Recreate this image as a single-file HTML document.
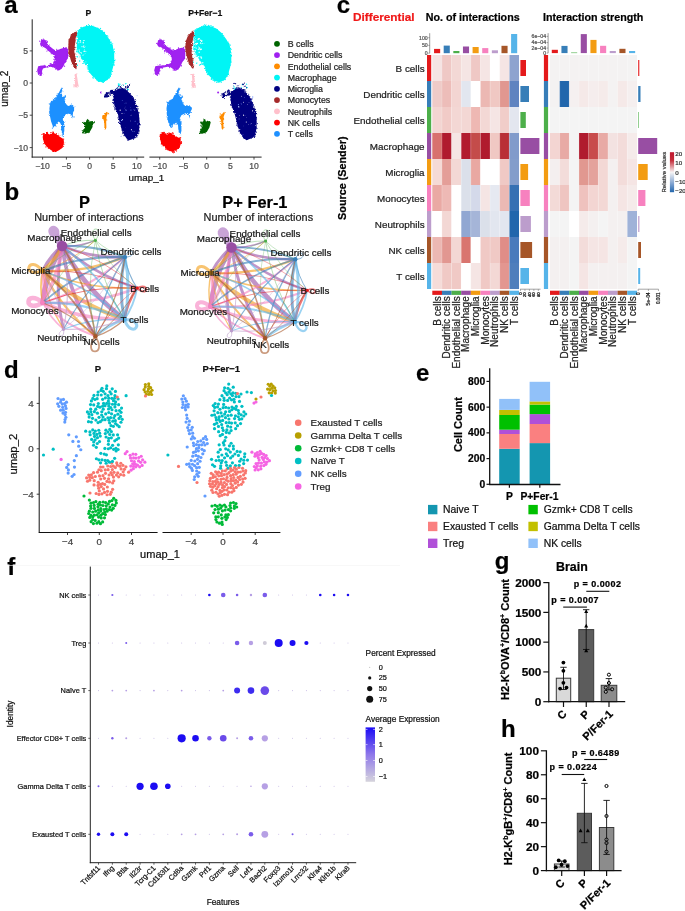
<!DOCTYPE html>
<html><head><meta charset="utf-8"><style>
html,body{margin:0;padding:0;background:#fff;}
body{width:685px;height:911px;overflow:hidden;}
svg{display:block;font-family:"Liberation Sans", sans-serif;will-change:transform;}
text{stroke:currentColor;stroke-width:0.22px;}
</style></head><body>
<svg width="685" height="911" viewBox="0 0 685 911">
<rect width="685" height="911" fill="#fff"/>
<text x="4.30" y="12.90" font-size="24" text-anchor="start" font-weight="bold" fill="#000" color="#000">a</text>
<line x1="32.20" y1="19.30" x2="32.20" y2="157.60" stroke="#222" stroke-width="1"/>
<line x1="31.70" y1="157.10" x2="144.20" y2="157.10" stroke="#222" stroke-width="1"/>
<line x1="149.40" y1="157.10" x2="261.60" y2="157.10" stroke="#222" stroke-width="1"/>
<line x1="29.70" y1="50.90" x2="32.20" y2="50.90" stroke="#222" stroke-width="0.8"/>
<text x="28.00" y="53.91" font-size="8.6" text-anchor="end" fill="#4d4d4d" color="#4d4d4d">5</text>
<line x1="29.70" y1="83.00" x2="32.20" y2="83.00" stroke="#222" stroke-width="0.8"/>
<text x="28.00" y="86.01" font-size="8.6" text-anchor="end" fill="#4d4d4d" color="#4d4d4d">0</text>
<line x1="29.70" y1="115.20" x2="32.20" y2="115.20" stroke="#222" stroke-width="0.8"/>
<text x="28.00" y="118.21" font-size="8.6" text-anchor="end" fill="#4d4d4d" color="#4d4d4d">−5</text>
<line x1="29.70" y1="147.60" x2="32.20" y2="147.60" stroke="#222" stroke-width="0.8"/>
<text x="28.00" y="150.61" font-size="8.6" text-anchor="end" fill="#4d4d4d" color="#4d4d4d">−10</text>
<line x1="42.60" y1="157.10" x2="42.60" y2="159.60" stroke="#222" stroke-width="0.8"/>
<text x="42.60" y="168.81" font-size="8.6" text-anchor="middle" fill="#4d4d4d" color="#4d4d4d">−10</text>
<line x1="66.40" y1="157.10" x2="66.40" y2="159.60" stroke="#222" stroke-width="0.8"/>
<text x="66.40" y="168.81" font-size="8.6" text-anchor="middle" fill="#4d4d4d" color="#4d4d4d">−5</text>
<line x1="89.60" y1="157.10" x2="89.60" y2="159.60" stroke="#222" stroke-width="0.8"/>
<text x="89.60" y="168.81" font-size="8.6" text-anchor="middle" fill="#4d4d4d" color="#4d4d4d">0</text>
<line x1="113.20" y1="157.10" x2="113.20" y2="159.60" stroke="#222" stroke-width="0.8"/>
<text x="113.20" y="168.81" font-size="8.6" text-anchor="middle" fill="#4d4d4d" color="#4d4d4d">5</text>
<line x1="136.90" y1="157.10" x2="136.90" y2="159.60" stroke="#222" stroke-width="0.8"/>
<text x="136.90" y="168.81" font-size="8.6" text-anchor="middle" fill="#4d4d4d" color="#4d4d4d">10</text>
<line x1="159.70" y1="157.10" x2="159.70" y2="159.60" stroke="#222" stroke-width="0.8"/>
<text x="159.70" y="168.81" font-size="8.6" text-anchor="middle" fill="#4d4d4d" color="#4d4d4d">−10</text>
<line x1="183.50" y1="157.10" x2="183.50" y2="159.60" stroke="#222" stroke-width="0.8"/>
<text x="183.50" y="168.81" font-size="8.6" text-anchor="middle" fill="#4d4d4d" color="#4d4d4d">−5</text>
<line x1="206.70" y1="157.10" x2="206.70" y2="159.60" stroke="#222" stroke-width="0.8"/>
<text x="206.70" y="168.81" font-size="8.6" text-anchor="middle" fill="#4d4d4d" color="#4d4d4d">0</text>
<line x1="230.30" y1="157.10" x2="230.30" y2="159.60" stroke="#222" stroke-width="0.8"/>
<text x="230.30" y="168.81" font-size="8.6" text-anchor="middle" fill="#4d4d4d" color="#4d4d4d">5</text>
<line x1="254.00" y1="157.10" x2="254.00" y2="159.60" stroke="#222" stroke-width="0.8"/>
<text x="254.00" y="168.81" font-size="8.6" text-anchor="middle" fill="#4d4d4d" color="#4d4d4d">10</text>
<text x="146.30" y="181.06" font-size="9.9" text-anchor="middle" fill="#111" color="#111">umap_1</text>
<text x="8.30" y="88.70" font-size="10.0" text-anchor="middle" fill="#111" color="#111" transform="rotate(-90 8.30 88.70)">umap_2</text>
<text x="88.30" y="16.11" font-size="8.6" text-anchor="middle" font-weight="bold" fill="#111" color="#111">P</text>
<text x="205.20" y="16.11" font-size="8.6" text-anchor="middle" font-weight="bold" fill="#111" color="#111">P+Fer−1</text>
<defs><filter id="rough" x="-10%" y="-10%" width="120%" height="120%"><feTurbulence type="fractalNoise" baseFrequency="0.9" numOctaves="1" seed="3" result="n"/><feDisplacementMap in="SourceGraphic" in2="n" scale="2.6" xChannelSelector="R" yChannelSelector="G"/></filter></defs>
<g filter="url(#rough)">
<polygon points="86.9,25.8 93.0,26.1 99.2,28.4 104.6,33.1 109.2,39.2 112.6,45.3 114.2,53.0 114.2,60.7 113.0,67.6 110.7,75.3 107.6,79.9 102.3,82.2 97.6,80.7 93.0,76.8 89.2,72.2 87.7,66.1 84.6,63.0 81.5,58.4 78.4,53.0 76.6,47.6 77.2,41.5 77.2,33.8 78.4,30.0 82.3,27.3" fill="#00f5f5"/>
<circle cx="102.39" cy="81.27" r="0.60" fill="#00f5f5"/>
<circle cx="81.36" cy="58.63" r="0.60" fill="#00f5f5"/>
<circle cx="114.08" cy="52.51" r="0.60" fill="#00f5f5"/>
<circle cx="101.38" cy="31.11" r="0.60" fill="#00f5f5"/>
<circle cx="113.59" cy="64.26" r="0.60" fill="#00f5f5"/>
<circle cx="78.54" cy="50.04" r="0.60" fill="#00f5f5"/>
<circle cx="109.54" cy="40.28" r="0.60" fill="#00f5f5"/>
<circle cx="109.29" cy="77.16" r="0.60" fill="#00f5f5"/>
<circle cx="77.02" cy="49.64" r="0.60" fill="#00f5f5"/>
<circle cx="102.46" cy="31.05" r="0.60" fill="#00f5f5"/>
<circle cx="79.84" cy="56.25" r="0.60" fill="#00f5f5"/>
<circle cx="88.20" cy="69.42" r="0.60" fill="#00f5f5"/>
<circle cx="113.74" cy="61.26" r="0.60" fill="#00f5f5"/>
<circle cx="103.35" cy="82.44" r="0.60" fill="#00f5f5"/>
<circle cx="106.35" cy="35.94" r="0.60" fill="#00f5f5"/>
<circle cx="87.22" cy="64.03" r="0.60" fill="#00f5f5"/>
<circle cx="80.40" cy="54.97" r="0.60" fill="#00f5f5"/>
<circle cx="79.76" cy="29.59" r="0.60" fill="#00f5f5"/>
<circle cx="104.54" cy="32.30" r="0.60" fill="#00f5f5"/>
<circle cx="77.69" cy="33.21" r="0.60" fill="#00f5f5"/>
<circle cx="77.19" cy="47.25" r="0.60" fill="#00f5f5"/>
<circle cx="93.24" cy="78.03" r="0.60" fill="#00f5f5"/>
<circle cx="100.82" cy="81.15" r="0.60" fill="#00f5f5"/>
<circle cx="109.84" cy="75.70" r="0.60" fill="#00f5f5"/>
<circle cx="87.36" cy="65.94" r="0.60" fill="#00f5f5"/>
<circle cx="112.64" cy="43.80" r="0.60" fill="#00f5f5"/>
<circle cx="89.58" cy="72.05" r="0.60" fill="#00f5f5"/>
<circle cx="113.44" cy="61.26" r="0.60" fill="#00f5f5"/>
<circle cx="114.78" cy="60.21" r="0.60" fill="#00f5f5"/>
<circle cx="110.54" cy="75.08" r="0.60" fill="#00f5f5"/>
<circle cx="77.15" cy="51.93" r="0.60" fill="#00f5f5"/>
<circle cx="77.42" cy="43.53" r="0.60" fill="#00f5f5"/>
<circle cx="77.96" cy="30.59" r="0.60" fill="#00f5f5"/>
<circle cx="106.64" cy="35.48" r="0.60" fill="#00f5f5"/>
<circle cx="113.50" cy="56.57" r="0.60" fill="#00f5f5"/>
<circle cx="103.97" cy="32.38" r="0.60" fill="#00f5f5"/>
<circle cx="98.64" cy="80.75" r="0.60" fill="#00f5f5"/>
<circle cx="96.47" cy="79.85" r="0.60" fill="#00f5f5"/>
<circle cx="99.38" cy="81.47" r="0.60" fill="#00f5f5"/>
<circle cx="88.14" cy="68.63" r="0.60" fill="#00f5f5"/>
<circle cx="83.45" cy="27.38" r="0.60" fill="#00f5f5"/>
<circle cx="112.90" cy="50.09" r="0.60" fill="#00f5f5"/>
<circle cx="101.69" cy="81.13" r="0.60" fill="#00f5f5"/>
<circle cx="83.93" cy="60.89" r="0.60" fill="#00f5f5"/>
<circle cx="112.54" cy="71.33" r="0.60" fill="#00f5f5"/>
<circle cx="114.06" cy="64.07" r="0.60" fill="#00f5f5"/>
<circle cx="113.98" cy="65.40" r="0.60" fill="#00f5f5"/>
<circle cx="114.77" cy="59.64" r="0.60" fill="#00f5f5"/>
<circle cx="113.95" cy="62.50" r="0.60" fill="#00f5f5"/>
<circle cx="91.67" cy="25.49" r="0.60" fill="#00f5f5"/>
<circle cx="77.08" cy="42.55" r="0.60" fill="#00f5f5"/>
<circle cx="97.57" cy="80.26" r="0.60" fill="#00f5f5"/>
<circle cx="113.34" cy="63.91" r="0.60" fill="#00f5f5"/>
<circle cx="77.07" cy="42.75" r="0.60" fill="#00f5f5"/>
<circle cx="77.49" cy="41.58" r="0.60" fill="#00f5f5"/>
<circle cx="81.29" cy="27.40" r="0.60" fill="#00f5f5"/>
<circle cx="77.74" cy="39.79" r="0.60" fill="#00f5f5"/>
<circle cx="95.91" cy="78.15" r="0.60" fill="#00f5f5"/>
<circle cx="112.20" cy="45.98" r="0.60" fill="#00f5f5"/>
<circle cx="87.35" cy="67.87" r="0.60" fill="#00f5f5"/>
<circle cx="85.39" cy="64.15" r="0.60" fill="#00f5f5"/>
<circle cx="109.81" cy="39.74" r="0.60" fill="#00f5f5"/>
<circle cx="107.80" cy="36.19" r="0.60" fill="#00f5f5"/>
<circle cx="113.68" cy="58.91" r="0.60" fill="#00f5f5"/>
<circle cx="109.62" cy="77.29" r="0.60" fill="#00f5f5"/>
<circle cx="79.54" cy="56.88" r="0.60" fill="#00f5f5"/>
<circle cx="98.37" cy="81.42" r="0.60" fill="#00f5f5"/>
<circle cx="84.05" cy="61.07" r="0.60" fill="#00f5f5"/>
<circle cx="81.05" cy="58.25" r="0.60" fill="#00f5f5"/>
<circle cx="114.07" cy="49.36" r="0.60" fill="#00f5f5"/>
<circle cx="111.22" cy="42.19" r="0.60" fill="#00f5f5"/>
<circle cx="104.04" cy="81.44" r="0.60" fill="#00f5f5"/>
<circle cx="107.87" cy="37.93" r="0.60" fill="#00f5f5"/>
<circle cx="97.80" cy="27.99" r="0.60" fill="#00f5f5"/>
<circle cx="101.80" cy="30.49" r="0.60" fill="#00f5f5"/>
<circle cx="83.58" cy="62.10" r="0.60" fill="#00f5f5"/>
<circle cx="85.67" cy="64.57" r="0.60" fill="#00f5f5"/>
<circle cx="111.58" cy="74.17" r="0.60" fill="#00f5f5"/>
<circle cx="88.31" cy="71.26" r="0.60" fill="#00f5f5"/>
<circle cx="102.70" cy="31.04" r="0.60" fill="#00f5f5"/>
<circle cx="108.98" cy="78.28" r="0.60" fill="#00f5f5"/>
<circle cx="80.67" cy="27.82" r="0.60" fill="#00f5f5"/>
<circle cx="111.98" cy="45.92" r="0.60" fill="#00f5f5"/>
<circle cx="92.92" cy="77.55" r="0.60" fill="#00f5f5"/>
<circle cx="113.88" cy="61.84" r="0.60" fill="#00f5f5"/>
<circle cx="105.11" cy="80.13" r="0.60" fill="#00f5f5"/>
<circle cx="102.31" cy="82.06" r="0.60" fill="#00f5f5"/>
<circle cx="89.28" cy="25.55" r="0.60" fill="#00f5f5"/>
<circle cx="100.56" cy="28.44" r="0.60" fill="#00f5f5"/>
<circle cx="104.58" cy="34.34" r="0.60" fill="#00f5f5"/>
<polygon points="41.0,40.5 44.0,39.2 46.8,41.3 47.3,44.0 49.5,46.3 52.5,48.5 55.5,50.5 59.0,49.5 62.5,48.3 66.0,47.5 67.8,49.8 68.3,53.5 67.9,58.5 65.4,61.5 63.9,65.2 61.7,68.7 58.8,70.5 55.9,69.0 53.5,67.2 50.5,66.8 46.5,67.5 43.0,68.5 42.0,71.0 42.3,74.0 40.6,76.0 38.0,74.5 37.2,70.0 38.2,66.3 42.0,65.5 46.5,65.5 50.5,64.5 53.8,63.0 54.8,59.0 54.0,55.5 51.5,53.5 48.5,51.0 46.0,48.5 43.5,47.0 41.0,46.5 40.0,44.0" fill="#a020f0"/>
<circle cx="67.53" cy="54.71" r="0.60" fill="#a020f0"/>
<circle cx="57.69" cy="69.92" r="0.60" fill="#a020f0"/>
<circle cx="53.76" cy="59.40" r="0.60" fill="#a020f0"/>
<circle cx="67.36" cy="56.42" r="0.60" fill="#a020f0"/>
<circle cx="54.16" cy="50.74" r="0.60" fill="#a020f0"/>
<circle cx="49.61" cy="46.00" r="0.60" fill="#a020f0"/>
<circle cx="48.20" cy="50.17" r="0.60" fill="#a020f0"/>
<circle cx="46.59" cy="42.02" r="0.60" fill="#a020f0"/>
<circle cx="67.36" cy="51.55" r="0.60" fill="#a020f0"/>
<circle cx="47.85" cy="67.07" r="0.60" fill="#a020f0"/>
<circle cx="68.74" cy="55.74" r="0.60" fill="#a020f0"/>
<circle cx="47.23" cy="41.43" r="0.60" fill="#a020f0"/>
<circle cx="66.16" cy="59.95" r="0.60" fill="#a020f0"/>
<circle cx="40.78" cy="66.47" r="0.60" fill="#a020f0"/>
<circle cx="54.04" cy="57.44" r="0.60" fill="#a020f0"/>
<circle cx="66.19" cy="61.24" r="0.60" fill="#a020f0"/>
<circle cx="38.08" cy="70.65" r="0.60" fill="#a020f0"/>
<circle cx="41.65" cy="39.97" r="0.60" fill="#a020f0"/>
<circle cx="68.13" cy="49.79" r="0.60" fill="#a020f0"/>
<circle cx="53.87" cy="56.19" r="0.60" fill="#a020f0"/>
<circle cx="52.80" cy="66.77" r="0.60" fill="#a020f0"/>
<circle cx="42.62" cy="41.01" r="0.60" fill="#a020f0"/>
<circle cx="46.85" cy="50.88" r="0.60" fill="#a020f0"/>
<circle cx="63.97" cy="62.61" r="0.60" fill="#a020f0"/>
<circle cx="51.70" cy="63.63" r="0.60" fill="#a020f0"/>
<circle cx="41.84" cy="39.74" r="0.60" fill="#a020f0"/>
<circle cx="42.54" cy="46.63" r="0.60" fill="#a020f0"/>
<circle cx="64.54" cy="66.13" r="0.60" fill="#a020f0"/>
<circle cx="67.57" cy="49.69" r="0.60" fill="#a020f0"/>
<circle cx="39.01" cy="74.84" r="0.60" fill="#a020f0"/>
<circle cx="51.59" cy="66.09" r="0.60" fill="#a020f0"/>
<circle cx="54.72" cy="57.37" r="0.60" fill="#a020f0"/>
<circle cx="66.14" cy="47.70" r="0.60" fill="#a020f0"/>
<circle cx="46.47" cy="41.64" r="0.60" fill="#a020f0"/>
<circle cx="62.89" cy="65.74" r="0.60" fill="#a020f0"/>
<circle cx="56.73" cy="49.31" r="0.60" fill="#a020f0"/>
<circle cx="46.08" cy="40.50" r="0.60" fill="#a020f0"/>
<circle cx="41.60" cy="40.68" r="0.60" fill="#a020f0"/>
<circle cx="51.27" cy="53.71" r="0.60" fill="#a020f0"/>
<circle cx="50.57" cy="63.70" r="0.60" fill="#a020f0"/>
<circle cx="65.32" cy="62.28" r="0.60" fill="#a020f0"/>
<circle cx="41.14" cy="75.50" r="0.60" fill="#a020f0"/>
<circle cx="47.37" cy="42.21" r="0.60" fill="#a020f0"/>
<circle cx="66.87" cy="48.61" r="0.60" fill="#a020f0"/>
<circle cx="39.69" cy="41.22" r="0.60" fill="#a020f0"/>
<circle cx="52.85" cy="66.74" r="0.60" fill="#a020f0"/>
<circle cx="54.12" cy="61.77" r="0.60" fill="#a020f0"/>
<circle cx="50.46" cy="64.82" r="0.60" fill="#a020f0"/>
<circle cx="47.37" cy="66.62" r="0.60" fill="#a020f0"/>
<circle cx="46.82" cy="66.31" r="0.60" fill="#a020f0"/>
<circle cx="55.72" cy="69.08" r="0.60" fill="#a020f0"/>
<circle cx="50.60" cy="47.62" r="0.60" fill="#a020f0"/>
<circle cx="42.65" cy="74.28" r="0.60" fill="#a020f0"/>
<circle cx="60.98" cy="49.37" r="0.60" fill="#a020f0"/>
<circle cx="53.58" cy="62.23" r="0.60" fill="#a020f0"/>
<circle cx="44.23" cy="65.35" r="0.60" fill="#a020f0"/>
<circle cx="40.39" cy="74.63" r="0.60" fill="#a020f0"/>
<circle cx="41.48" cy="71.37" r="0.60" fill="#a020f0"/>
<circle cx="43.33" cy="39.10" r="0.60" fill="#a020f0"/>
<circle cx="38.35" cy="71.98" r="0.60" fill="#a020f0"/>
<polygon points="61.6,87.3 62.1,89.9 61.2,94.3 63.4,96.9 66.0,96.0 64.3,99.5 66.0,103.9 68.2,106.1 71.3,105.2 73.9,107.0 74.3,110.0 72.6,113.5 73.0,118.8 71.3,114.4 67.8,113.5 64.3,115.3 62.5,118.8 64.3,123.2 64.3,131.0 63.0,135.4 61.2,129.3 60.8,123.2 58.6,121.4 55.5,124.9 53.3,127.5 51.1,121.4 49.8,115.3 49.4,108.3 50.3,103.0 52.9,100.4 55.9,98.6 56.8,96.0 59.0,92.5" fill="#1e90ff"/>
<circle cx="50.72" cy="103.90" r="0.60" fill="#1e90ff"/>
<circle cx="65.18" cy="96.93" r="0.60" fill="#1e90ff"/>
<circle cx="62.44" cy="118.37" r="0.60" fill="#1e90ff"/>
<circle cx="53.64" cy="126.09" r="0.60" fill="#1e90ff"/>
<circle cx="50.71" cy="115.92" r="0.60" fill="#1e90ff"/>
<circle cx="64.80" cy="99.63" r="0.60" fill="#1e90ff"/>
<circle cx="72.59" cy="105.55" r="0.60" fill="#1e90ff"/>
<circle cx="71.59" cy="105.11" r="0.60" fill="#1e90ff"/>
<circle cx="64.69" cy="121.62" r="0.60" fill="#1e90ff"/>
<circle cx="63.86" cy="116.16" r="0.60" fill="#1e90ff"/>
<circle cx="72.44" cy="112.25" r="0.60" fill="#1e90ff"/>
<circle cx="57.93" cy="93.77" r="0.60" fill="#1e90ff"/>
<circle cx="51.50" cy="101.43" r="0.60" fill="#1e90ff"/>
<circle cx="72.00" cy="114.84" r="0.60" fill="#1e90ff"/>
<circle cx="63.42" cy="121.50" r="0.60" fill="#1e90ff"/>
<circle cx="50.09" cy="112.10" r="0.60" fill="#1e90ff"/>
<circle cx="63.51" cy="125.44" r="0.60" fill="#1e90ff"/>
<circle cx="55.23" cy="125.46" r="0.60" fill="#1e90ff"/>
<circle cx="71.69" cy="114.11" r="0.60" fill="#1e90ff"/>
<circle cx="51.08" cy="102.44" r="0.60" fill="#1e90ff"/>
<circle cx="61.85" cy="90.93" r="0.60" fill="#1e90ff"/>
<circle cx="56.75" cy="95.31" r="0.60" fill="#1e90ff"/>
<circle cx="55.36" cy="97.95" r="0.60" fill="#1e90ff"/>
<circle cx="74.81" cy="106.75" r="0.60" fill="#1e90ff"/>
<circle cx="53.65" cy="99.35" r="0.60" fill="#1e90ff"/>
<circle cx="72.66" cy="105.88" r="0.60" fill="#1e90ff"/>
<circle cx="61.50" cy="129.58" r="0.60" fill="#1e90ff"/>
<circle cx="49.33" cy="103.82" r="0.60" fill="#1e90ff"/>
<circle cx="71.84" cy="117.27" r="0.60" fill="#1e90ff"/>
<circle cx="62.76" cy="88.30" r="0.60" fill="#1e90ff"/>
<circle cx="61.63" cy="125.32" r="0.60" fill="#1e90ff"/>
<circle cx="62.47" cy="117.06" r="0.60" fill="#1e90ff"/>
<circle cx="62.35" cy="135.76" r="0.60" fill="#1e90ff"/>
<circle cx="49.28" cy="114.60" r="0.60" fill="#1e90ff"/>
<circle cx="54.16" cy="125.20" r="0.60" fill="#1e90ff"/>
<circle cx="49.47" cy="111.88" r="0.60" fill="#1e90ff"/>
<circle cx="63.35" cy="133.72" r="0.60" fill="#1e90ff"/>
<circle cx="73.05" cy="116.94" r="0.60" fill="#1e90ff"/>
<circle cx="67.57" cy="113.27" r="0.60" fill="#1e90ff"/>
<circle cx="58.86" cy="93.84" r="0.60" fill="#1e90ff"/>
<circle cx="65.23" cy="95.85" r="0.60" fill="#1e90ff"/>
<circle cx="71.39" cy="114.23" r="0.60" fill="#1e90ff"/>
<circle cx="63.79" cy="97.12" r="0.60" fill="#1e90ff"/>
<circle cx="61.80" cy="125.61" r="0.60" fill="#1e90ff"/>
<circle cx="60.65" cy="122.90" r="0.60" fill="#1e90ff"/>
<circle cx="53.29" cy="100.12" r="0.60" fill="#1e90ff"/>
<circle cx="53.23" cy="126.76" r="0.60" fill="#1e90ff"/>
<circle cx="64.51" cy="101.55" r="0.60" fill="#1e90ff"/>
<circle cx="70.41" cy="105.38" r="0.60" fill="#1e90ff"/>
<circle cx="61.40" cy="129.57" r="0.60" fill="#1e90ff"/>
<circle cx="56.15" cy="97.99" r="0.60" fill="#1e90ff"/>
<circle cx="61.77" cy="126.23" r="0.60" fill="#1e90ff"/>
<circle cx="49.93" cy="113.39" r="0.60" fill="#1e90ff"/>
<circle cx="52.44" cy="128.04" r="0.60" fill="#1e90ff"/>
<circle cx="62.06" cy="119.85" r="0.60" fill="#1e90ff"/>
<circle cx="55.72" cy="125.82" r="0.60" fill="#1e90ff"/>
<circle cx="64.18" cy="122.85" r="0.60" fill="#1e90ff"/>
<circle cx="63.45" cy="136.13" r="0.60" fill="#1e90ff"/>
<circle cx="65.48" cy="96.04" r="0.60" fill="#1e90ff"/>
<circle cx="55.56" cy="98.23" r="0.60" fill="#1e90ff"/>
<polygon points="43.3,133.7 46.8,132.8 49.4,134.5 52.9,132.8 55.5,133.7 59.0,136.3 63.4,138.9 63.8,143.3 62.5,147.7 59.0,150.3 55.5,152.0 51.1,150.3 46.8,146.8 44.1,143.3 42.8,138.0" fill="#ff0000"/>
<circle cx="63.06" cy="142.48" r="0.60" fill="#ff0000"/>
<circle cx="46.54" cy="133.56" r="0.60" fill="#ff0000"/>
<circle cx="45.92" cy="146.92" r="0.60" fill="#ff0000"/>
<circle cx="63.84" cy="144.13" r="0.60" fill="#ff0000"/>
<circle cx="53.31" cy="132.99" r="0.60" fill="#ff0000"/>
<circle cx="55.45" cy="151.63" r="0.60" fill="#ff0000"/>
<circle cx="64.63" cy="142.36" r="0.60" fill="#ff0000"/>
<circle cx="47.20" cy="134.03" r="0.60" fill="#ff0000"/>
<circle cx="62.91" cy="143.99" r="0.60" fill="#ff0000"/>
<circle cx="43.58" cy="135.73" r="0.60" fill="#ff0000"/>
<circle cx="52.66" cy="150.34" r="0.60" fill="#ff0000"/>
<circle cx="57.26" cy="135.60" r="0.60" fill="#ff0000"/>
<circle cx="53.48" cy="132.72" r="0.60" fill="#ff0000"/>
<circle cx="58.74" cy="135.69" r="0.60" fill="#ff0000"/>
<circle cx="63.04" cy="140.05" r="0.60" fill="#ff0000"/>
<circle cx="52.22" cy="151.51" r="0.60" fill="#ff0000"/>
<circle cx="47.50" cy="132.32" r="0.60" fill="#ff0000"/>
<circle cx="61.78" cy="146.95" r="0.60" fill="#ff0000"/>
<circle cx="47.11" cy="133.48" r="0.60" fill="#ff0000"/>
<circle cx="55.09" cy="134.30" r="0.60" fill="#ff0000"/>
<circle cx="63.51" cy="146.25" r="0.60" fill="#ff0000"/>
<circle cx="43.84" cy="133.82" r="0.60" fill="#ff0000"/>
<circle cx="52.71" cy="132.01" r="0.60" fill="#ff0000"/>
<circle cx="56.05" cy="134.54" r="0.60" fill="#ff0000"/>
<circle cx="43.77" cy="143.56" r="0.60" fill="#ff0000"/>
<circle cx="50.81" cy="132.60" r="0.60" fill="#ff0000"/>
<circle cx="62.30" cy="144.99" r="0.60" fill="#ff0000"/>
<circle cx="63.04" cy="141.88" r="0.60" fill="#ff0000"/>
<circle cx="55.13" cy="151.56" r="0.60" fill="#ff0000"/>
<circle cx="57.69" cy="134.63" r="0.60" fill="#ff0000"/>
<circle cx="48.41" cy="148.17" r="0.60" fill="#ff0000"/>
<circle cx="43.65" cy="139.50" r="0.60" fill="#ff0000"/>
<circle cx="63.16" cy="141.21" r="0.60" fill="#ff0000"/>
<circle cx="42.18" cy="136.59" r="0.60" fill="#ff0000"/>
<circle cx="55.84" cy="151.19" r="0.60" fill="#ff0000"/>
<circle cx="42.84" cy="134.21" r="0.60" fill="#ff0000"/>
<circle cx="63.66" cy="139.06" r="0.60" fill="#ff0000"/>
<circle cx="61.63" cy="147.54" r="0.60" fill="#ff0000"/>
<circle cx="51.94" cy="132.91" r="0.60" fill="#ff0000"/>
<circle cx="45.21" cy="143.67" r="0.60" fill="#ff0000"/>
<polygon points="87.9,118.8 88.8,121.4 92.7,121.0 93.6,122.3 92.3,127.5 89.7,131.9 85.3,133.7 82.2,132.3 84.4,128.4 85.3,124.9 82.7,122.7 85.7,122.3 86.6,120.1" fill="#006400"/>
<circle cx="88.75" cy="120.53" r="0.60" fill="#006400"/>
<circle cx="84.59" cy="122.76" r="0.60" fill="#006400"/>
<circle cx="93.92" cy="122.05" r="0.60" fill="#006400"/>
<circle cx="83.69" cy="122.47" r="0.60" fill="#006400"/>
<circle cx="94.34" cy="121.90" r="0.60" fill="#006400"/>
<circle cx="88.70" cy="132.53" r="0.60" fill="#006400"/>
<circle cx="93.66" cy="122.98" r="0.60" fill="#006400"/>
<circle cx="88.18" cy="120.34" r="0.60" fill="#006400"/>
<circle cx="83.64" cy="129.81" r="0.60" fill="#006400"/>
<circle cx="83.89" cy="133.07" r="0.60" fill="#006400"/>
<circle cx="87.62" cy="131.85" r="0.60" fill="#006400"/>
<circle cx="82.67" cy="122.63" r="0.60" fill="#006400"/>
<circle cx="83.20" cy="122.61" r="0.60" fill="#006400"/>
<circle cx="82.30" cy="130.48" r="0.60" fill="#006400"/>
<circle cx="89.19" cy="132.08" r="0.60" fill="#006400"/>
<polygon points="107.0,111.8 107.8,113.0 106.5,117.0 106.2,122.0 106.4,127.5 105.6,129.8 104.5,128.5 104.2,122.0 103.5,119.5 102.2,117.5 102.8,115.0 105.0,114.0" fill="#ff8c00"/>
<circle cx="106.37" cy="112.61" r="0.60" fill="#ff8c00"/>
<circle cx="104.77" cy="127.99" r="0.60" fill="#ff8c00"/>
<circle cx="102.61" cy="118.22" r="0.60" fill="#ff8c00"/>
<circle cx="108.58" cy="113.25" r="0.60" fill="#ff8c00"/>
<circle cx="108.42" cy="113.76" r="0.60" fill="#ff8c00"/>
<circle cx="106.69" cy="119.93" r="0.60" fill="#ff8c00"/>
<circle cx="104.48" cy="128.69" r="0.60" fill="#ff8c00"/>
<circle cx="102.93" cy="116.17" r="0.60" fill="#ff8c00"/>
<polygon points="114.0,92.0 118.0,89.0 122.0,88.0 126.0,90.0 130.0,93.5 134.0,99.0 136.8,106.0 138.8,113.6 139.6,121.6 139.2,129.6 137.6,136.0 133.6,138.5 129.5,140.3 126.5,138.5 123.0,133.0 120.7,126.4 119.1,120.0 117.5,113.6 115.5,108.5 114.0,104.0 113.5,98.0" fill="#000080"/>
<circle cx="117.52" cy="113.99" r="0.60" fill="#000080"/>
<circle cx="113.42" cy="100.13" r="0.60" fill="#000080"/>
<circle cx="135.38" cy="101.43" r="0.60" fill="#000080"/>
<circle cx="133.42" cy="138.75" r="0.60" fill="#000080"/>
<circle cx="128.26" cy="93.33" r="0.60" fill="#000080"/>
<circle cx="121.87" cy="130.02" r="0.60" fill="#000080"/>
<circle cx="127.07" cy="91.52" r="0.60" fill="#000080"/>
<circle cx="133.40" cy="139.12" r="0.60" fill="#000080"/>
<circle cx="131.49" cy="138.61" r="0.60" fill="#000080"/>
<circle cx="112.82" cy="100.11" r="0.60" fill="#000080"/>
<circle cx="140.31" cy="124.75" r="0.60" fill="#000080"/>
<circle cx="135.11" cy="137.33" r="0.60" fill="#000080"/>
<circle cx="138.09" cy="133.57" r="0.60" fill="#000080"/>
<circle cx="118.04" cy="89.14" r="0.60" fill="#000080"/>
<circle cx="114.34" cy="91.48" r="0.60" fill="#000080"/>
<circle cx="118.03" cy="117.86" r="0.60" fill="#000080"/>
<circle cx="115.06" cy="108.49" r="0.60" fill="#000080"/>
<circle cx="135.16" cy="99.48" r="0.60" fill="#000080"/>
<circle cx="131.02" cy="95.34" r="0.60" fill="#000080"/>
<circle cx="139.01" cy="123.94" r="0.60" fill="#000080"/>
<circle cx="114.62" cy="93.25" r="0.60" fill="#000080"/>
<circle cx="115.62" cy="106.92" r="0.60" fill="#000080"/>
<circle cx="138.03" cy="114.13" r="0.60" fill="#000080"/>
<circle cx="115.15" cy="89.99" r="0.60" fill="#000080"/>
<circle cx="126.14" cy="90.84" r="0.60" fill="#000080"/>
<circle cx="131.69" cy="96.03" r="0.60" fill="#000080"/>
<circle cx="114.38" cy="93.56" r="0.60" fill="#000080"/>
<circle cx="139.32" cy="130.90" r="0.60" fill="#000080"/>
<circle cx="118.67" cy="122.44" r="0.60" fill="#000080"/>
<circle cx="123.09" cy="131.88" r="0.60" fill="#000080"/>
<circle cx="127.30" cy="90.24" r="0.60" fill="#000080"/>
<circle cx="138.89" cy="127.39" r="0.60" fill="#000080"/>
<circle cx="124.85" cy="135.58" r="0.60" fill="#000080"/>
<circle cx="139.01" cy="133.20" r="0.60" fill="#000080"/>
<circle cx="118.64" cy="119.43" r="0.60" fill="#000080"/>
<circle cx="139.13" cy="112.87" r="0.60" fill="#000080"/>
<circle cx="128.04" cy="140.44" r="0.60" fill="#000080"/>
<circle cx="114.83" cy="93.08" r="0.60" fill="#000080"/>
<circle cx="117.17" cy="111.56" r="0.60" fill="#000080"/>
<circle cx="116.15" cy="90.81" r="0.60" fill="#000080"/>
<circle cx="137.74" cy="134.80" r="0.60" fill="#000080"/>
<circle cx="113.49" cy="103.55" r="0.60" fill="#000080"/>
<circle cx="127.88" cy="93.04" r="0.60" fill="#000080"/>
<circle cx="113.47" cy="92.17" r="0.60" fill="#000080"/>
<circle cx="121.21" cy="87.52" r="0.60" fill="#000080"/>
<circle cx="113.82" cy="105.89" r="0.60" fill="#000080"/>
<circle cx="114.94" cy="109.72" r="0.60" fill="#000080"/>
<circle cx="128.65" cy="139.41" r="0.60" fill="#000080"/>
<circle cx="122.54" cy="88.51" r="0.60" fill="#000080"/>
<circle cx="125.54" cy="89.27" r="0.60" fill="#000080"/>
<circle cx="127.06" cy="90.73" r="0.60" fill="#000080"/>
<circle cx="138.55" cy="130.78" r="0.60" fill="#000080"/>
<circle cx="138.42" cy="129.51" r="0.60" fill="#000080"/>
<circle cx="134.71" cy="137.88" r="0.60" fill="#000080"/>
<circle cx="137.37" cy="133.40" r="0.60" fill="#000080"/>
<circle cx="123.96" cy="135.59" r="0.60" fill="#000080"/>
<circle cx="119.64" cy="89.11" r="0.60" fill="#000080"/>
<circle cx="123.91" cy="89.03" r="0.60" fill="#000080"/>
<circle cx="119.25" cy="119.57" r="0.60" fill="#000080"/>
<circle cx="114.66" cy="91.31" r="0.60" fill="#000080"/>
<circle cx="136.87" cy="106.59" r="0.60" fill="#000080"/>
<circle cx="119.48" cy="117.94" r="0.60" fill="#000080"/>
<circle cx="138.19" cy="112.53" r="0.60" fill="#000080"/>
<circle cx="113.87" cy="94.28" r="0.60" fill="#000080"/>
<circle cx="116.16" cy="109.33" r="0.60" fill="#000080"/>
<circle cx="127.42" cy="139.07" r="0.60" fill="#000080"/>
<circle cx="122.54" cy="133.08" r="0.60" fill="#000080"/>
<circle cx="139.51" cy="124.43" r="0.60" fill="#000080"/>
<circle cx="113.55" cy="96.66" r="0.60" fill="#000080"/>
<circle cx="113.40" cy="99.81" r="0.60" fill="#000080"/>
<circle cx="133.38" cy="98.37" r="0.60" fill="#000080"/>
<circle cx="136.81" cy="136.92" r="0.60" fill="#000080"/>
<circle cx="114.85" cy="107.72" r="0.60" fill="#000080"/>
<circle cx="138.79" cy="118.12" r="0.60" fill="#000080"/>
<circle cx="113.30" cy="102.62" r="0.60" fill="#000080"/>
<circle cx="134.92" cy="137.03" r="0.60" fill="#000080"/>
<circle cx="138.14" cy="108.86" r="0.60" fill="#000080"/>
<circle cx="135.98" cy="105.53" r="0.60" fill="#000080"/>
<circle cx="133.60" cy="97.75" r="0.60" fill="#000080"/>
<circle cx="137.76" cy="106.44" r="0.60" fill="#000080"/>
<polygon points="75.0,74.0 76.5,73.8 77.3,78.0 78.0,83.0 78.8,86.5 77.5,87.6 75.2,87.3 74.4,85.0 75.2,80.0 74.8,76.0" fill="#ffc0cb"/>
<circle cx="73.95" cy="86.87" r="0.60" fill="#ffc0cb"/>
<circle cx="74.65" cy="85.94" r="0.60" fill="#ffc0cb"/>
<circle cx="73.98" cy="85.32" r="0.60" fill="#ffc0cb"/>
<circle cx="76.85" cy="73.73" r="0.60" fill="#ffc0cb"/>
<circle cx="75.18" cy="75.45" r="0.60" fill="#ffc0cb"/>
<circle cx="75.29" cy="74.55" r="0.60" fill="#ffc0cb"/>
<polygon points="76.3,31.5 77.2,33.0 76.2,38.0 75.0,43.9 74.3,51.2 75.2,57.0 76.2,62.9 76.4,67.3 75.2,68.7 73.4,65.8 71.2,61.4 69.2,54.8 68.2,48.3 68.5,41.7 70.5,36.6 73.4,33.0" fill="#a52a2a"/>
<circle cx="71.32" cy="35.40" r="0.60" fill="#a52a2a"/>
<circle cx="68.81" cy="40.85" r="0.60" fill="#a52a2a"/>
<circle cx="75.31" cy="58.39" r="0.60" fill="#a52a2a"/>
<circle cx="69.83" cy="39.73" r="0.60" fill="#a52a2a"/>
<circle cx="69.44" cy="56.25" r="0.60" fill="#a52a2a"/>
<circle cx="75.05" cy="43.57" r="0.60" fill="#a52a2a"/>
<circle cx="75.59" cy="65.32" r="0.60" fill="#a52a2a"/>
<circle cx="76.37" cy="66.31" r="0.60" fill="#a52a2a"/>
<circle cx="68.52" cy="52.22" r="0.60" fill="#a52a2a"/>
<circle cx="75.83" cy="67.28" r="0.60" fill="#a52a2a"/>
<circle cx="74.69" cy="49.47" r="0.60" fill="#a52a2a"/>
<circle cx="74.53" cy="67.03" r="0.60" fill="#a52a2a"/>
<circle cx="70.56" cy="37.35" r="0.60" fill="#a52a2a"/>
<circle cx="74.65" cy="68.20" r="0.60" fill="#a52a2a"/>
<circle cx="76.04" cy="68.62" r="0.60" fill="#a52a2a"/>
<circle cx="75.83" cy="58.32" r="0.60" fill="#a52a2a"/>
<circle cx="76.41" cy="64.47" r="0.60" fill="#a52a2a"/>
<circle cx="74.87" cy="53.82" r="0.60" fill="#a52a2a"/>
<circle cx="69.07" cy="39.40" r="0.60" fill="#a52a2a"/>
<circle cx="74.95" cy="56.23" r="0.60" fill="#a52a2a"/>
<circle cx="75.86" cy="67.23" r="0.60" fill="#a52a2a"/>
<circle cx="69.82" cy="38.79" r="0.60" fill="#a52a2a"/>
<circle cx="74.83" cy="67.34" r="0.60" fill="#a52a2a"/>
<circle cx="74.89" cy="32.64" r="0.60" fill="#a52a2a"/>
<circle cx="68.69" cy="53.60" r="0.60" fill="#a52a2a"/>
<circle cx="75.94" cy="43.40" r="0.60" fill="#a52a2a"/>
<circle cx="74.50" cy="54.43" r="0.60" fill="#a52a2a"/>
<circle cx="75.72" cy="31.44" r="0.60" fill="#a52a2a"/>
<circle cx="75.23" cy="47.56" r="0.60" fill="#a52a2a"/>
<circle cx="70.88" cy="36.08" r="0.60" fill="#a52a2a"/>
<circle cx="83.92" cy="42.70" r="0.76" fill="#00f5f5"/>
<circle cx="85.77" cy="40.53" r="0.76" fill="#00f5f5"/>
<circle cx="83.88" cy="61.49" r="0.48" fill="#00f5f5"/>
<circle cx="78.13" cy="40.20" r="0.74" fill="#00f5f5"/>
<circle cx="84.83" cy="53.54" r="0.51" fill="#fff"/>
<circle cx="84.27" cy="51.25" r="0.62" fill="#fff"/>
<circle cx="80.67" cy="42.04" r="0.60" fill="#fff"/>
<circle cx="77.65" cy="54.79" r="0.69" fill="#fff"/>
<circle cx="84.41" cy="51.10" r="0.63" fill="#00f5f5"/>
<circle cx="78.97" cy="51.04" r="0.57" fill="#00f5f5"/>
<circle cx="76.75" cy="55.84" r="0.65" fill="#fff"/>
<circle cx="76.21" cy="39.28" r="0.69" fill="#fff"/>
<circle cx="84.09" cy="40.63" r="0.59" fill="#fff"/>
<circle cx="76.34" cy="58.11" r="0.65" fill="#fff"/>
<circle cx="76.94" cy="56.45" r="0.54" fill="#00f5f5"/>
<circle cx="81.54" cy="63.55" r="0.51" fill="#fff"/>
<circle cx="80.22" cy="53.51" r="0.73" fill="#fff"/>
<circle cx="79.55" cy="51.82" r="0.53" fill="#fff"/>
<circle cx="84.73" cy="47.65" r="0.48" fill="#fff"/>
<circle cx="83.92" cy="47.27" r="0.53" fill="#fff"/>
<circle cx="77.28" cy="65.24" r="0.44" fill="#fff"/>
<circle cx="79.99" cy="53.52" r="0.56" fill="#00f5f5"/>
<circle cx="76.50" cy="46.41" r="0.40" fill="#fff"/>
<circle cx="84.22" cy="51.30" r="0.71" fill="#fff"/>
<circle cx="83.89" cy="63.48" r="0.64" fill="#00f5f5"/>
<circle cx="77.47" cy="56.86" r="0.68" fill="#00f5f5"/>
<circle cx="76.83" cy="39.11" r="0.65" fill="#00f5f5"/>
<circle cx="83.63" cy="40.84" r="0.47" fill="#fff"/>
<circle cx="80.22" cy="40.82" r="0.77" fill="#fff"/>
<circle cx="79.69" cy="61.03" r="0.71" fill="#00f5f5"/>
<circle cx="83.10" cy="62.15" r="0.47" fill="#fff"/>
<circle cx="79.18" cy="50.06" r="0.66" fill="#fff"/>
<circle cx="80.98" cy="52.62" r="0.73" fill="#fff"/>
<circle cx="81.75" cy="63.72" r="0.58" fill="#fff"/>
<circle cx="82.80" cy="54.63" r="0.80" fill="#00f5f5"/>
<circle cx="85.81" cy="51.31" r="0.56" fill="#fff"/>
<circle cx="76.83" cy="51.22" r="0.76" fill="#00f5f5"/>
<circle cx="76.16" cy="38.13" r="0.67" fill="#fff"/>
<circle cx="85.87" cy="62.04" r="0.49" fill="#fff"/>
<circle cx="77.29" cy="38.50" r="0.69" fill="#fff"/>
<circle cx="80.51" cy="58.84" r="0.77" fill="#fff"/>
<circle cx="83.74" cy="57.98" r="0.74" fill="#00f5f5"/>
<circle cx="83.59" cy="46.21" r="0.62" fill="#fff"/>
<circle cx="80.61" cy="64.11" r="0.50" fill="#fff"/>
<circle cx="83.17" cy="38.32" r="0.41" fill="#00f5f5"/>
<circle cx="82.87" cy="55.31" r="0.56" fill="#fff"/>
<circle cx="83.29" cy="42.65" r="0.74" fill="#fff"/>
<circle cx="82.09" cy="46.86" r="0.78" fill="#00f5f5"/>
<circle cx="80.39" cy="56.95" r="0.46" fill="#fff"/>
<circle cx="79.63" cy="56.06" r="0.65" fill="#fff"/>
<circle cx="80.77" cy="59.79" r="0.58" fill="#fff"/>
<circle cx="83.85" cy="53.87" r="0.52" fill="#fff"/>
<circle cx="82.22" cy="56.23" r="0.72" fill="#00f5f5"/>
<circle cx="79.32" cy="54.96" r="0.79" fill="#fff"/>
<circle cx="82.01" cy="46.64" r="0.57" fill="#fff"/>
<circle cx="79.77" cy="57.18" r="0.64" fill="#fff"/>
<circle cx="84.07" cy="45.93" r="0.40" fill="#fff"/>
<circle cx="78.68" cy="42.40" r="0.77" fill="#fff"/>
<circle cx="78.89" cy="41.94" r="0.76" fill="#00f5f5"/>
<circle cx="77.47" cy="65.31" r="0.72" fill="#00f5f5"/>
<circle cx="112.65" cy="92.09" r="0.53" fill="#000080"/>
<circle cx="111.20" cy="91.97" r="0.80" fill="#000080"/>
<circle cx="113.25" cy="92.24" r="0.77" fill="#000080"/>
<circle cx="108.98" cy="92.56" r="0.80" fill="#000080"/>
<circle cx="112.53" cy="90.52" r="0.82" fill="#000080"/>
<circle cx="111.81" cy="92.76" r="0.86" fill="#000080"/>
<circle cx="113.52" cy="91.86" r="0.74" fill="#000080"/>
<circle cx="106.46" cy="93.34" r="0.78" fill="#000080"/>
<circle cx="108.92" cy="93.62" r="0.71" fill="#000080"/>
<circle cx="105.75" cy="97.09" r="0.65" fill="#000080"/>
<circle cx="106.77" cy="96.34" r="0.56" fill="#000080"/>
<circle cx="110.50" cy="93.20" r="0.51" fill="#000080"/>
<circle cx="106.98" cy="96.98" r="0.69" fill="#000080"/>
<circle cx="110.03" cy="94.46" r="0.67" fill="#000080"/>
<circle cx="114.66" cy="93.12" r="0.89" fill="#000080"/>
<circle cx="106.68" cy="93.17" r="0.57" fill="#000080"/>
<circle cx="105.18" cy="95.42" r="0.85" fill="#000080"/>
<circle cx="110.70" cy="95.47" r="0.53" fill="#000080"/>
<circle cx="110.64" cy="91.44" r="0.88" fill="#000080"/>
<circle cx="107.97" cy="95.09" r="0.88" fill="#000080"/>
<circle cx="111.27" cy="92.59" r="0.56" fill="#000080"/>
<circle cx="115.37" cy="90.41" r="0.52" fill="#000080"/>
<circle cx="107.45" cy="96.25" r="0.86" fill="#000080"/>
<circle cx="111.95" cy="93.41" r="0.78" fill="#000080"/>
<circle cx="112.49" cy="90.96" r="0.56" fill="#000080"/>
<circle cx="113.35" cy="93.26" r="0.62" fill="#000080"/>
<circle cx="111.44" cy="91.40" r="0.63" fill="#000080"/>
<circle cx="106.91" cy="94.39" r="0.57" fill="#000080"/>
<circle cx="106.79" cy="95.33" r="0.51" fill="#000080"/>
<circle cx="111.22" cy="90.59" r="0.87" fill="#000080"/>
<circle cx="108.53" cy="96.23" r="0.86" fill="#000080"/>
<circle cx="106.63" cy="93.17" r="0.87" fill="#000080"/>
<circle cx="113.39" cy="91.92" r="0.64" fill="#000080"/>
<circle cx="112.85" cy="92.77" r="0.56" fill="#000080"/>
<circle cx="106.43" cy="95.55" r="0.72" fill="#000080"/>
<circle cx="107.69" cy="93.89" r="0.66" fill="#000080"/>
<circle cx="106.35" cy="96.37" r="0.63" fill="#000080"/>
<circle cx="106.99" cy="94.03" r="0.86" fill="#000080"/>
<circle cx="107.68" cy="93.09" r="0.86" fill="#000080"/>
<circle cx="110.82" cy="92.73" r="0.61" fill="#000080"/>
<circle cx="107.10" cy="93.87" r="0.90" fill="#000080"/>
<circle cx="115.50" cy="89.74" r="0.62" fill="#000080"/>
<circle cx="112.50" cy="92.91" r="0.62" fill="#000080"/>
<circle cx="113.15" cy="92.94" r="0.64" fill="#000080"/>
<circle cx="105.57" cy="96.40" r="0.71" fill="#000080"/>
<circle cx="118.60" cy="86.05" r="0.77" fill="#000080"/>
<circle cx="119.88" cy="84.26" r="0.75" fill="#00f5f5"/>
<circle cx="126.79" cy="87.98" r="0.56" fill="#000080"/>
<circle cx="127.61" cy="89.23" r="0.72" fill="#000080"/>
<circle cx="118.45" cy="83.96" r="0.70" fill="#00f5f5"/>
<circle cx="127.36" cy="87.08" r="0.56" fill="#000080"/>
<circle cx="125.69" cy="86.64" r="0.75" fill="#000080"/>
<circle cx="123.26" cy="85.43" r="0.58" fill="#00f5f5"/>
<circle cx="128.10" cy="86.45" r="0.50" fill="#000080"/>
<circle cx="117.87" cy="87.66" r="0.57" fill="#00f5f5"/>
<circle cx="127.64" cy="85.57" r="0.55" fill="#000080"/>
<circle cx="124.05" cy="89.01" r="0.61" fill="#000080"/>
<circle cx="129.56" cy="83.50" r="0.61" fill="#000080"/>
<circle cx="127.43" cy="89.06" r="0.60" fill="#00f5f5"/>
<circle cx="128.15" cy="87.03" r="0.77" fill="#000080"/>
<circle cx="128.22" cy="89.68" r="0.65" fill="#00f5f5"/>
<circle cx="116.36" cy="88.63" r="0.54" fill="#000080"/>
<circle cx="129.54" cy="84.57" r="0.55" fill="#000080"/>
<circle cx="120.37" cy="86.89" r="0.79" fill="#000080"/>
<circle cx="117.35" cy="87.89" r="0.56" fill="#000080"/>
<circle cx="127.72" cy="87.46" r="0.64" fill="#000080"/>
<circle cx="125.84" cy="83.72" r="0.76" fill="#00f5f5"/>
<circle cx="118.51" cy="84.91" r="0.64" fill="#00f5f5"/>
<circle cx="123.01" cy="84.96" r="0.54" fill="#000080"/>
<circle cx="128.38" cy="86.79" r="0.57" fill="#000080"/>
<circle cx="122.65" cy="119.63" r="0.52" fill="#fff"/>
<circle cx="137.07" cy="95.80" r="0.49" fill="#7fa0ff"/>
<circle cx="130.75" cy="120.92" r="0.31" fill="#fff"/>
<circle cx="133.98" cy="109.56" r="0.37" fill="#7fa0ff"/>
<circle cx="132.88" cy="131.25" r="0.47" fill="#7fa0ff"/>
<circle cx="134.67" cy="131.45" r="0.32" fill="#fff"/>
<circle cx="137.24" cy="135.18" r="0.37" fill="#7fa0ff"/>
<circle cx="131.94" cy="95.50" r="0.33" fill="#fff"/>
<circle cx="121.25" cy="113.62" r="0.45" fill="#fff"/>
<circle cx="124.06" cy="113.09" r="0.42" fill="#7fa0ff"/>
<circle cx="131.40" cy="129.80" r="0.57" fill="#fff"/>
<circle cx="120.62" cy="122.59" r="0.38" fill="#7fa0ff"/>
<circle cx="131.31" cy="129.67" r="0.31" fill="#fff"/>
<circle cx="124.51" cy="117.37" r="0.43" fill="#fff"/>
<circle cx="125.18" cy="108.13" r="0.49" fill="#fff"/>
<circle cx="121.09" cy="136.24" r="0.58" fill="#7fa0ff"/>
<circle cx="121.52" cy="120.38" r="0.58" fill="#7fa0ff"/>
<circle cx="122.23" cy="100.65" r="0.39" fill="#7fa0ff"/>
<circle cx="130.39" cy="106.79" r="0.52" fill="#7fa0ff"/>
<circle cx="135.12" cy="121.23" r="0.47" fill="#7fa0ff"/>
<circle cx="123.62" cy="125.55" r="0.44" fill="#7fa0ff"/>
<circle cx="131.03" cy="115.17" r="0.39" fill="#fff"/>
<circle cx="126.01" cy="103.12" r="0.46" fill="#7fa0ff"/>
<circle cx="120.21" cy="110.16" r="0.56" fill="#fff"/>
<circle cx="125.83" cy="109.00" r="0.38" fill="#fff"/>
<circle cx="125.32" cy="128.20" r="0.35" fill="#fff"/>
<circle cx="130.91" cy="109.96" r="0.50" fill="#7fa0ff"/>
<circle cx="135.02" cy="110.23" r="0.53" fill="#fff"/>
<circle cx="137.81" cy="124.14" r="0.58" fill="#7fa0ff"/>
<circle cx="126.07" cy="110.16" r="0.50" fill="#7fa0ff"/>
<circle cx="101.00" cy="92.60" r="1.00" fill="#a020f0"/>
</g>
<g filter="url(#rough)">
<polygon points="204.0,25.8 210.1,26.1 216.3,28.4 221.7,33.1 226.3,39.2 229.7,45.3 231.3,53.0 231.3,60.7 230.1,67.6 227.8,75.3 224.7,79.9 219.4,82.2 214.7,80.7 210.1,76.8 206.3,72.2 204.8,66.1 201.7,63.0 198.6,58.4 195.5,53.0 193.7,47.6 194.3,41.5 194.3,33.8 195.5,30.0 199.4,27.3" fill="#00f5f5"/>
<circle cx="202.05" cy="63.32" r="0.60" fill="#00f5f5"/>
<circle cx="204.20" cy="65.50" r="0.60" fill="#00f5f5"/>
<circle cx="196.66" cy="28.76" r="0.60" fill="#00f5f5"/>
<circle cx="196.78" cy="56.07" r="0.60" fill="#00f5f5"/>
<circle cx="195.86" cy="51.79" r="0.60" fill="#00f5f5"/>
<circle cx="193.85" cy="43.81" r="0.60" fill="#00f5f5"/>
<circle cx="205.60" cy="70.18" r="0.60" fill="#00f5f5"/>
<circle cx="199.77" cy="60.12" r="0.60" fill="#00f5f5"/>
<circle cx="203.31" cy="25.92" r="0.60" fill="#00f5f5"/>
<circle cx="231.10" cy="49.32" r="0.60" fill="#00f5f5"/>
<circle cx="211.28" cy="79.19" r="0.60" fill="#00f5f5"/>
<circle cx="219.76" cy="81.67" r="0.60" fill="#00f5f5"/>
<circle cx="223.48" cy="81.11" r="0.60" fill="#00f5f5"/>
<circle cx="203.72" cy="26.52" r="0.60" fill="#00f5f5"/>
<circle cx="225.44" cy="79.60" r="0.60" fill="#00f5f5"/>
<circle cx="208.16" cy="74.75" r="0.60" fill="#00f5f5"/>
<circle cx="211.74" cy="79.21" r="0.60" fill="#00f5f5"/>
<circle cx="205.20" cy="66.46" r="0.60" fill="#00f5f5"/>
<circle cx="223.59" cy="35.87" r="0.60" fill="#00f5f5"/>
<circle cx="194.66" cy="52.03" r="0.60" fill="#00f5f5"/>
<circle cx="212.90" cy="79.88" r="0.60" fill="#00f5f5"/>
<circle cx="221.48" cy="80.76" r="0.60" fill="#00f5f5"/>
<circle cx="218.77" cy="82.31" r="0.60" fill="#00f5f5"/>
<circle cx="201.44" cy="61.82" r="0.60" fill="#00f5f5"/>
<circle cx="221.23" cy="82.49" r="0.60" fill="#00f5f5"/>
<circle cx="207.75" cy="74.47" r="0.60" fill="#00f5f5"/>
<circle cx="230.74" cy="56.32" r="0.60" fill="#00f5f5"/>
<circle cx="193.59" cy="37.28" r="0.60" fill="#00f5f5"/>
<circle cx="193.48" cy="36.44" r="0.60" fill="#00f5f5"/>
<circle cx="206.21" cy="25.00" r="0.60" fill="#00f5f5"/>
<circle cx="225.84" cy="76.26" r="0.60" fill="#00f5f5"/>
<circle cx="205.20" cy="25.95" r="0.60" fill="#00f5f5"/>
<circle cx="228.81" cy="74.33" r="0.60" fill="#00f5f5"/>
<circle cx="228.09" cy="42.02" r="0.60" fill="#00f5f5"/>
<circle cx="230.55" cy="48.44" r="0.60" fill="#00f5f5"/>
<circle cx="217.26" cy="29.78" r="0.60" fill="#00f5f5"/>
<circle cx="194.50" cy="45.24" r="0.60" fill="#00f5f5"/>
<circle cx="194.91" cy="31.26" r="0.60" fill="#00f5f5"/>
<circle cx="217.26" cy="82.02" r="0.60" fill="#00f5f5"/>
<circle cx="194.83" cy="52.88" r="0.60" fill="#00f5f5"/>
<circle cx="205.04" cy="25.97" r="0.60" fill="#00f5f5"/>
<circle cx="213.04" cy="26.66" r="0.60" fill="#00f5f5"/>
<circle cx="211.24" cy="25.88" r="0.60" fill="#00f5f5"/>
<circle cx="210.05" cy="25.72" r="0.60" fill="#00f5f5"/>
<circle cx="194.55" cy="46.93" r="0.60" fill="#00f5f5"/>
<circle cx="217.41" cy="29.93" r="0.60" fill="#00f5f5"/>
<circle cx="230.62" cy="63.93" r="0.60" fill="#00f5f5"/>
<circle cx="208.37" cy="25.45" r="0.60" fill="#00f5f5"/>
<circle cx="216.73" cy="82.32" r="0.60" fill="#00f5f5"/>
<circle cx="211.42" cy="78.57" r="0.60" fill="#00f5f5"/>
<circle cx="213.43" cy="80.22" r="0.60" fill="#00f5f5"/>
<circle cx="206.69" cy="72.54" r="0.60" fill="#00f5f5"/>
<circle cx="231.02" cy="56.48" r="0.60" fill="#00f5f5"/>
<circle cx="228.29" cy="72.10" r="0.60" fill="#00f5f5"/>
<circle cx="195.46" cy="29.73" r="0.60" fill="#00f5f5"/>
<circle cx="228.13" cy="43.12" r="0.60" fill="#00f5f5"/>
<circle cx="230.84" cy="62.20" r="0.60" fill="#00f5f5"/>
<circle cx="211.95" cy="77.88" r="0.60" fill="#00f5f5"/>
<circle cx="202.74" cy="64.45" r="0.60" fill="#00f5f5"/>
<circle cx="230.40" cy="45.12" r="0.60" fill="#00f5f5"/>
<circle cx="205.18" cy="68.16" r="0.60" fill="#00f5f5"/>
<circle cx="193.33" cy="44.94" r="0.60" fill="#00f5f5"/>
<circle cx="194.99" cy="31.44" r="0.60" fill="#00f5f5"/>
<circle cx="214.96" cy="79.95" r="0.60" fill="#00f5f5"/>
<circle cx="205.63" cy="25.34" r="0.60" fill="#00f5f5"/>
<circle cx="231.21" cy="62.21" r="0.60" fill="#00f5f5"/>
<circle cx="196.32" cy="53.93" r="0.60" fill="#00f5f5"/>
<circle cx="230.96" cy="53.02" r="0.60" fill="#00f5f5"/>
<circle cx="228.90" cy="43.92" r="0.60" fill="#00f5f5"/>
<circle cx="205.83" cy="68.12" r="0.60" fill="#00f5f5"/>
<circle cx="228.90" cy="44.67" r="0.60" fill="#00f5f5"/>
<circle cx="195.84" cy="30.32" r="0.60" fill="#00f5f5"/>
<circle cx="197.77" cy="28.74" r="0.60" fill="#00f5f5"/>
<circle cx="214.42" cy="80.47" r="0.60" fill="#00f5f5"/>
<circle cx="228.42" cy="75.01" r="0.60" fill="#00f5f5"/>
<circle cx="212.80" cy="26.91" r="0.60" fill="#00f5f5"/>
<circle cx="227.74" cy="76.11" r="0.60" fill="#00f5f5"/>
<circle cx="193.72" cy="37.20" r="0.60" fill="#00f5f5"/>
<circle cx="194.64" cy="51.08" r="0.60" fill="#00f5f5"/>
<circle cx="194.85" cy="30.30" r="0.60" fill="#00f5f5"/>
<circle cx="193.48" cy="39.93" r="0.60" fill="#00f5f5"/>
<circle cx="194.97" cy="43.68" r="0.60" fill="#00f5f5"/>
<circle cx="214.49" cy="28.67" r="0.60" fill="#00f5f5"/>
<circle cx="203.45" cy="26.37" r="0.60" fill="#00f5f5"/>
<circle cx="201.73" cy="26.43" r="0.60" fill="#00f5f5"/>
<circle cx="214.82" cy="81.55" r="0.60" fill="#00f5f5"/>
<circle cx="197.80" cy="29.25" r="0.60" fill="#00f5f5"/>
<circle cx="193.50" cy="38.37" r="0.60" fill="#00f5f5"/>
<circle cx="208.17" cy="74.20" r="0.60" fill="#00f5f5"/>
<circle cx="201.62" cy="64.10" r="0.60" fill="#00f5f5"/>
<polygon points="158.1,40.5 161.1,39.2 163.9,41.3 164.4,44.0 166.6,46.3 169.6,48.5 172.6,50.5 176.1,49.5 179.6,48.3 183.1,47.5 184.9,49.8 185.4,53.5 185.0,58.5 182.5,61.5 181.0,65.2 178.8,68.7 175.9,70.5 173.0,69.0 170.6,67.2 167.6,66.8 163.6,67.5 160.1,68.5 159.1,71.0 159.4,74.0 157.7,76.0 155.1,74.5 154.3,70.0 155.3,66.3 159.1,65.5 163.6,65.5 167.6,64.5 170.9,63.0 171.9,59.0 171.1,55.5 168.6,53.5 165.6,51.0 163.1,48.5 160.6,47.0 158.1,46.5 157.1,44.0" fill="#a020f0"/>
<circle cx="165.03" cy="51.19" r="0.60" fill="#a020f0"/>
<circle cx="176.77" cy="68.89" r="0.60" fill="#a020f0"/>
<circle cx="158.47" cy="72.29" r="0.60" fill="#a020f0"/>
<circle cx="180.45" cy="48.50" r="0.60" fill="#a020f0"/>
<circle cx="175.86" cy="70.31" r="0.60" fill="#a020f0"/>
<circle cx="182.61" cy="47.19" r="0.60" fill="#a020f0"/>
<circle cx="183.69" cy="49.08" r="0.60" fill="#a020f0"/>
<circle cx="178.49" cy="48.25" r="0.60" fill="#a020f0"/>
<circle cx="184.11" cy="49.36" r="0.60" fill="#a020f0"/>
<circle cx="181.95" cy="61.67" r="0.60" fill="#a020f0"/>
<circle cx="183.15" cy="61.31" r="0.60" fill="#a020f0"/>
<circle cx="178.46" cy="47.96" r="0.60" fill="#a020f0"/>
<circle cx="162.17" cy="67.57" r="0.60" fill="#a020f0"/>
<circle cx="164.54" cy="51.71" r="0.60" fill="#a020f0"/>
<circle cx="171.37" cy="63.53" r="0.60" fill="#a020f0"/>
<circle cx="162.70" cy="48.93" r="0.60" fill="#a020f0"/>
<circle cx="171.17" cy="61.36" r="0.60" fill="#a020f0"/>
<circle cx="171.76" cy="50.57" r="0.60" fill="#a020f0"/>
<circle cx="173.25" cy="69.97" r="0.60" fill="#a020f0"/>
<circle cx="163.88" cy="40.46" r="0.60" fill="#a020f0"/>
<circle cx="185.06" cy="59.02" r="0.60" fill="#a020f0"/>
<circle cx="185.35" cy="49.84" r="0.60" fill="#a020f0"/>
<circle cx="156.86" cy="43.44" r="0.60" fill="#a020f0"/>
<circle cx="162.14" cy="68.49" r="0.60" fill="#a020f0"/>
<circle cx="174.38" cy="70.26" r="0.60" fill="#a020f0"/>
<circle cx="155.18" cy="70.42" r="0.60" fill="#a020f0"/>
<circle cx="172.52" cy="60.26" r="0.60" fill="#a020f0"/>
<circle cx="169.54" cy="48.13" r="0.60" fill="#a020f0"/>
<circle cx="154.20" cy="73.99" r="0.60" fill="#a020f0"/>
<circle cx="184.22" cy="58.31" r="0.60" fill="#a020f0"/>
<circle cx="158.47" cy="40.87" r="0.60" fill="#a020f0"/>
<circle cx="169.58" cy="67.55" r="0.60" fill="#a020f0"/>
<circle cx="159.15" cy="69.48" r="0.60" fill="#a020f0"/>
<circle cx="184.43" cy="57.65" r="0.60" fill="#a020f0"/>
<circle cx="163.03" cy="65.62" r="0.60" fill="#a020f0"/>
<circle cx="167.56" cy="64.30" r="0.60" fill="#a020f0"/>
<circle cx="166.53" cy="52.08" r="0.60" fill="#a020f0"/>
<circle cx="158.04" cy="44.16" r="0.60" fill="#a020f0"/>
<circle cx="159.13" cy="70.15" r="0.60" fill="#a020f0"/>
<circle cx="158.85" cy="74.60" r="0.60" fill="#a020f0"/>
<circle cx="159.81" cy="70.45" r="0.60" fill="#a020f0"/>
<circle cx="179.41" cy="66.83" r="0.60" fill="#a020f0"/>
<circle cx="159.82" cy="46.66" r="0.60" fill="#a020f0"/>
<circle cx="170.39" cy="54.59" r="0.60" fill="#a020f0"/>
<circle cx="181.30" cy="65.92" r="0.60" fill="#a020f0"/>
<circle cx="177.48" cy="49.50" r="0.60" fill="#a020f0"/>
<circle cx="183.23" cy="60.07" r="0.60" fill="#a020f0"/>
<circle cx="164.53" cy="50.21" r="0.60" fill="#a020f0"/>
<circle cx="171.29" cy="56.45" r="0.60" fill="#a020f0"/>
<circle cx="168.34" cy="48.07" r="0.60" fill="#a020f0"/>
<circle cx="171.79" cy="55.81" r="0.60" fill="#a020f0"/>
<circle cx="172.41" cy="58.45" r="0.60" fill="#a020f0"/>
<circle cx="184.83" cy="53.34" r="0.60" fill="#a020f0"/>
<circle cx="170.51" cy="47.98" r="0.60" fill="#a020f0"/>
<circle cx="177.84" cy="69.15" r="0.60" fill="#a020f0"/>
<circle cx="181.13" cy="62.54" r="0.60" fill="#a020f0"/>
<circle cx="172.13" cy="49.86" r="0.60" fill="#a020f0"/>
<circle cx="159.59" cy="71.22" r="0.60" fill="#a020f0"/>
<circle cx="159.90" cy="39.20" r="0.60" fill="#a020f0"/>
<circle cx="169.13" cy="52.78" r="0.60" fill="#a020f0"/>
<polygon points="178.7,87.3 179.2,89.9 178.3,94.3 180.5,96.9 183.1,96.0 181.4,99.5 183.1,103.9 185.3,106.1 188.4,105.2 191.0,107.0 191.4,110.0 189.7,113.5 190.1,118.8 188.4,114.4 184.9,113.5 181.4,115.3 179.6,118.8 181.4,123.2 181.4,131.0 180.1,135.4 178.3,129.3 177.9,123.2 175.7,121.4 172.6,124.9 170.4,127.5 168.2,121.4 166.9,115.3 166.5,108.3 167.4,103.0 170.0,100.4 173.0,98.6 173.9,96.0 176.1,92.5" fill="#1e90ff"/>
<circle cx="175.48" cy="122.29" r="0.60" fill="#1e90ff"/>
<circle cx="186.14" cy="105.61" r="0.60" fill="#1e90ff"/>
<circle cx="175.01" cy="122.68" r="0.60" fill="#1e90ff"/>
<circle cx="166.83" cy="102.00" r="0.60" fill="#1e90ff"/>
<circle cx="180.03" cy="119.24" r="0.60" fill="#1e90ff"/>
<circle cx="168.72" cy="121.95" r="0.60" fill="#1e90ff"/>
<circle cx="180.52" cy="130.32" r="0.60" fill="#1e90ff"/>
<circle cx="191.17" cy="107.62" r="0.60" fill="#1e90ff"/>
<circle cx="178.68" cy="94.75" r="0.60" fill="#1e90ff"/>
<circle cx="167.95" cy="116.61" r="0.60" fill="#1e90ff"/>
<circle cx="169.09" cy="102.18" r="0.60" fill="#1e90ff"/>
<circle cx="182.54" cy="96.92" r="0.60" fill="#1e90ff"/>
<circle cx="189.11" cy="105.67" r="0.60" fill="#1e90ff"/>
<circle cx="170.70" cy="126.73" r="0.60" fill="#1e90ff"/>
<circle cx="174.43" cy="122.47" r="0.60" fill="#1e90ff"/>
<circle cx="184.76" cy="114.41" r="0.60" fill="#1e90ff"/>
<circle cx="180.10" cy="95.30" r="0.60" fill="#1e90ff"/>
<circle cx="169.80" cy="125.40" r="0.60" fill="#1e90ff"/>
<circle cx="190.14" cy="107.10" r="0.60" fill="#1e90ff"/>
<circle cx="185.51" cy="106.06" r="0.60" fill="#1e90ff"/>
<circle cx="183.51" cy="105.23" r="0.60" fill="#1e90ff"/>
<circle cx="190.92" cy="109.52" r="0.60" fill="#1e90ff"/>
<circle cx="171.72" cy="125.95" r="0.60" fill="#1e90ff"/>
<circle cx="168.13" cy="119.67" r="0.60" fill="#1e90ff"/>
<circle cx="174.16" cy="97.85" r="0.60" fill="#1e90ff"/>
<circle cx="174.70" cy="122.63" r="0.60" fill="#1e90ff"/>
<circle cx="171.03" cy="100.16" r="0.60" fill="#1e90ff"/>
<circle cx="189.76" cy="112.45" r="0.60" fill="#1e90ff"/>
<circle cx="181.00" cy="122.78" r="0.60" fill="#1e90ff"/>
<circle cx="177.18" cy="123.83" r="0.60" fill="#1e90ff"/>
<circle cx="189.56" cy="115.05" r="0.60" fill="#1e90ff"/>
<circle cx="167.91" cy="105.09" r="0.60" fill="#1e90ff"/>
<circle cx="177.54" cy="123.38" r="0.60" fill="#1e90ff"/>
<circle cx="178.74" cy="92.76" r="0.60" fill="#1e90ff"/>
<circle cx="178.82" cy="90.32" r="0.60" fill="#1e90ff"/>
<circle cx="180.54" cy="134.26" r="0.60" fill="#1e90ff"/>
<circle cx="183.19" cy="95.28" r="0.60" fill="#1e90ff"/>
<circle cx="175.43" cy="121.49" r="0.60" fill="#1e90ff"/>
<circle cx="179.78" cy="88.45" r="0.60" fill="#1e90ff"/>
<circle cx="177.10" cy="123.98" r="0.60" fill="#1e90ff"/>
<circle cx="178.17" cy="123.42" r="0.60" fill="#1e90ff"/>
<circle cx="182.17" cy="102.25" r="0.60" fill="#1e90ff"/>
<circle cx="167.80" cy="118.96" r="0.60" fill="#1e90ff"/>
<circle cx="178.95" cy="125.06" r="0.60" fill="#1e90ff"/>
<circle cx="176.69" cy="122.40" r="0.60" fill="#1e90ff"/>
<circle cx="181.76" cy="100.79" r="0.60" fill="#1e90ff"/>
<circle cx="191.45" cy="108.67" r="0.60" fill="#1e90ff"/>
<circle cx="181.02" cy="121.54" r="0.60" fill="#1e90ff"/>
<circle cx="179.02" cy="131.80" r="0.60" fill="#1e90ff"/>
<circle cx="181.45" cy="125.61" r="0.60" fill="#1e90ff"/>
<circle cx="179.57" cy="119.12" r="0.60" fill="#1e90ff"/>
<circle cx="172.50" cy="125.11" r="0.60" fill="#1e90ff"/>
<circle cx="183.22" cy="102.94" r="0.60" fill="#1e90ff"/>
<circle cx="177.13" cy="91.00" r="0.60" fill="#1e90ff"/>
<circle cx="171.70" cy="127.49" r="0.60" fill="#1e90ff"/>
<circle cx="190.23" cy="112.23" r="0.60" fill="#1e90ff"/>
<circle cx="169.95" cy="100.69" r="0.60" fill="#1e90ff"/>
<circle cx="172.71" cy="124.04" r="0.60" fill="#1e90ff"/>
<circle cx="179.52" cy="89.59" r="0.60" fill="#1e90ff"/>
<circle cx="167.05" cy="116.80" r="0.60" fill="#1e90ff"/>
<polygon points="160.4,133.7 163.9,132.8 166.5,134.5 170.0,132.8 172.6,133.7 176.1,136.3 180.5,138.9 180.9,143.3 179.6,147.7 176.1,150.3 172.6,152.0 168.2,150.3 163.9,146.8 161.2,143.3 159.9,138.0" fill="#ff0000"/>
<circle cx="181.42" cy="141.50" r="0.60" fill="#ff0000"/>
<circle cx="167.97" cy="149.67" r="0.60" fill="#ff0000"/>
<circle cx="165.85" cy="148.25" r="0.60" fill="#ff0000"/>
<circle cx="162.35" cy="145.99" r="0.60" fill="#ff0000"/>
<circle cx="180.74" cy="143.64" r="0.60" fill="#ff0000"/>
<circle cx="160.47" cy="139.17" r="0.60" fill="#ff0000"/>
<circle cx="168.99" cy="132.80" r="0.60" fill="#ff0000"/>
<circle cx="179.32" cy="146.81" r="0.60" fill="#ff0000"/>
<circle cx="173.92" cy="151.46" r="0.60" fill="#ff0000"/>
<circle cx="160.92" cy="135.06" r="0.60" fill="#ff0000"/>
<circle cx="163.78" cy="132.43" r="0.60" fill="#ff0000"/>
<circle cx="161.80" cy="142.89" r="0.60" fill="#ff0000"/>
<circle cx="164.45" cy="145.53" r="0.60" fill="#ff0000"/>
<circle cx="160.06" cy="136.43" r="0.60" fill="#ff0000"/>
<circle cx="163.77" cy="145.47" r="0.60" fill="#ff0000"/>
<circle cx="179.22" cy="137.78" r="0.60" fill="#ff0000"/>
<circle cx="179.57" cy="138.37" r="0.60" fill="#ff0000"/>
<circle cx="161.33" cy="143.95" r="0.60" fill="#ff0000"/>
<circle cx="175.16" cy="149.98" r="0.60" fill="#ff0000"/>
<circle cx="161.28" cy="132.87" r="0.60" fill="#ff0000"/>
<circle cx="164.19" cy="132.35" r="0.60" fill="#ff0000"/>
<circle cx="180.00" cy="138.98" r="0.60" fill="#ff0000"/>
<circle cx="169.35" cy="150.05" r="0.60" fill="#ff0000"/>
<circle cx="180.62" cy="137.72" r="0.60" fill="#ff0000"/>
<circle cx="173.07" cy="133.07" r="0.60" fill="#ff0000"/>
<circle cx="164.03" cy="132.84" r="0.60" fill="#ff0000"/>
<circle cx="165.87" cy="133.63" r="0.60" fill="#ff0000"/>
<circle cx="162.15" cy="143.97" r="0.60" fill="#ff0000"/>
<circle cx="167.94" cy="149.76" r="0.60" fill="#ff0000"/>
<circle cx="180.01" cy="138.77" r="0.60" fill="#ff0000"/>
<circle cx="166.90" cy="149.43" r="0.60" fill="#ff0000"/>
<circle cx="180.69" cy="142.97" r="0.60" fill="#ff0000"/>
<circle cx="181.54" cy="142.68" r="0.60" fill="#ff0000"/>
<circle cx="172.35" cy="132.91" r="0.60" fill="#ff0000"/>
<circle cx="174.43" cy="152.13" r="0.60" fill="#ff0000"/>
<circle cx="172.71" cy="152.31" r="0.60" fill="#ff0000"/>
<circle cx="160.09" cy="135.02" r="0.60" fill="#ff0000"/>
<circle cx="169.84" cy="150.57" r="0.60" fill="#ff0000"/>
<circle cx="176.54" cy="150.94" r="0.60" fill="#ff0000"/>
<circle cx="178.48" cy="148.37" r="0.60" fill="#ff0000"/>
<polygon points="205.0,118.8 205.9,121.4 209.8,121.0 210.7,122.3 209.4,127.5 206.8,131.9 202.4,133.7 199.3,132.3 201.5,128.4 202.4,124.9 199.8,122.7 202.8,122.3 203.7,120.1" fill="#006400"/>
<circle cx="202.84" cy="122.12" r="0.60" fill="#006400"/>
<circle cx="207.48" cy="121.45" r="0.60" fill="#006400"/>
<circle cx="201.51" cy="122.90" r="0.60" fill="#006400"/>
<circle cx="200.67" cy="122.19" r="0.60" fill="#006400"/>
<circle cx="200.91" cy="129.12" r="0.60" fill="#006400"/>
<circle cx="201.18" cy="125.18" r="0.60" fill="#006400"/>
<circle cx="201.30" cy="126.53" r="0.60" fill="#006400"/>
<circle cx="205.16" cy="132.91" r="0.60" fill="#006400"/>
<circle cx="200.50" cy="132.25" r="0.60" fill="#006400"/>
<circle cx="201.58" cy="122.14" r="0.60" fill="#006400"/>
<circle cx="201.40" cy="133.08" r="0.60" fill="#006400"/>
<circle cx="207.62" cy="121.29" r="0.60" fill="#006400"/>
<circle cx="207.48" cy="129.30" r="0.60" fill="#006400"/>
<circle cx="200.74" cy="129.55" r="0.60" fill="#006400"/>
<circle cx="203.96" cy="118.98" r="0.60" fill="#006400"/>
<polygon points="224.1,111.8 224.9,113.0 223.6,117.0 223.3,122.0 223.5,127.5 222.7,129.8 221.6,128.5 221.3,122.0 220.6,119.5 219.3,117.5 219.9,115.0 222.1,114.0" fill="#ff8c00"/>
<circle cx="223.53" cy="118.36" r="0.60" fill="#ff8c00"/>
<circle cx="222.67" cy="128.67" r="0.60" fill="#ff8c00"/>
<circle cx="220.47" cy="118.30" r="0.60" fill="#ff8c00"/>
<circle cx="223.59" cy="119.28" r="0.60" fill="#ff8c00"/>
<circle cx="223.91" cy="127.32" r="0.60" fill="#ff8c00"/>
<circle cx="220.25" cy="113.84" r="0.60" fill="#ff8c00"/>
<circle cx="222.77" cy="128.10" r="0.60" fill="#ff8c00"/>
<circle cx="220.21" cy="121.52" r="0.60" fill="#ff8c00"/>
<polygon points="231.1,92.0 235.1,89.0 239.1,88.0 243.1,90.0 247.1,93.5 251.1,99.0 253.9,106.0 255.9,113.6 256.7,121.6 256.3,129.6 254.7,136.0 250.7,138.5 246.6,140.3 243.6,138.5 240.1,133.0 237.8,126.4 236.2,120.0 234.6,113.6 232.6,108.5 231.1,104.0 230.6,98.0" fill="#000080"/>
<circle cx="242.29" cy="135.69" r="0.60" fill="#000080"/>
<circle cx="256.35" cy="117.45" r="0.60" fill="#000080"/>
<circle cx="256.49" cy="113.57" r="0.60" fill="#000080"/>
<circle cx="241.46" cy="88.56" r="0.60" fill="#000080"/>
<circle cx="239.27" cy="130.49" r="0.60" fill="#000080"/>
<circle cx="230.12" cy="93.62" r="0.60" fill="#000080"/>
<circle cx="238.31" cy="126.71" r="0.60" fill="#000080"/>
<circle cx="236.74" cy="125.09" r="0.60" fill="#000080"/>
<circle cx="249.73" cy="96.62" r="0.60" fill="#000080"/>
<circle cx="253.88" cy="109.38" r="0.60" fill="#000080"/>
<circle cx="233.74" cy="111.84" r="0.60" fill="#000080"/>
<circle cx="239.22" cy="89.01" r="0.60" fill="#000080"/>
<circle cx="245.71" cy="91.23" r="0.60" fill="#000080"/>
<circle cx="240.30" cy="133.02" r="0.60" fill="#000080"/>
<circle cx="236.51" cy="121.32" r="0.60" fill="#000080"/>
<circle cx="232.22" cy="107.06" r="0.60" fill="#000080"/>
<circle cx="230.37" cy="97.16" r="0.60" fill="#000080"/>
<circle cx="231.91" cy="91.48" r="0.60" fill="#000080"/>
<circle cx="239.91" cy="89.27" r="0.60" fill="#000080"/>
<circle cx="234.50" cy="111.91" r="0.60" fill="#000080"/>
<circle cx="256.47" cy="132.09" r="0.60" fill="#000080"/>
<circle cx="233.55" cy="111.48" r="0.60" fill="#000080"/>
<circle cx="234.07" cy="110.55" r="0.60" fill="#000080"/>
<circle cx="233.16" cy="107.58" r="0.60" fill="#000080"/>
<circle cx="238.09" cy="126.12" r="0.60" fill="#000080"/>
<circle cx="253.89" cy="136.83" r="0.60" fill="#000080"/>
<circle cx="254.05" cy="135.98" r="0.60" fill="#000080"/>
<circle cx="255.87" cy="111.57" r="0.60" fill="#000080"/>
<circle cx="239.58" cy="129.79" r="0.60" fill="#000080"/>
<circle cx="253.90" cy="106.69" r="0.60" fill="#000080"/>
<circle cx="236.33" cy="89.43" r="0.60" fill="#000080"/>
<circle cx="238.27" cy="125.36" r="0.60" fill="#000080"/>
<circle cx="252.81" cy="102.80" r="0.60" fill="#000080"/>
<circle cx="255.08" cy="134.12" r="0.60" fill="#000080"/>
<circle cx="254.87" cy="109.39" r="0.60" fill="#000080"/>
<circle cx="242.75" cy="90.19" r="0.60" fill="#000080"/>
<circle cx="256.31" cy="127.11" r="0.60" fill="#000080"/>
<circle cx="238.14" cy="87.46" r="0.60" fill="#000080"/>
<circle cx="238.94" cy="131.21" r="0.60" fill="#000080"/>
<circle cx="252.27" cy="137.42" r="0.60" fill="#000080"/>
<circle cx="257.18" cy="123.57" r="0.60" fill="#000080"/>
<circle cx="255.37" cy="116.52" r="0.60" fill="#000080"/>
<circle cx="231.02" cy="96.60" r="0.60" fill="#000080"/>
<circle cx="255.24" cy="109.40" r="0.60" fill="#000080"/>
<circle cx="246.85" cy="139.41" r="0.60" fill="#000080"/>
<circle cx="256.68" cy="113.62" r="0.60" fill="#000080"/>
<circle cx="254.65" cy="133.24" r="0.60" fill="#000080"/>
<circle cx="239.51" cy="88.05" r="0.60" fill="#000080"/>
<circle cx="231.05" cy="105.42" r="0.60" fill="#000080"/>
<circle cx="256.87" cy="128.47" r="0.60" fill="#000080"/>
<circle cx="230.37" cy="104.52" r="0.60" fill="#000080"/>
<circle cx="233.28" cy="91.25" r="0.60" fill="#000080"/>
<circle cx="235.52" cy="88.79" r="0.60" fill="#000080"/>
<circle cx="251.15" cy="138.37" r="0.60" fill="#000080"/>
<circle cx="255.41" cy="134.70" r="0.60" fill="#000080"/>
<circle cx="233.76" cy="112.83" r="0.60" fill="#000080"/>
<circle cx="235.26" cy="88.24" r="0.60" fill="#000080"/>
<circle cx="230.80" cy="94.43" r="0.60" fill="#000080"/>
<circle cx="240.89" cy="88.14" r="0.60" fill="#000080"/>
<circle cx="252.22" cy="102.75" r="0.60" fill="#000080"/>
<circle cx="231.00" cy="92.13" r="0.60" fill="#000080"/>
<circle cx="243.06" cy="89.75" r="0.60" fill="#000080"/>
<circle cx="255.80" cy="125.83" r="0.60" fill="#000080"/>
<circle cx="251.87" cy="102.54" r="0.60" fill="#000080"/>
<circle cx="254.57" cy="109.03" r="0.60" fill="#000080"/>
<circle cx="256.54" cy="118.94" r="0.60" fill="#000080"/>
<circle cx="243.96" cy="90.03" r="0.60" fill="#000080"/>
<circle cx="232.72" cy="106.81" r="0.60" fill="#000080"/>
<circle cx="251.11" cy="99.23" r="0.60" fill="#000080"/>
<circle cx="244.02" cy="139.30" r="0.60" fill="#000080"/>
<circle cx="243.58" cy="89.82" r="0.60" fill="#000080"/>
<circle cx="230.74" cy="99.92" r="0.60" fill="#000080"/>
<circle cx="255.67" cy="113.46" r="0.60" fill="#000080"/>
<circle cx="255.48" cy="111.27" r="0.60" fill="#000080"/>
<circle cx="254.83" cy="136.38" r="0.60" fill="#000080"/>
<circle cx="251.92" cy="98.92" r="0.60" fill="#000080"/>
<circle cx="244.01" cy="137.69" r="0.60" fill="#000080"/>
<circle cx="234.49" cy="115.38" r="0.60" fill="#000080"/>
<circle cx="248.68" cy="94.96" r="0.60" fill="#000080"/>
<circle cx="243.61" cy="89.96" r="0.60" fill="#000080"/>
<polygon points="192.1,74.0 193.6,73.8 194.4,78.0 195.1,83.0 195.9,86.5 194.6,87.6 192.3,87.3 191.5,85.0 192.3,80.0 191.9,76.0" fill="#ffc0cb"/>
<circle cx="191.61" cy="81.60" r="0.60" fill="#ffc0cb"/>
<circle cx="191.49" cy="74.95" r="0.60" fill="#ffc0cb"/>
<circle cx="192.06" cy="87.76" r="0.60" fill="#ffc0cb"/>
<circle cx="193.81" cy="87.41" r="0.60" fill="#ffc0cb"/>
<circle cx="192.20" cy="85.11" r="0.60" fill="#ffc0cb"/>
<circle cx="193.82" cy="74.39" r="0.60" fill="#ffc0cb"/>
<polygon points="193.4,31.5 194.3,33.0 193.3,38.0 192.1,43.9 191.4,51.2 192.3,57.0 193.3,62.9 193.5,67.3 192.3,68.7 190.5,65.8 188.3,61.4 186.3,54.8 185.3,48.3 185.6,41.7 187.6,36.6 190.5,33.0" fill="#a52a2a"/>
<circle cx="193.32" cy="60.08" r="0.60" fill="#a52a2a"/>
<circle cx="189.02" cy="62.79" r="0.60" fill="#a52a2a"/>
<circle cx="192.56" cy="44.94" r="0.60" fill="#a52a2a"/>
<circle cx="193.37" cy="67.75" r="0.60" fill="#a52a2a"/>
<circle cx="192.95" cy="32.84" r="0.60" fill="#a52a2a"/>
<circle cx="194.42" cy="35.49" r="0.60" fill="#a52a2a"/>
<circle cx="186.48" cy="55.21" r="0.60" fill="#a52a2a"/>
<circle cx="187.70" cy="56.89" r="0.60" fill="#a52a2a"/>
<circle cx="190.47" cy="64.91" r="0.60" fill="#a52a2a"/>
<circle cx="191.44" cy="50.15" r="0.60" fill="#a52a2a"/>
<circle cx="189.20" cy="63.27" r="0.60" fill="#a52a2a"/>
<circle cx="185.84" cy="51.40" r="0.60" fill="#a52a2a"/>
<circle cx="187.71" cy="61.18" r="0.60" fill="#a52a2a"/>
<circle cx="188.85" cy="34.67" r="0.60" fill="#a52a2a"/>
<circle cx="192.61" cy="66.49" r="0.60" fill="#a52a2a"/>
<circle cx="192.39" cy="58.67" r="0.60" fill="#a52a2a"/>
<circle cx="193.23" cy="58.52" r="0.60" fill="#a52a2a"/>
<circle cx="185.07" cy="46.94" r="0.60" fill="#a52a2a"/>
<circle cx="194.31" cy="66.47" r="0.60" fill="#a52a2a"/>
<circle cx="192.82" cy="32.30" r="0.60" fill="#a52a2a"/>
<circle cx="189.52" cy="34.99" r="0.60" fill="#a52a2a"/>
<circle cx="191.83" cy="51.54" r="0.60" fill="#a52a2a"/>
<circle cx="185.80" cy="46.96" r="0.60" fill="#a52a2a"/>
<circle cx="185.98" cy="41.21" r="0.60" fill="#a52a2a"/>
<circle cx="189.99" cy="64.45" r="0.60" fill="#a52a2a"/>
<circle cx="186.14" cy="41.32" r="0.60" fill="#a52a2a"/>
<circle cx="192.28" cy="31.39" r="0.60" fill="#a52a2a"/>
<circle cx="191.62" cy="48.42" r="0.60" fill="#a52a2a"/>
<circle cx="192.51" cy="54.59" r="0.60" fill="#a52a2a"/>
<circle cx="186.45" cy="59.00" r="0.60" fill="#a52a2a"/>
<circle cx="195.81" cy="43.25" r="0.77" fill="#00f5f5"/>
<circle cx="193.57" cy="48.98" r="0.70" fill="#00f5f5"/>
<circle cx="202.92" cy="55.56" r="0.50" fill="#00f5f5"/>
<circle cx="193.36" cy="53.35" r="0.56" fill="#fff"/>
<circle cx="201.15" cy="56.94" r="0.55" fill="#00f5f5"/>
<circle cx="196.70" cy="63.28" r="0.53" fill="#00f5f5"/>
<circle cx="198.06" cy="39.35" r="0.61" fill="#fff"/>
<circle cx="195.11" cy="60.61" r="0.42" fill="#fff"/>
<circle cx="200.48" cy="42.78" r="0.52" fill="#fff"/>
<circle cx="198.97" cy="65.20" r="0.71" fill="#fff"/>
<circle cx="202.72" cy="43.24" r="0.52" fill="#fff"/>
<circle cx="195.07" cy="46.99" r="0.58" fill="#fff"/>
<circle cx="199.92" cy="48.13" r="0.53" fill="#fff"/>
<circle cx="195.77" cy="43.71" r="0.76" fill="#fff"/>
<circle cx="198.11" cy="49.43" r="0.46" fill="#fff"/>
<circle cx="193.54" cy="45.81" r="0.61" fill="#00f5f5"/>
<circle cx="198.69" cy="56.78" r="0.70" fill="#fff"/>
<circle cx="197.02" cy="58.08" r="0.56" fill="#fff"/>
<circle cx="201.61" cy="41.39" r="0.58" fill="#fff"/>
<circle cx="193.51" cy="61.15" r="0.63" fill="#fff"/>
<circle cx="199.12" cy="48.07" r="0.79" fill="#fff"/>
<circle cx="201.86" cy="40.70" r="0.64" fill="#fff"/>
<circle cx="201.44" cy="57.93" r="0.77" fill="#fff"/>
<circle cx="199.55" cy="65.08" r="0.65" fill="#00f5f5"/>
<circle cx="194.28" cy="49.31" r="0.74" fill="#00f5f5"/>
<circle cx="201.49" cy="49.20" r="0.60" fill="#fff"/>
<circle cx="196.60" cy="43.20" r="0.75" fill="#00f5f5"/>
<circle cx="200.46" cy="49.58" r="0.77" fill="#fff"/>
<circle cx="194.44" cy="47.48" r="0.43" fill="#fff"/>
<circle cx="193.77" cy="38.09" r="0.63" fill="#fff"/>
<circle cx="198.88" cy="49.30" r="0.63" fill="#fff"/>
<circle cx="200.95" cy="57.03" r="0.74" fill="#fff"/>
<circle cx="194.61" cy="56.80" r="0.70" fill="#00f5f5"/>
<circle cx="194.35" cy="45.91" r="0.41" fill="#00f5f5"/>
<circle cx="196.91" cy="46.05" r="0.66" fill="#00f5f5"/>
<circle cx="196.94" cy="63.10" r="0.68" fill="#00f5f5"/>
<circle cx="199.15" cy="52.25" r="0.64" fill="#fff"/>
<circle cx="196.19" cy="48.07" r="0.63" fill="#fff"/>
<circle cx="196.70" cy="57.58" r="0.43" fill="#fff"/>
<circle cx="195.28" cy="50.82" r="0.71" fill="#fff"/>
<circle cx="195.85" cy="39.65" r="0.58" fill="#00f5f5"/>
<circle cx="199.06" cy="38.90" r="0.62" fill="#fff"/>
<circle cx="194.21" cy="44.29" r="0.65" fill="#fff"/>
<circle cx="202.75" cy="52.86" r="0.49" fill="#00f5f5"/>
<circle cx="201.03" cy="43.85" r="0.74" fill="#00f5f5"/>
<circle cx="198.47" cy="38.85" r="0.71" fill="#fff"/>
<circle cx="201.21" cy="45.51" r="0.55" fill="#00f5f5"/>
<circle cx="195.84" cy="40.51" r="0.44" fill="#fff"/>
<circle cx="198.22" cy="54.49" r="0.49" fill="#fff"/>
<circle cx="201.14" cy="64.92" r="0.53" fill="#fff"/>
<circle cx="193.81" cy="51.38" r="0.45" fill="#fff"/>
<circle cx="202.79" cy="62.65" r="0.65" fill="#fff"/>
<circle cx="196.52" cy="43.32" r="0.56" fill="#fff"/>
<circle cx="200.70" cy="40.14" r="0.76" fill="#fff"/>
<circle cx="197.49" cy="43.54" r="0.68" fill="#fff"/>
<circle cx="200.83" cy="43.63" r="0.70" fill="#fff"/>
<circle cx="200.58" cy="64.55" r="0.77" fill="#00f5f5"/>
<circle cx="199.23" cy="38.44" r="0.54" fill="#fff"/>
<circle cx="193.23" cy="62.18" r="0.69" fill="#00f5f5"/>
<circle cx="198.48" cy="53.62" r="0.65" fill="#00f5f5"/>
<circle cx="229.47" cy="92.12" r="0.52" fill="#000080"/>
<circle cx="223.83" cy="96.55" r="0.82" fill="#000080"/>
<circle cx="225.74" cy="91.95" r="0.56" fill="#000080"/>
<circle cx="229.53" cy="94.55" r="0.86" fill="#000080"/>
<circle cx="229.70" cy="93.74" r="0.55" fill="#000080"/>
<circle cx="223.73" cy="95.10" r="0.58" fill="#000080"/>
<circle cx="223.72" cy="96.29" r="0.78" fill="#000080"/>
<circle cx="232.26" cy="91.44" r="0.79" fill="#000080"/>
<circle cx="226.81" cy="95.47" r="0.55" fill="#000080"/>
<circle cx="222.03" cy="95.82" r="0.65" fill="#000080"/>
<circle cx="223.47" cy="96.72" r="0.69" fill="#000080"/>
<circle cx="223.92" cy="95.48" r="0.53" fill="#000080"/>
<circle cx="225.81" cy="95.90" r="0.69" fill="#000080"/>
<circle cx="227.65" cy="91.81" r="0.86" fill="#000080"/>
<circle cx="225.09" cy="94.37" r="0.55" fill="#000080"/>
<circle cx="224.29" cy="95.08" r="0.75" fill="#000080"/>
<circle cx="228.82" cy="90.77" r="0.79" fill="#000080"/>
<circle cx="223.01" cy="94.85" r="0.77" fill="#000080"/>
<circle cx="228.40" cy="93.30" r="0.78" fill="#000080"/>
<circle cx="225.99" cy="95.41" r="0.74" fill="#000080"/>
<circle cx="222.54" cy="97.39" r="0.59" fill="#000080"/>
<circle cx="226.82" cy="95.36" r="0.75" fill="#000080"/>
<circle cx="228.17" cy="90.75" r="0.89" fill="#000080"/>
<circle cx="228.72" cy="90.30" r="0.60" fill="#000080"/>
<circle cx="230.30" cy="92.53" r="0.87" fill="#000080"/>
<circle cx="229.35" cy="91.90" r="0.56" fill="#000080"/>
<circle cx="223.38" cy="93.68" r="0.89" fill="#000080"/>
<circle cx="228.24" cy="94.01" r="0.57" fill="#000080"/>
<circle cx="226.26" cy="94.71" r="0.86" fill="#000080"/>
<circle cx="229.65" cy="93.38" r="0.72" fill="#000080"/>
<circle cx="230.00" cy="92.74" r="0.74" fill="#000080"/>
<circle cx="228.78" cy="90.34" r="0.72" fill="#000080"/>
<circle cx="224.97" cy="92.17" r="0.80" fill="#000080"/>
<circle cx="223.61" cy="96.77" r="0.68" fill="#000080"/>
<circle cx="224.06" cy="93.72" r="0.67" fill="#000080"/>
<circle cx="224.74" cy="95.26" r="0.64" fill="#000080"/>
<circle cx="224.00" cy="96.66" r="0.84" fill="#000080"/>
<circle cx="223.19" cy="94.23" r="0.80" fill="#000080"/>
<circle cx="224.19" cy="97.01" r="0.81" fill="#000080"/>
<circle cx="221.64" cy="93.77" r="0.78" fill="#000080"/>
<circle cx="228.04" cy="92.91" r="0.66" fill="#000080"/>
<circle cx="228.46" cy="94.89" r="0.79" fill="#000080"/>
<circle cx="230.76" cy="93.80" r="0.79" fill="#000080"/>
<circle cx="223.31" cy="96.92" r="0.67" fill="#000080"/>
<circle cx="229.73" cy="93.94" r="0.68" fill="#000080"/>
<circle cx="242.99" cy="84.77" r="0.59" fill="#000080"/>
<circle cx="233.50" cy="85.68" r="0.55" fill="#000080"/>
<circle cx="246.83" cy="87.58" r="0.78" fill="#00f5f5"/>
<circle cx="244.82" cy="89.96" r="0.73" fill="#000080"/>
<circle cx="244.35" cy="83.09" r="0.66" fill="#000080"/>
<circle cx="236.33" cy="89.20" r="0.78" fill="#000080"/>
<circle cx="233.12" cy="88.40" r="0.57" fill="#000080"/>
<circle cx="244.22" cy="86.72" r="0.53" fill="#000080"/>
<circle cx="239.05" cy="85.36" r="0.52" fill="#000080"/>
<circle cx="246.62" cy="84.13" r="0.66" fill="#00f5f5"/>
<circle cx="242.39" cy="84.71" r="0.78" fill="#00f5f5"/>
<circle cx="242.76" cy="89.77" r="0.53" fill="#000080"/>
<circle cx="236.15" cy="88.29" r="0.77" fill="#00f5f5"/>
<circle cx="236.74" cy="88.01" r="0.80" fill="#000080"/>
<circle cx="241.65" cy="87.30" r="0.55" fill="#00f5f5"/>
<circle cx="237.08" cy="85.74" r="0.60" fill="#000080"/>
<circle cx="234.38" cy="89.06" r="0.69" fill="#00f5f5"/>
<circle cx="246.60" cy="87.50" r="0.68" fill="#00f5f5"/>
<circle cx="234.07" cy="83.48" r="0.62" fill="#000080"/>
<circle cx="234.00" cy="83.47" r="0.50" fill="#000080"/>
<circle cx="234.14" cy="86.90" r="0.72" fill="#00f5f5"/>
<circle cx="246.67" cy="87.81" r="0.58" fill="#000080"/>
<circle cx="235.59" cy="83.70" r="0.59" fill="#000080"/>
<circle cx="242.85" cy="84.21" r="0.80" fill="#000080"/>
<circle cx="245.16" cy="86.22" r="0.60" fill="#000080"/>
<circle cx="237.65" cy="130.64" r="0.37" fill="#fff"/>
<circle cx="251.55" cy="123.84" r="0.38" fill="#fff"/>
<circle cx="252.32" cy="98.12" r="0.33" fill="#7fa0ff"/>
<circle cx="249.00" cy="102.77" r="0.34" fill="#fff"/>
<circle cx="252.16" cy="97.46" r="0.38" fill="#fff"/>
<circle cx="247.35" cy="104.60" r="0.32" fill="#fff"/>
<circle cx="241.93" cy="135.02" r="0.58" fill="#7fa0ff"/>
<circle cx="243.65" cy="126.07" r="0.34" fill="#7fa0ff"/>
<circle cx="243.77" cy="102.15" r="0.50" fill="#fff"/>
<circle cx="253.47" cy="102.13" r="0.53" fill="#fff"/>
<circle cx="241.13" cy="103.34" r="0.37" fill="#7fa0ff"/>
<circle cx="252.46" cy="105.36" r="0.57" fill="#7fa0ff"/>
<circle cx="252.75" cy="97.17" r="0.50" fill="#7fa0ff"/>
<circle cx="241.33" cy="96.26" r="0.43" fill="#fff"/>
<circle cx="239.08" cy="118.88" r="0.45" fill="#7fa0ff"/>
<circle cx="239.22" cy="115.62" r="0.35" fill="#fff"/>
<circle cx="244.76" cy="97.61" r="0.36" fill="#7fa0ff"/>
<circle cx="243.60" cy="115.17" r="0.58" fill="#fff"/>
<circle cx="238.39" cy="104.56" r="0.52" fill="#7fa0ff"/>
<circle cx="239.08" cy="135.58" r="0.46" fill="#fff"/>
<circle cx="246.49" cy="116.95" r="0.39" fill="#fff"/>
<circle cx="238.60" cy="106.41" r="0.58" fill="#7fa0ff"/>
<circle cx="251.23" cy="100.66" r="0.54" fill="#7fa0ff"/>
<circle cx="238.86" cy="107.07" r="0.54" fill="#fff"/>
<circle cx="239.25" cy="137.32" r="0.44" fill="#fff"/>
<circle cx="246.27" cy="121.98" r="0.54" fill="#fff"/>
<circle cx="248.68" cy="124.54" r="0.31" fill="#fff"/>
<circle cx="251.01" cy="123.57" r="0.34" fill="#7fa0ff"/>
<circle cx="239.71" cy="129.56" r="0.58" fill="#fff"/>
<circle cx="252.53" cy="110.81" r="0.57" fill="#fff"/>
<circle cx="218.10" cy="92.60" r="1.00" fill="#a020f0"/>
</g>
<circle cx="277.00" cy="43.80" r="2.90" fill="#006400"/>
<text x="287.70" y="47.08" font-size="8.8" text-anchor="start" fill="#222" color="#222">B cells</text>
<circle cx="277.00" cy="55.05" r="2.90" fill="#a020f0"/>
<text x="287.70" y="58.33" font-size="8.8" text-anchor="start" fill="#222" color="#222">Dendritic cells</text>
<circle cx="277.00" cy="66.30" r="2.90" fill="#ff8c00"/>
<text x="287.70" y="69.58" font-size="8.8" text-anchor="start" fill="#222" color="#222">Endothelial cells</text>
<circle cx="277.00" cy="77.55" r="2.90" fill="#00f5f5"/>
<text x="287.70" y="80.83" font-size="8.8" text-anchor="start" fill="#222" color="#222">Macrophage</text>
<circle cx="277.00" cy="88.80" r="2.90" fill="#000080"/>
<text x="287.70" y="92.08" font-size="8.8" text-anchor="start" fill="#222" color="#222">Microglia</text>
<circle cx="277.00" cy="100.05" r="2.90" fill="#a52a2a"/>
<text x="287.70" y="103.33" font-size="8.8" text-anchor="start" fill="#222" color="#222">Monocytes</text>
<circle cx="277.00" cy="111.30" r="2.90" fill="#ffc0cb"/>
<text x="287.70" y="114.58" font-size="8.8" text-anchor="start" fill="#222" color="#222">Neutrophils</text>
<circle cx="277.00" cy="122.55" r="2.90" fill="#ff0000"/>
<text x="287.70" y="125.83" font-size="8.8" text-anchor="start" fill="#222" color="#222">NK cells</text>
<circle cx="277.00" cy="133.80" r="2.90" fill="#1e90ff"/>
<text x="287.70" y="137.08" font-size="8.8" text-anchor="start" fill="#222" color="#222">T cells</text>
<text x="4.50" y="200.40" font-size="24" text-anchor="start" font-weight="bold" fill="#000" color="#000">b</text>
<text x="84.40" y="207.74" font-size="16.4" text-anchor="middle" font-weight="bold" fill="#000" color="#000">P</text>
<text x="89.00" y="220.72" font-size="10.9" text-anchor="middle" fill="#222" color="#222">Number of interactions</text>
<path d="M62.1,246.0 Q85.2,289.6 124.4,319.4" stroke="#984ea3" stroke-width="4.83" fill="none" stroke-opacity="0.6" stroke-linecap="round"/>
<path d="M62.1,246.0 Q68.8,294.9 95.4,336.4" stroke="#984ea3" stroke-width="3.68" fill="none" stroke-opacity="0.6" stroke-linecap="round"/>
<path d="M62.1,246.0 Q46.2,272.2 42.7,302.7" stroke="#984ea3" stroke-width="5.17" fill="none" stroke-opacity="0.6" stroke-linecap="round"/>
<path d="M62.1,246.0 Q53.6,287.8 63.5,329.2" stroke="#984ea3" stroke-width="2.88" fill="none" stroke-opacity="0.6" stroke-linecap="round"/>
<path d="M62.1,246.0 Q92.3,258.5 124.9,257.1" stroke="#984ea3" stroke-width="2.88" fill="none" stroke-opacity="0.6" stroke-linecap="round"/>
<path d="M62.1,246.0 Q95.0,275.2 137.1,288.0" stroke="#984ea3" stroke-width="2.53" fill="none" stroke-opacity="0.6" stroke-linecap="round"/>
<path d="M62.1,246.0 Q49.7,256.4 42.7,271.0" stroke="#984ea3" stroke-width="3.45" fill="none" stroke-opacity="0.6" stroke-linecap="round"/>
<path d="M62.1,246.0 Q79.4,246.8 95.4,240.3" stroke="#984ea3" stroke-width="1.38" fill="none" stroke-opacity="0.6" stroke-linecap="round"/>
<path d="M42.7,271.0 Q78.2,304.2 124.4,319.4" stroke="#f39c12" stroke-width="4.14" fill="none" stroke-opacity="0.6" stroke-linecap="round"/>
<path d="M42.7,271.0 Q55.2,260.6 62.1,246.0" stroke="#f39c12" stroke-width="3.45" fill="none" stroke-opacity="0.6" stroke-linecap="round"/>
<path d="M42.7,271.0 Q85.3,273.1 124.9,257.1" stroke="#f39c12" stroke-width="2.53" fill="none" stroke-opacity="0.6" stroke-linecap="round"/>
<path d="M42.7,271.0 Q88.0,289.9 137.1,288.0" stroke="#f39c12" stroke-width="1.84" fill="none" stroke-opacity="0.6" stroke-linecap="round"/>
<path d="M42.7,271.0 Q61.9,309.5 95.4,336.4" stroke="#f39c12" stroke-width="2.30" fill="none" stroke-opacity="0.6" stroke-linecap="round"/>
<path d="M42.7,271.0 Q39.2,286.9 42.7,302.7" stroke="#f39c12" stroke-width="1.72" fill="none" stroke-opacity="0.6" stroke-linecap="round"/>
<path d="M42.7,271.0 Q46.7,302.4 63.5,329.2" stroke="#f39c12" stroke-width="1.38" fill="none" stroke-opacity="0.6" stroke-linecap="round"/>
<path d="M42.7,271.0 Q72.4,261.4 95.4,240.3" stroke="#f39c12" stroke-width="0.92" fill="none" stroke-opacity="0.6" stroke-linecap="round"/>
<path d="M42.7,302.7 Q81.7,320.0 124.4,319.4" stroke="#f781bf" stroke-width="3.45" fill="none" stroke-opacity="0.6" stroke-linecap="round"/>
<path d="M42.7,302.7 Q58.6,276.5 62.1,246.0" stroke="#f781bf" stroke-width="3.91" fill="none" stroke-opacity="0.6" stroke-linecap="round"/>
<path d="M42.7,302.7 Q91.5,305.7 137.1,288.0" stroke="#f781bf" stroke-width="2.53" fill="none" stroke-opacity="0.6" stroke-linecap="round"/>
<path d="M42.7,302.7 Q88.8,288.9 124.9,257.1" stroke="#f781bf" stroke-width="2.07" fill="none" stroke-opacity="0.6" stroke-linecap="round"/>
<path d="M42.7,302.7 Q65.3,325.3 95.4,336.4" stroke="#f781bf" stroke-width="2.07" fill="none" stroke-opacity="0.6" stroke-linecap="round"/>
<path d="M42.7,302.7 Q50.2,318.2 63.5,329.2" stroke="#f781bf" stroke-width="1.61" fill="none" stroke-opacity="0.6" stroke-linecap="round"/>
<path d="M42.7,302.7 Q46.2,286.9 42.7,271.0" stroke="#f781bf" stroke-width="4.14" fill="none" stroke-opacity="0.6" stroke-linecap="round"/>
<path d="M124.9,257.1 Q117.8,288.2 124.4,319.4" stroke="#377eb8" stroke-width="2.99" fill="none" stroke-opacity="0.6" stroke-linecap="round"/>
<path d="M124.9,257.1 Q82.3,255.0 42.7,271.0" stroke="#377eb8" stroke-width="2.30" fill="none" stroke-opacity="0.6" stroke-linecap="round"/>
<path d="M124.9,257.1 Q78.8,270.9 42.7,302.7" stroke="#377eb8" stroke-width="1.72" fill="none" stroke-opacity="0.6" stroke-linecap="round"/>
<path d="M124.9,257.1 Q94.7,244.6 62.1,246.0" stroke="#377eb8" stroke-width="2.07" fill="none" stroke-opacity="0.6" stroke-linecap="round"/>
<path d="M124.9,257.1 Q101.4,293.5 95.4,336.4" stroke="#377eb8" stroke-width="1.38" fill="none" stroke-opacity="0.6" stroke-linecap="round"/>
<path d="M124.9,257.1 Q127.6,273.9 137.1,288.0" stroke="#377eb8" stroke-width="1.15" fill="none" stroke-opacity="0.6" stroke-linecap="round"/>
<path d="M124.9,257.1 Q86.3,286.4 63.5,329.2" stroke="#377eb8" stroke-width="1.15" fill="none" stroke-opacity="0.6" stroke-linecap="round"/>
<path d="M137.1,288.0 Q127.3,302.3 124.4,319.4" stroke="#e41a1c" stroke-width="2.53" fill="none" stroke-opacity="0.6" stroke-linecap="round"/>
<path d="M137.1,288.0 Q91.8,269.1 42.7,271.0" stroke="#e41a1c" stroke-width="0.80" fill="none" stroke-opacity="0.6" stroke-linecap="round"/>
<path d="M137.1,288.0 Q88.3,285.0 42.7,302.7" stroke="#e41a1c" stroke-width="0.92" fill="none" stroke-opacity="0.6" stroke-linecap="round"/>
<path d="M137.1,288.0 Q104.2,258.8 62.1,246.0" stroke="#e41a1c" stroke-width="0.69" fill="none" stroke-opacity="0.6" stroke-linecap="round"/>
<path d="M137.1,288.0 Q110.9,307.6 95.4,336.4" stroke="#e41a1c" stroke-width="0.69" fill="none" stroke-opacity="0.6" stroke-linecap="round"/>
<path d="M124.4,319.4 Q108.0,324.7 95.4,336.4" stroke="#56b4e9" stroke-width="2.99" fill="none" stroke-opacity="0.6" stroke-linecap="round"/>
<path d="M124.4,319.4 Q131.5,288.3 124.9,257.1" stroke="#56b4e9" stroke-width="2.99" fill="none" stroke-opacity="0.6" stroke-linecap="round"/>
<path d="M124.4,319.4 Q85.4,302.1 42.7,302.7" stroke="#56b4e9" stroke-width="2.30" fill="none" stroke-opacity="0.6" stroke-linecap="round"/>
<path d="M124.4,319.4 Q101.3,275.8 62.1,246.0" stroke="#56b4e9" stroke-width="1.72" fill="none" stroke-opacity="0.6" stroke-linecap="round"/>
<path d="M124.4,319.4 Q88.9,286.2 42.7,271.0" stroke="#56b4e9" stroke-width="1.84" fill="none" stroke-opacity="0.6" stroke-linecap="round"/>
<path d="M124.4,319.4 Q134.2,305.1 137.1,288.0" stroke="#56b4e9" stroke-width="1.84" fill="none" stroke-opacity="0.6" stroke-linecap="round"/>
<path d="M124.4,319.4 Q92.9,317.6 63.5,329.2" stroke="#56b4e9" stroke-width="1.15" fill="none" stroke-opacity="0.6" stroke-linecap="round"/>
<path d="M95.4,336.4 Q88.7,287.5 62.1,246.0" stroke="#a65628" stroke-width="1.72" fill="none" stroke-opacity="0.6" stroke-linecap="round"/>
<path d="M95.4,336.4 Q76.2,297.9 42.7,271.0" stroke="#a65628" stroke-width="1.72" fill="none" stroke-opacity="0.6" stroke-linecap="round"/>
<path d="M95.4,336.4 Q111.8,331.1 124.4,319.4" stroke="#a65628" stroke-width="1.38" fill="none" stroke-opacity="0.6" stroke-linecap="round"/>
<path d="M95.4,336.4 Q118.9,300.0 124.9,257.1" stroke="#a65628" stroke-width="1.15" fill="none" stroke-opacity="0.6" stroke-linecap="round"/>
<path d="M95.4,336.4 Q72.8,313.8 42.7,302.7" stroke="#a65628" stroke-width="1.15" fill="none" stroke-opacity="0.6" stroke-linecap="round"/>
<path d="M95.4,336.4 Q121.6,316.8 137.1,288.0" stroke="#a65628" stroke-width="0.92" fill="none" stroke-opacity="0.6" stroke-linecap="round"/>
<path d="M63.5,329.2 Q72.0,287.4 62.1,246.0" stroke="#bc9dcc" stroke-width="1.15" fill="none" stroke-opacity="0.6" stroke-linecap="round"/>
<path d="M63.5,329.2 Q95.0,331.0 124.4,319.4" stroke="#bc9dcc" stroke-width="1.15" fill="none" stroke-opacity="0.6" stroke-linecap="round"/>
<path d="M63.5,329.2 Q59.5,297.8 42.7,271.0" stroke="#bc9dcc" stroke-width="0.92" fill="none" stroke-opacity="0.6" stroke-linecap="round"/>
<path d="M63.5,329.2 Q102.1,299.9 124.9,257.1" stroke="#bc9dcc" stroke-width="0.69" fill="none" stroke-opacity="0.6" stroke-linecap="round"/>
<path d="M95.4,240.3 Q78.1,239.5 62.1,246.0" stroke="#4daf4a" stroke-width="0.69" fill="none" stroke-opacity="0.6" stroke-linecap="round"/>
<path d="M95.4,240.3 Q101.2,283.0 124.4,319.4" stroke="#4daf4a" stroke-width="0.69" fill="none" stroke-opacity="0.6" stroke-linecap="round"/>
<path d="M95.4,240.3 Q84.8,288.4 95.4,336.4" stroke="#4daf4a" stroke-width="0.57" fill="none" stroke-opacity="0.6" stroke-linecap="round"/>
<path d="M95.4,240.3 Q108.3,251.9 124.9,257.1" stroke="#4daf4a" stroke-width="0.57" fill="none" stroke-opacity="0.6" stroke-linecap="round"/>
<path d="M95.4,240.3 Q62.2,265.7 42.7,302.7" stroke="#4daf4a" stroke-width="0.57" fill="none" stroke-opacity="0.6" stroke-linecap="round"/>
<path d="M95.4,240.3 Q65.7,249.9 42.7,271.0" stroke="#4daf4a" stroke-width="0.57" fill="none" stroke-opacity="0.6" stroke-linecap="round"/>
<path d="M95.4,240.3 Q111.0,268.7 137.1,288.0" stroke="#4daf4a" stroke-width="0.57" fill="none" stroke-opacity="0.6" stroke-linecap="round"/>
<path d="M42.7,271.0 C27.8,253.2 20.9,278.9 42.7,271.0" stroke="#f39c12" stroke-width="3" fill="none" stroke-opacity="0.6"/>
<path d="M42.7,302.7 C24.9,287.8 22.6,314.3 42.7,302.7" stroke="#f781bf" stroke-width="4.5" fill="none" stroke-opacity="0.6"/>
<path d="M124.4,319.4 C132.3,341.2 147.6,319.4 124.4,319.4" stroke="#56b4e9" stroke-width="3" fill="none" stroke-opacity="0.6"/>
<path d="M95.4,336.4 C80.7,355.9 108.7,356.9 95.4,336.4" stroke="#a65628" stroke-width="1.8" fill="none" stroke-opacity="0.6"/>
<path d="M124.9,257.1 C139.5,257.1 129.9,243.3 124.9,257.1" stroke="#377eb8" stroke-width="1" fill="none" stroke-opacity="0.6"/>
<path d="M95.4,240.3 C106.4,225.7 85.4,224.9 95.4,240.3" stroke="#4daf4a" stroke-width="0.7" fill="none" stroke-opacity="0.6"/>
<path d="M63.5,329.2 C52.9,335.3 65.6,341.2 63.5,329.2" stroke="#bc9dcc" stroke-width="1" fill="none" stroke-opacity="0.6"/>
<path d="M137.1,288.0 C147.5,298.4 150.4,281.8 137.1,288.0" stroke="#e41a1c" stroke-width="2.2" fill="none" stroke-opacity="0.6"/>
<ellipse cx="53.9" cy="231.8" rx="5.4" ry="6.2" transform="rotate(-30 53.9 231.8)" fill="#c39ad3" fill-opacity="0.9"/>
<line x1="62.10" y1="246.00" x2="55.60" y2="235.00" stroke="#c39ad3" stroke-width="7" stroke-opacity="0.9"/>
<circle cx="62.10" cy="246.00" r="5.30" fill="#984ea3"/>
<circle cx="95.40" cy="240.30" r="1.60" fill="#4daf4a"/>
<circle cx="124.90" cy="257.10" r="2.20" fill="#377eb8"/>
<circle cx="137.10" cy="288.00" r="1.60" fill="#e41a1c"/>
<circle cx="124.40" cy="319.40" r="2.20" fill="#56b4e9"/>
<circle cx="95.40" cy="336.40" r="2.20" fill="#a65628"/>
<circle cx="63.50" cy="329.20" r="1.60" fill="#bc9dcc"/>
<circle cx="42.70" cy="302.70" r="2.20" fill="#f781bf"/>
<circle cx="42.70" cy="271.00" r="2.20" fill="#f39c12"/>
<text x="60.80" y="235.93" font-size="9.8" text-anchor="start" fill="#151515" color="#151515">Endothelial cells</text>
<text x="27.30" y="240.93" font-size="9.8" text-anchor="start" fill="#151515" color="#151515">Macrophage</text>
<text x="100.50" y="254.63" font-size="9.8" text-anchor="start" fill="#151515" color="#151515">Dendritic cells</text>
<text x="11.20" y="273.93" font-size="9.8" text-anchor="start" fill="#151515" color="#151515">Microglia</text>
<text x="130.30" y="292.03" font-size="9.8" text-anchor="start" fill="#151515" color="#151515">B cells</text>
<text x="11.20" y="313.63" font-size="9.8" text-anchor="start" fill="#151515" color="#151515">Monocytes</text>
<text x="120.40" y="323.13" font-size="9.8" text-anchor="start" fill="#151515" color="#151515">T cells</text>
<text x="37.20" y="341.43" font-size="9.8" text-anchor="start" fill="#151515" color="#151515">Neutrophils</text>
<text x="83.60" y="345.43" font-size="9.8" text-anchor="start" fill="#151515" color="#151515">NK cells</text>
<text x="254.90" y="207.74" font-size="16.4" text-anchor="middle" font-weight="bold" fill="#000" color="#000">P+ Fer-1</text>
<text x="258.30" y="220.72" font-size="10.9" text-anchor="middle" fill="#222" color="#222">Number of interactions</text>
<path d="M231.5,247.5 Q255.0,291.7 294.8,321.9" stroke="#984ea3" stroke-width="4.54" fill="none" stroke-opacity="0.6" stroke-linecap="round"/>
<path d="M231.5,247.5 Q238.3,296.5 265.1,338.2" stroke="#984ea3" stroke-width="2.96" fill="none" stroke-opacity="0.6" stroke-linecap="round"/>
<path d="M231.5,247.5 Q214.4,274.7 210.4,306.6" stroke="#984ea3" stroke-width="4.61" fill="none" stroke-opacity="0.6" stroke-linecap="round"/>
<path d="M231.5,247.5 Q222.3,289.1 231.5,330.8" stroke="#984ea3" stroke-width="2.72" fill="none" stroke-opacity="0.6" stroke-linecap="round"/>
<path d="M231.5,247.5 Q262.1,260.4 295.3,259.3" stroke="#984ea3" stroke-width="2.56" fill="none" stroke-opacity="0.6" stroke-linecap="round"/>
<path d="M231.5,247.5 Q264.6,277.2 307.1,290.3" stroke="#984ea3" stroke-width="2.45" fill="none" stroke-opacity="0.6" stroke-linecap="round"/>
<path d="M231.5,247.5 Q218.5,258.0 211.2,273.0" stroke="#984ea3" stroke-width="2.96" fill="none" stroke-opacity="0.6" stroke-linecap="round"/>
<path d="M231.5,247.5 Q249.3,248.0 265.6,241.0" stroke="#984ea3" stroke-width="1.37" fill="none" stroke-opacity="0.6" stroke-linecap="round"/>
<path d="M211.2,273.0 Q247.6,306.6 294.8,321.9" stroke="#f39c12" stroke-width="4.01" fill="none" stroke-opacity="0.6" stroke-linecap="round"/>
<path d="M211.2,273.0 Q224.2,262.5 231.5,247.5" stroke="#f39c12" stroke-width="2.97" fill="none" stroke-opacity="0.6" stroke-linecap="round"/>
<path d="M211.2,273.0 Q254.8,275.4 295.3,259.3" stroke="#f39c12" stroke-width="2.18" fill="none" stroke-opacity="0.6" stroke-linecap="round"/>
<path d="M211.2,273.0 Q257.2,292.2 307.1,290.3" stroke="#f39c12" stroke-width="1.55" fill="none" stroke-opacity="0.6" stroke-linecap="round"/>
<path d="M211.2,273.0 Q231.0,311.5 265.1,338.2" stroke="#f39c12" stroke-width="1.87" fill="none" stroke-opacity="0.6" stroke-linecap="round"/>
<path d="M211.2,273.0 Q207.1,289.7 210.4,306.6" stroke="#f39c12" stroke-width="1.39" fill="none" stroke-opacity="0.6" stroke-linecap="round"/>
<path d="M211.2,273.0 Q215.0,304.1 231.5,330.8" stroke="#f39c12" stroke-width="1.15" fill="none" stroke-opacity="0.6" stroke-linecap="round"/>
<path d="M211.2,273.0 Q241.9,263.0 265.6,241.0" stroke="#f39c12" stroke-width="0.80" fill="none" stroke-opacity="0.6" stroke-linecap="round"/>
<path d="M210.4,306.6 Q250.9,323.5 294.8,321.9" stroke="#f781bf" stroke-width="3.09" fill="none" stroke-opacity="0.6" stroke-linecap="round"/>
<path d="M210.4,306.6 Q227.5,279.4 231.5,247.5" stroke="#f781bf" stroke-width="3.18" fill="none" stroke-opacity="0.6" stroke-linecap="round"/>
<path d="M210.4,306.6 Q260.5,309.1 307.1,290.3" stroke="#f781bf" stroke-width="2.21" fill="none" stroke-opacity="0.6" stroke-linecap="round"/>
<path d="M210.4,306.6 Q258.1,292.3 295.3,259.3" stroke="#f781bf" stroke-width="2.01" fill="none" stroke-opacity="0.6" stroke-linecap="round"/>
<path d="M210.4,306.6 Q234.3,328.4 265.1,338.2" stroke="#f781bf" stroke-width="1.96" fill="none" stroke-opacity="0.6" stroke-linecap="round"/>
<path d="M210.4,306.6 Q218.3,321.0 231.5,330.8" stroke="#f781bf" stroke-width="1.50" fill="none" stroke-opacity="0.6" stroke-linecap="round"/>
<path d="M210.4,306.6 Q214.5,289.9 211.2,273.0" stroke="#f781bf" stroke-width="3.49" fill="none" stroke-opacity="0.6" stroke-linecap="round"/>
<path d="M295.3,259.3 Q288.2,290.5 294.8,321.9" stroke="#377eb8" stroke-width="2.93" fill="none" stroke-opacity="0.6" stroke-linecap="round"/>
<path d="M295.3,259.3 Q251.7,256.9 211.2,273.0" stroke="#377eb8" stroke-width="1.93" fill="none" stroke-opacity="0.6" stroke-linecap="round"/>
<path d="M295.3,259.3 Q247.6,273.6 210.4,306.6" stroke="#377eb8" stroke-width="1.54" fill="none" stroke-opacity="0.6" stroke-linecap="round"/>
<path d="M295.3,259.3 Q264.7,246.4 231.5,247.5" stroke="#377eb8" stroke-width="1.78" fill="none" stroke-opacity="0.6" stroke-linecap="round"/>
<path d="M295.3,259.3 Q271.5,295.4 265.1,338.2" stroke="#377eb8" stroke-width="1.32" fill="none" stroke-opacity="0.6" stroke-linecap="round"/>
<path d="M295.3,259.3 Q297.8,276.1 307.1,290.3" stroke="#377eb8" stroke-width="0.98" fill="none" stroke-opacity="0.6" stroke-linecap="round"/>
<path d="M295.3,259.3 Q255.5,288.0 231.5,330.8" stroke="#377eb8" stroke-width="1.14" fill="none" stroke-opacity="0.6" stroke-linecap="round"/>
<path d="M307.1,290.3 Q297.5,304.7 294.8,321.9" stroke="#e41a1c" stroke-width="2.41" fill="none" stroke-opacity="0.6" stroke-linecap="round"/>
<path d="M307.1,290.3 Q261.1,271.1 211.2,273.0" stroke="#e41a1c" stroke-width="0.65" fill="none" stroke-opacity="0.6" stroke-linecap="round"/>
<path d="M307.1,290.3 Q257.0,287.8 210.4,306.6" stroke="#e41a1c" stroke-width="0.77" fill="none" stroke-opacity="0.6" stroke-linecap="round"/>
<path d="M307.1,290.3 Q274.0,260.6 231.5,247.5" stroke="#e41a1c" stroke-width="0.61" fill="none" stroke-opacity="0.6" stroke-linecap="round"/>
<path d="M307.1,290.3 Q280.8,309.6 265.1,338.2" stroke="#e41a1c" stroke-width="0.65" fill="none" stroke-opacity="0.6" stroke-linecap="round"/>
<path d="M294.8,321.9 Q278.2,326.8 265.1,338.2" stroke="#56b4e9" stroke-width="2.73" fill="none" stroke-opacity="0.6" stroke-linecap="round"/>
<path d="M294.8,321.9 Q301.9,290.7 295.3,259.3" stroke="#56b4e9" stroke-width="2.85" fill="none" stroke-opacity="0.6" stroke-linecap="round"/>
<path d="M294.8,321.9 Q254.3,305.0 210.4,306.6" stroke="#56b4e9" stroke-width="1.95" fill="none" stroke-opacity="0.6" stroke-linecap="round"/>
<path d="M294.8,321.9 Q271.3,277.7 231.5,247.5" stroke="#56b4e9" stroke-width="1.67" fill="none" stroke-opacity="0.6" stroke-linecap="round"/>
<path d="M294.8,321.9 Q258.4,288.3 211.2,273.0" stroke="#56b4e9" stroke-width="1.53" fill="none" stroke-opacity="0.6" stroke-linecap="round"/>
<path d="M294.8,321.9 Q304.4,307.5 307.1,290.3" stroke="#56b4e9" stroke-width="1.77" fill="none" stroke-opacity="0.6" stroke-linecap="round"/>
<path d="M294.8,321.9 Q262.2,319.4 231.5,330.8" stroke="#56b4e9" stroke-width="1.06" fill="none" stroke-opacity="0.6" stroke-linecap="round"/>
<path d="M265.1,338.2 Q258.3,289.2 231.5,247.5" stroke="#a65628" stroke-width="1.54" fill="none" stroke-opacity="0.6" stroke-linecap="round"/>
<path d="M265.1,338.2 Q245.3,299.7 211.2,273.0" stroke="#a65628" stroke-width="1.57" fill="none" stroke-opacity="0.6" stroke-linecap="round"/>
<path d="M265.1,338.2 Q281.7,333.3 294.8,321.9" stroke="#a65628" stroke-width="1.21" fill="none" stroke-opacity="0.6" stroke-linecap="round"/>
<path d="M265.1,338.2 Q288.9,302.1 295.3,259.3" stroke="#a65628" stroke-width="0.98" fill="none" stroke-opacity="0.6" stroke-linecap="round"/>
<path d="M265.1,338.2 Q241.2,316.4 210.4,306.6" stroke="#a65628" stroke-width="1.05" fill="none" stroke-opacity="0.6" stroke-linecap="round"/>
<path d="M265.1,338.2 Q291.4,318.9 307.1,290.3" stroke="#a65628" stroke-width="0.79" fill="none" stroke-opacity="0.6" stroke-linecap="round"/>
<path d="M231.5,330.8 Q240.7,289.1 231.5,247.5" stroke="#bc9dcc" stroke-width="1.02" fill="none" stroke-opacity="0.6" stroke-linecap="round"/>
<path d="M231.5,330.8 Q264.1,333.3 294.8,321.9" stroke="#bc9dcc" stroke-width="1.13" fill="none" stroke-opacity="0.6" stroke-linecap="round"/>
<path d="M231.5,330.8 Q227.7,299.7 211.2,273.0" stroke="#bc9dcc" stroke-width="0.92" fill="none" stroke-opacity="0.6" stroke-linecap="round"/>
<path d="M231.5,330.8 Q271.3,302.1 295.3,259.3" stroke="#bc9dcc" stroke-width="0.57" fill="none" stroke-opacity="0.6" stroke-linecap="round"/>
<path d="M265.6,241.0 Q247.8,240.5 231.5,247.5" stroke="#4daf4a" stroke-width="0.60" fill="none" stroke-opacity="0.6" stroke-linecap="round"/>
<path d="M265.6,241.0 Q271.3,284.7 294.8,321.9" stroke="#4daf4a" stroke-width="0.66" fill="none" stroke-opacity="0.6" stroke-linecap="round"/>
<path d="M265.6,241.0 Q254.7,289.5 265.1,338.2" stroke="#4daf4a" stroke-width="0.48" fill="none" stroke-opacity="0.6" stroke-linecap="round"/>
<path d="M265.6,241.0 Q278.4,253.4 295.3,259.3" stroke="#4daf4a" stroke-width="0.51" fill="none" stroke-opacity="0.6" stroke-linecap="round"/>
<path d="M265.6,241.0 Q230.8,267.7 210.4,306.6" stroke="#4daf4a" stroke-width="0.47" fill="none" stroke-opacity="0.6" stroke-linecap="round"/>
<path d="M265.6,241.0 Q234.9,251.0 211.2,273.0" stroke="#4daf4a" stroke-width="0.55" fill="none" stroke-opacity="0.6" stroke-linecap="round"/>
<path d="M265.6,241.0 Q280.9,270.2 307.1,290.3" stroke="#4daf4a" stroke-width="0.55" fill="none" stroke-opacity="0.6" stroke-linecap="round"/>
<path d="M211.2,273.0 C196.3,255.2 189.4,280.9 211.2,273.0" stroke="#f39c12" stroke-width="3" fill="none" stroke-opacity="0.6"/>
<path d="M210.4,306.6 C193.6,292.5 191.4,317.6 210.4,306.6" stroke="#f781bf" stroke-width="4" fill="none" stroke-opacity="0.6"/>
<path d="M294.8,321.9 C302.3,342.5 316.8,321.9 294.8,321.9" stroke="#56b4e9" stroke-width="2.2" fill="none" stroke-opacity="0.6"/>
<path d="M265.1,338.2 C250.4,357.7 278.4,358.7 265.1,338.2" stroke="#a65628" stroke-width="1.8" fill="none" stroke-opacity="0.6"/>
<path d="M295.3,259.3 C309.9,259.3 300.3,245.5 295.3,259.3" stroke="#377eb8" stroke-width="1" fill="none" stroke-opacity="0.6"/>
<path d="M265.6,241.0 C276.6,226.4 255.6,225.6 265.6,241.0" stroke="#4daf4a" stroke-width="0.7" fill="none" stroke-opacity="0.6"/>
<path d="M231.5,330.8 C220.9,336.9 233.6,342.8 231.5,330.8" stroke="#bc9dcc" stroke-width="1" fill="none" stroke-opacity="0.6"/>
<path d="M307.1,290.3 C316.6,299.8 319.3,284.6 307.1,290.3" stroke="#e41a1c" stroke-width="1.6" fill="none" stroke-opacity="0.6"/>
<ellipse cx="223.3" cy="233.3" rx="5.4" ry="6.2" transform="rotate(-30 223.3 233.3)" fill="#c39ad3" fill-opacity="0.9"/>
<line x1="231.50" y1="247.50" x2="225.00" y2="236.50" stroke="#c39ad3" stroke-width="7" stroke-opacity="0.9"/>
<circle cx="231.50" cy="247.50" r="5.30" fill="#984ea3"/>
<circle cx="265.60" cy="241.00" r="1.60" fill="#4daf4a"/>
<circle cx="295.30" cy="259.30" r="2.20" fill="#377eb8"/>
<circle cx="307.10" cy="290.30" r="1.60" fill="#e41a1c"/>
<circle cx="294.80" cy="321.90" r="2.20" fill="#56b4e9"/>
<circle cx="265.10" cy="338.20" r="2.20" fill="#a65628"/>
<circle cx="231.50" cy="330.80" r="1.60" fill="#bc9dcc"/>
<circle cx="210.40" cy="306.60" r="2.20" fill="#f781bf"/>
<circle cx="211.20" cy="273.00" r="2.20" fill="#f39c12"/>
<text x="229.60" y="237.03" font-size="9.8" text-anchor="start" fill="#151515" color="#151515">Endothelial cells</text>
<text x="196.80" y="242.23" font-size="9.8" text-anchor="start" fill="#151515" color="#151515">Macrophage</text>
<text x="270.40" y="256.23" font-size="9.8" text-anchor="start" fill="#151515" color="#151515">Dendritic cells</text>
<text x="180.50" y="275.93" font-size="9.8" text-anchor="start" fill="#151515" color="#151515">Microglia</text>
<text x="300.60" y="293.73" font-size="9.8" text-anchor="start" fill="#151515" color="#151515">B cells</text>
<text x="179.70" y="315.33" font-size="9.8" text-anchor="start" fill="#151515" color="#151515">Monocytes</text>
<text x="290.60" y="325.83" font-size="9.8" text-anchor="start" fill="#151515" color="#151515">T cells</text>
<text x="206.80" y="343.73" font-size="9.8" text-anchor="start" fill="#151515" color="#151515">Neutrophils</text>
<text x="253.30" y="348.13" font-size="9.8" text-anchor="start" fill="#151515" color="#151515">NK cells</text>
<text x="336.80" y="13.00" font-size="24" text-anchor="start" font-weight="bold" fill="#000" color="#000">c</text>
<text x="353.00" y="20.50" font-size="11.8" text-anchor="start" font-weight="bold" fill="#f01818" color="#f01818">Differential</text>
<text x="425.80" y="20.50" font-size="10.7" text-anchor="start" font-weight="bold" fill="#000" color="#000">No. of interactions</text>
<text x="543.00" y="20.50" font-size="10.7" text-anchor="start" font-weight="bold" fill="#000" color="#000">Interaction strength</text>
<rect x="427.00" y="55.00" width="4.20" height="26.00" fill="#e41a1c"/>
<rect x="427.00" y="81.00" width="4.20" height="26.00" fill="#377eb8"/>
<rect x="427.00" y="107.00" width="4.20" height="26.00" fill="#4daf4a"/>
<rect x="427.00" y="133.00" width="4.20" height="26.00" fill="#984ea3"/>
<rect x="427.00" y="159.00" width="4.20" height="26.00" fill="#f39c12"/>
<rect x="427.00" y="185.00" width="4.20" height="26.00" fill="#f781bf"/>
<rect x="427.00" y="211.00" width="4.20" height="26.00" fill="#bc9dcc"/>
<rect x="427.00" y="237.00" width="4.20" height="26.00" fill="#a65628"/>
<rect x="427.00" y="263.00" width="4.20" height="26.00" fill="#56b4e9"/>
<rect x="432.30" y="55.00" width="9.68" height="26.05" fill="#f5e4e3"/>
<rect x="441.93" y="55.00" width="9.68" height="26.05" fill="#efc8c5"/>
<rect x="451.56" y="55.00" width="9.68" height="26.05" fill="#f3d8d5"/>
<rect x="461.19" y="55.00" width="9.68" height="26.05" fill="#f5e5e4"/>
<rect x="470.82" y="55.00" width="9.68" height="26.05" fill="#efc8c5"/>
<rect x="480.45" y="55.00" width="9.68" height="26.05" fill="#f5e5e4"/>
<rect x="490.08" y="55.00" width="9.68" height="26.05" fill="#ffffff"/>
<rect x="499.71" y="55.00" width="9.68" height="26.05" fill="#f5e5e4"/>
<rect x="509.34" y="55.00" width="9.68" height="26.05" fill="#8ea3cf"/>
<rect x="432.30" y="81.00" width="9.68" height="26.05" fill="#efcbc8"/>
<rect x="441.93" y="81.00" width="9.68" height="26.05" fill="#edbdb9"/>
<rect x="451.56" y="81.00" width="9.68" height="26.05" fill="#f3d5d2"/>
<rect x="461.19" y="81.00" width="9.68" height="26.05" fill="#e2e6ef"/>
<rect x="470.82" y="81.00" width="9.68" height="26.05" fill="#ffffff"/>
<rect x="480.45" y="81.00" width="9.68" height="26.05" fill="#ecb8b3"/>
<rect x="490.08" y="81.00" width="9.68" height="26.05" fill="#f0c8c3"/>
<rect x="499.71" y="81.00" width="9.68" height="26.05" fill="#e19790"/>
<rect x="509.34" y="81.00" width="9.68" height="26.05" fill="#5f83c0"/>
<rect x="432.30" y="107.00" width="9.68" height="26.05" fill="#f3d5d2"/>
<rect x="441.93" y="107.00" width="9.68" height="26.05" fill="#f1cbc7"/>
<rect x="451.56" y="107.00" width="9.68" height="26.05" fill="#f3d7d4"/>
<rect x="461.19" y="107.00" width="9.68" height="26.05" fill="#f3d7d4"/>
<rect x="470.82" y="107.00" width="9.68" height="26.05" fill="#eeb8b3"/>
<rect x="480.45" y="107.00" width="9.68" height="26.05" fill="#f3d8d5"/>
<rect x="490.08" y="107.00" width="9.68" height="26.05" fill="#f5e5e4"/>
<rect x="499.71" y="107.00" width="9.68" height="26.05" fill="#f1cdc9"/>
<rect x="509.34" y="107.00" width="9.68" height="26.05" fill="#e3e6ef"/>
<rect x="432.30" y="133.00" width="9.68" height="26.05" fill="#d8716e"/>
<rect x="441.93" y="133.00" width="9.68" height="26.05" fill="#b01b2e"/>
<rect x="451.56" y="133.00" width="9.68" height="26.05" fill="#f5e5e4"/>
<rect x="461.19" y="133.00" width="9.68" height="26.05" fill="#b21b2e"/>
<rect x="470.82" y="133.00" width="9.68" height="26.05" fill="#c44c4a"/>
<rect x="480.45" y="133.00" width="9.68" height="26.05" fill="#b01b2e"/>
<rect x="490.08" y="133.00" width="9.68" height="26.05" fill="#f0c8c3"/>
<rect x="499.71" y="133.00" width="9.68" height="26.05" fill="#b92f36"/>
<rect x="509.34" y="133.00" width="9.68" height="26.05" fill="#819bcb"/>
<rect x="432.30" y="159.00" width="9.68" height="26.05" fill="#f5dad6"/>
<rect x="441.93" y="159.00" width="9.68" height="26.05" fill="#e49e98"/>
<rect x="451.56" y="159.00" width="9.68" height="26.05" fill="#f3d8d5"/>
<rect x="461.19" y="159.00" width="9.68" height="26.05" fill="#dbe0ea"/>
<rect x="470.82" y="159.00" width="9.68" height="26.05" fill="#e9a8a2"/>
<rect x="480.45" y="159.00" width="9.68" height="26.05" fill="#ffffff"/>
<rect x="490.08" y="159.00" width="9.68" height="26.05" fill="#ffffff"/>
<rect x="499.71" y="159.00" width="9.68" height="26.05" fill="#f0c9c5"/>
<rect x="509.34" y="159.00" width="9.68" height="26.05" fill="#839dcb"/>
<rect x="432.30" y="185.00" width="9.68" height="26.05" fill="#eaa9a4"/>
<rect x="441.93" y="185.00" width="9.68" height="26.05" fill="#eeb9b5"/>
<rect x="451.56" y="185.00" width="9.68" height="26.05" fill="#ffffff"/>
<rect x="461.19" y="185.00" width="9.68" height="26.05" fill="#dbe0ea"/>
<rect x="470.82" y="185.00" width="9.68" height="26.05" fill="#d4d9ea"/>
<rect x="480.45" y="185.00" width="9.68" height="26.05" fill="#f5e5e4"/>
<rect x="490.08" y="185.00" width="9.68" height="26.05" fill="#e6e9f1"/>
<rect x="499.71" y="185.00" width="9.68" height="26.05" fill="#ecb9b4"/>
<rect x="509.34" y="185.00" width="9.68" height="26.05" fill="#3570b3"/>
<rect x="432.30" y="211.00" width="9.68" height="26.05" fill="#ffffff"/>
<rect x="441.93" y="211.00" width="9.68" height="26.05" fill="#f3d7d4"/>
<rect x="451.56" y="211.00" width="9.68" height="26.05" fill="#ffffff"/>
<rect x="461.19" y="211.00" width="9.68" height="26.05" fill="#91a7d2"/>
<rect x="470.82" y="211.00" width="9.68" height="26.05" fill="#a5b5d8"/>
<rect x="480.45" y="211.00" width="9.68" height="26.05" fill="#dbe0ea"/>
<rect x="490.08" y="211.00" width="9.68" height="26.05" fill="#e2e6ef"/>
<rect x="499.71" y="211.00" width="9.68" height="26.05" fill="#e2e6ef"/>
<rect x="509.34" y="211.00" width="9.68" height="26.05" fill="#2166ac"/>
<rect x="432.30" y="237.00" width="9.68" height="26.05" fill="#ecb8b3"/>
<rect x="441.93" y="237.00" width="9.68" height="26.05" fill="#e29791"/>
<rect x="451.56" y="237.00" width="9.68" height="26.05" fill="#f3d7d4"/>
<rect x="461.19" y="237.00" width="9.68" height="26.05" fill="#d9756f"/>
<rect x="470.82" y="237.00" width="9.68" height="26.05" fill="#ffffff"/>
<rect x="480.45" y="237.00" width="9.68" height="26.05" fill="#f0c9c5"/>
<rect x="490.08" y="237.00" width="9.68" height="26.05" fill="#f0c9c5"/>
<rect x="499.71" y="237.00" width="9.68" height="26.05" fill="#e08d87"/>
<rect x="509.34" y="237.00" width="9.68" height="26.05" fill="#4a7bbc"/>
<rect x="432.30" y="263.00" width="9.68" height="26.05" fill="#f5dcd9"/>
<rect x="441.93" y="263.00" width="9.68" height="26.05" fill="#f0c9c5"/>
<rect x="451.56" y="263.00" width="9.68" height="26.05" fill="#f0c9c5"/>
<rect x="461.19" y="263.00" width="9.68" height="26.05" fill="#ffffff"/>
<rect x="470.82" y="263.00" width="9.68" height="26.05" fill="#f5e5e4"/>
<rect x="480.45" y="263.00" width="9.68" height="26.05" fill="#f0c9c5"/>
<rect x="490.08" y="263.00" width="9.68" height="26.05" fill="#f3d8d5"/>
<rect x="499.71" y="263.00" width="9.68" height="26.05" fill="#e39690"/>
<rect x="509.34" y="263.00" width="9.68" height="26.05" fill="#4f7ebc"/>
<line x1="441.93" y1="55.00" x2="441.93" y2="289.00" stroke="#ffffff" stroke-width="0.35" stroke-opacity="0.6"/>
<line x1="451.56" y1="55.00" x2="451.56" y2="289.00" stroke="#ffffff" stroke-width="0.35" stroke-opacity="0.6"/>
<line x1="461.19" y1="55.00" x2="461.19" y2="289.00" stroke="#ffffff" stroke-width="0.35" stroke-opacity="0.6"/>
<line x1="470.82" y1="55.00" x2="470.82" y2="289.00" stroke="#ffffff" stroke-width="0.35" stroke-opacity="0.6"/>
<line x1="480.45" y1="55.00" x2="480.45" y2="289.00" stroke="#ffffff" stroke-width="0.35" stroke-opacity="0.6"/>
<line x1="490.08" y1="55.00" x2="490.08" y2="289.00" stroke="#ffffff" stroke-width="0.35" stroke-opacity="0.6"/>
<line x1="499.71" y1="55.00" x2="499.71" y2="289.00" stroke="#ffffff" stroke-width="0.35" stroke-opacity="0.6"/>
<line x1="509.34" y1="55.00" x2="509.34" y2="289.00" stroke="#ffffff" stroke-width="0.35" stroke-opacity="0.6"/>
<rect x="432.30" y="290.70" width="9.68" height="4.20" fill="#e41a1c"/>
<rect x="441.93" y="290.70" width="9.68" height="4.20" fill="#377eb8"/>
<rect x="451.56" y="290.70" width="9.68" height="4.20" fill="#4daf4a"/>
<rect x="461.19" y="290.70" width="9.68" height="4.20" fill="#984ea3"/>
<rect x="470.82" y="290.70" width="9.68" height="4.20" fill="#f39c12"/>
<rect x="480.45" y="290.70" width="9.68" height="4.20" fill="#f781bf"/>
<rect x="490.08" y="290.70" width="9.68" height="4.20" fill="#bc9dcc"/>
<rect x="499.71" y="290.70" width="9.68" height="4.20" fill="#a65628"/>
<rect x="509.34" y="290.70" width="9.68" height="4.20" fill="#56b4e9"/>
<rect x="434.06" y="48.90" width="6.10" height="4.30" fill="#e41a1c"/>
<rect x="443.69" y="45.60" width="6.10" height="7.60" fill="#377eb8"/>
<rect x="453.32" y="51.00" width="6.10" height="2.20" fill="#4daf4a"/>
<rect x="462.95" y="46.50" width="6.10" height="6.70" fill="#984ea3"/>
<rect x="472.58" y="47.00" width="6.10" height="6.20" fill="#f39c12"/>
<rect x="482.21" y="48.10" width="6.10" height="5.10" fill="#f781bf"/>
<rect x="491.85" y="50.30" width="6.10" height="2.90" fill="#bc9dcc"/>
<rect x="501.48" y="45.80" width="6.10" height="7.40" fill="#a65628"/>
<rect x="511.10" y="34.00" width="6.10" height="19.20" fill="#56b4e9"/>
<line x1="429.70" y1="33.20" x2="429.70" y2="53.20" stroke="#555" stroke-width="0.6"/>
<line x1="428.20" y1="53.20" x2="429.70" y2="53.20" stroke="#555" stroke-width="0.5"/>
<text x="427.70" y="55.02" font-size="5.2" text-anchor="end" fill="#555" color="#555">0</text>
<line x1="428.20" y1="45.40" x2="429.70" y2="45.40" stroke="#555" stroke-width="0.5"/>
<text x="427.70" y="47.22" font-size="5.2" text-anchor="end" fill="#555" color="#555">50</text>
<line x1="428.20" y1="37.70" x2="429.70" y2="37.70" stroke="#555" stroke-width="0.5"/>
<text x="427.70" y="39.52" font-size="5.2" text-anchor="end" fill="#555" color="#555">100</text>
<rect x="520.40" y="60.00" width="5.60" height="16.00" fill="#e41a1c"/>
<rect x="520.40" y="86.00" width="8.60" height="16.00" fill="#377eb8"/>
<rect x="520.40" y="112.00" width="5.40" height="16.00" fill="#4daf4a"/>
<rect x="520.40" y="138.00" width="19.00" height="16.00" fill="#984ea3"/>
<rect x="520.40" y="164.00" width="7.70" height="16.00" fill="#f39c12"/>
<rect x="520.40" y="190.00" width="9.40" height="16.00" fill="#f781bf"/>
<rect x="520.40" y="216.00" width="10.50" height="16.00" fill="#bc9dcc"/>
<rect x="520.40" y="242.00" width="11.70" height="16.00" fill="#a65628"/>
<rect x="520.40" y="268.00" width="8.60" height="16.00" fill="#56b4e9"/>
<rect x="543.90" y="55.00" width="4.20" height="26.00" fill="#e41a1c"/>
<rect x="543.90" y="81.00" width="4.20" height="26.00" fill="#377eb8"/>
<rect x="543.90" y="107.00" width="4.20" height="26.00" fill="#4daf4a"/>
<rect x="543.90" y="133.00" width="4.20" height="26.00" fill="#984ea3"/>
<rect x="543.90" y="159.00" width="4.20" height="26.00" fill="#f39c12"/>
<rect x="543.90" y="185.00" width="4.20" height="26.00" fill="#f781bf"/>
<rect x="543.90" y="211.00" width="4.20" height="26.00" fill="#bc9dcc"/>
<rect x="543.90" y="237.00" width="4.20" height="26.00" fill="#a65628"/>
<rect x="543.90" y="263.00" width="4.20" height="26.00" fill="#56b4e9"/>
<rect x="550.00" y="55.00" width="9.71" height="26.05" fill="#f4f2f2"/>
<rect x="559.66" y="55.00" width="9.71" height="26.05" fill="#f4f2f2"/>
<rect x="569.32" y="55.00" width="9.71" height="26.05" fill="#f4f2f2"/>
<rect x="578.98" y="55.00" width="9.71" height="26.05" fill="#f4f2f2"/>
<rect x="588.64" y="55.00" width="9.71" height="26.05" fill="#f4f2f2"/>
<rect x="598.30" y="55.00" width="9.71" height="26.05" fill="#f4f2f2"/>
<rect x="607.96" y="55.00" width="9.71" height="26.05" fill="#f4f2f2"/>
<rect x="617.62" y="55.00" width="9.71" height="26.05" fill="#f4f2f2"/>
<rect x="627.28" y="55.00" width="9.71" height="26.05" fill="#f4f3f3"/>
<rect x="550.00" y="81.00" width="9.71" height="26.05" fill="#f4f2f2"/>
<rect x="559.66" y="81.00" width="9.71" height="26.05" fill="#2166ac"/>
<rect x="569.32" y="81.00" width="9.71" height="26.05" fill="#f5f0f0"/>
<rect x="578.98" y="81.00" width="9.71" height="26.05" fill="#f5e9e8"/>
<rect x="588.64" y="81.00" width="9.71" height="26.05" fill="#f5eded"/>
<rect x="598.30" y="81.00" width="9.71" height="26.05" fill="#f5ebea"/>
<rect x="607.96" y="81.00" width="9.71" height="26.05" fill="#f4f2f2"/>
<rect x="617.62" y="81.00" width="9.71" height="26.05" fill="#f5e9e8"/>
<rect x="627.28" y="81.00" width="9.71" height="26.05" fill="#f5efef"/>
<rect x="550.00" y="107.00" width="9.71" height="26.05" fill="#f4f4f4"/>
<rect x="559.66" y="107.00" width="9.71" height="26.05" fill="#f4f4f4"/>
<rect x="569.32" y="107.00" width="9.71" height="26.05" fill="#f4f4f4"/>
<rect x="578.98" y="107.00" width="9.71" height="26.05" fill="#f4f4f4"/>
<rect x="588.64" y="107.00" width="9.71" height="26.05" fill="#f4f4f4"/>
<rect x="598.30" y="107.00" width="9.71" height="26.05" fill="#f4f4f4"/>
<rect x="607.96" y="107.00" width="9.71" height="26.05" fill="#f4f4f4"/>
<rect x="617.62" y="107.00" width="9.71" height="26.05" fill="#f4f4f4"/>
<rect x="627.28" y="107.00" width="9.71" height="26.05" fill="#f4f4f4"/>
<rect x="550.00" y="133.00" width="9.71" height="26.05" fill="#f3d5d2"/>
<rect x="559.66" y="133.00" width="9.71" height="26.05" fill="#e8aaa5"/>
<rect x="569.32" y="133.00" width="9.71" height="26.05" fill="#f4f4f4"/>
<rect x="578.98" y="133.00" width="9.71" height="26.05" fill="#b01b2e"/>
<rect x="588.64" y="133.00" width="9.71" height="26.05" fill="#c84b4b"/>
<rect x="598.30" y="133.00" width="9.71" height="26.05" fill="#e8aaa5"/>
<rect x="607.96" y="133.00" width="9.71" height="26.05" fill="#f3e2e1"/>
<rect x="617.62" y="133.00" width="9.71" height="26.05" fill="#f3dcda"/>
<rect x="627.28" y="133.00" width="9.71" height="26.05" fill="#f5ebea"/>
<rect x="550.00" y="159.00" width="9.71" height="26.05" fill="#f4efef"/>
<rect x="559.66" y="159.00" width="9.71" height="26.05" fill="#f3dcda"/>
<rect x="569.32" y="159.00" width="9.71" height="26.05" fill="#f4f4f4"/>
<rect x="578.98" y="159.00" width="9.71" height="26.05" fill="#e19890"/>
<rect x="588.64" y="159.00" width="9.71" height="26.05" fill="#e4a29c"/>
<rect x="598.30" y="159.00" width="9.71" height="26.05" fill="#f3d8d5"/>
<rect x="607.96" y="159.00" width="9.71" height="26.05" fill="#f4f0f0"/>
<rect x="617.62" y="159.00" width="9.71" height="26.05" fill="#f3dcda"/>
<rect x="627.28" y="159.00" width="9.71" height="26.05" fill="#f5e5e4"/>
<rect x="550.00" y="185.00" width="9.71" height="26.05" fill="#f3dad7"/>
<rect x="559.66" y="185.00" width="9.71" height="26.05" fill="#efc5c1"/>
<rect x="569.32" y="185.00" width="9.71" height="26.05" fill="#f4f4f4"/>
<rect x="578.98" y="185.00" width="9.71" height="26.05" fill="#efc2be"/>
<rect x="588.64" y="185.00" width="9.71" height="26.05" fill="#f3d5d2"/>
<rect x="598.30" y="185.00" width="9.71" height="26.05" fill="#f3d8d5"/>
<rect x="607.96" y="185.00" width="9.71" height="26.05" fill="#f4f0f0"/>
<rect x="617.62" y="185.00" width="9.71" height="26.05" fill="#f5e5e4"/>
<rect x="627.28" y="185.00" width="9.71" height="26.05" fill="#f5ebea"/>
<rect x="550.00" y="211.00" width="9.71" height="26.05" fill="#f4f4f4"/>
<rect x="559.66" y="211.00" width="9.71" height="26.05" fill="#f4f4f4"/>
<rect x="569.32" y="211.00" width="9.71" height="26.05" fill="#ffffff"/>
<rect x="578.98" y="211.00" width="9.71" height="26.05" fill="#f5ebea"/>
<rect x="588.64" y="211.00" width="9.71" height="26.05" fill="#f4f0f0"/>
<rect x="598.30" y="211.00" width="9.71" height="26.05" fill="#f4f4f4"/>
<rect x="607.96" y="211.00" width="9.71" height="26.05" fill="#f4f0f0"/>
<rect x="617.62" y="211.00" width="9.71" height="26.05" fill="#f4f0f0"/>
<rect x="627.28" y="211.00" width="9.71" height="26.05" fill="#9fb2d8"/>
<rect x="550.00" y="237.00" width="9.71" height="26.05" fill="#f4f0f0"/>
<rect x="559.66" y="237.00" width="9.71" height="26.05" fill="#f4f0f0"/>
<rect x="569.32" y="237.00" width="9.71" height="26.05" fill="#f4f4f4"/>
<rect x="578.98" y="237.00" width="9.71" height="26.05" fill="#f3dcda"/>
<rect x="588.64" y="237.00" width="9.71" height="26.05" fill="#f5e5e4"/>
<rect x="598.30" y="237.00" width="9.71" height="26.05" fill="#f5e5e4"/>
<rect x="607.96" y="237.00" width="9.71" height="26.05" fill="#f4f0f0"/>
<rect x="617.62" y="237.00" width="9.71" height="26.05" fill="#f5ebea"/>
<rect x="627.28" y="237.00" width="9.71" height="26.05" fill="#f4f4f4"/>
<rect x="550.00" y="263.00" width="9.71" height="26.05" fill="#f4f0f0"/>
<rect x="559.66" y="263.00" width="9.71" height="26.05" fill="#f4f0f0"/>
<rect x="569.32" y="263.00" width="9.71" height="26.05" fill="#f4f4f4"/>
<rect x="578.98" y="263.00" width="9.71" height="26.05" fill="#f5e5e4"/>
<rect x="588.64" y="263.00" width="9.71" height="26.05" fill="#f4f0f0"/>
<rect x="598.30" y="263.00" width="9.71" height="26.05" fill="#f4f0f0"/>
<rect x="607.96" y="263.00" width="9.71" height="26.05" fill="#f4f0f0"/>
<rect x="617.62" y="263.00" width="9.71" height="26.05" fill="#f4f0f0"/>
<rect x="627.28" y="263.00" width="9.71" height="26.05" fill="#f4f4f4"/>
<line x1="559.66" y1="55.00" x2="559.66" y2="289.00" stroke="#ffffff" stroke-width="0.35" stroke-opacity="0.6"/>
<line x1="569.32" y1="55.00" x2="569.32" y2="289.00" stroke="#ffffff" stroke-width="0.35" stroke-opacity="0.6"/>
<line x1="578.98" y1="55.00" x2="578.98" y2="289.00" stroke="#ffffff" stroke-width="0.35" stroke-opacity="0.6"/>
<line x1="588.64" y1="55.00" x2="588.64" y2="289.00" stroke="#ffffff" stroke-width="0.35" stroke-opacity="0.6"/>
<line x1="598.30" y1="55.00" x2="598.30" y2="289.00" stroke="#ffffff" stroke-width="0.35" stroke-opacity="0.6"/>
<line x1="607.96" y1="55.00" x2="607.96" y2="289.00" stroke="#ffffff" stroke-width="0.35" stroke-opacity="0.6"/>
<line x1="617.62" y1="55.00" x2="617.62" y2="289.00" stroke="#ffffff" stroke-width="0.35" stroke-opacity="0.6"/>
<line x1="627.28" y1="55.00" x2="627.28" y2="289.00" stroke="#ffffff" stroke-width="0.35" stroke-opacity="0.6"/>
<rect x="550.00" y="290.70" width="9.71" height="4.20" fill="#e41a1c"/>
<rect x="559.66" y="290.70" width="9.71" height="4.20" fill="#377eb8"/>
<rect x="569.32" y="290.70" width="9.71" height="4.20" fill="#4daf4a"/>
<rect x="578.98" y="290.70" width="9.71" height="4.20" fill="#984ea3"/>
<rect x="588.64" y="290.70" width="9.71" height="4.20" fill="#f39c12"/>
<rect x="598.30" y="290.70" width="9.71" height="4.20" fill="#f781bf"/>
<rect x="607.96" y="290.70" width="9.71" height="4.20" fill="#bc9dcc"/>
<rect x="617.62" y="290.70" width="9.71" height="4.20" fill="#a65628"/>
<rect x="627.28" y="290.70" width="9.71" height="4.20" fill="#56b4e9"/>
<rect x="551.78" y="49.80" width="6.10" height="3.30" fill="#e41a1c"/>
<rect x="561.44" y="45.90" width="6.10" height="7.20" fill="#377eb8"/>
<rect x="571.10" y="52.50" width="6.10" height="0.60" fill="#4daf4a"/>
<rect x="580.76" y="34.10" width="6.10" height="19.00" fill="#984ea3"/>
<rect x="590.42" y="39.90" width="6.10" height="13.20" fill="#f39c12"/>
<rect x="600.08" y="45.80" width="6.10" height="7.30" fill="#f781bf"/>
<rect x="609.74" y="51.00" width="6.10" height="2.10" fill="#bc9dcc"/>
<rect x="619.40" y="48.80" width="6.10" height="4.30" fill="#a65628"/>
<rect x="629.06" y="51.00" width="6.10" height="2.10" fill="#56b4e9"/>
<line x1="548.10" y1="33.10" x2="548.10" y2="53.10" stroke="#555" stroke-width="0.6"/>
<line x1="546.60" y1="53.10" x2="548.10" y2="53.10" stroke="#555" stroke-width="0.5"/>
<text x="546.10" y="54.92" font-size="5.2" text-anchor="end" fill="#555" color="#555">0</text>
<line x1="546.60" y1="48.10" x2="548.10" y2="48.10" stroke="#555" stroke-width="0.5"/>
<text x="546.10" y="49.92" font-size="5.2" text-anchor="end" fill="#555" color="#555">2e−04</text>
<line x1="546.60" y1="42.60" x2="548.10" y2="42.60" stroke="#555" stroke-width="0.5"/>
<text x="546.10" y="44.42" font-size="5.2" text-anchor="end" fill="#555" color="#555">4e−04</text>
<line x1="546.60" y1="36.40" x2="548.10" y2="36.40" stroke="#555" stroke-width="0.5"/>
<text x="546.10" y="38.22" font-size="5.2" text-anchor="end" fill="#555" color="#555">6e−04</text>
<rect x="638.20" y="60.00" width="1.10" height="16.00" fill="#e41a1c"/>
<rect x="638.20" y="86.00" width="2.30" height="16.00" fill="#377eb8"/>
<rect x="638.20" y="112.00" width="0.60" height="16.00" fill="#4daf4a"/>
<rect x="638.20" y="138.00" width="19.00" height="16.00" fill="#984ea3"/>
<rect x="638.20" y="164.00" width="9.50" height="16.00" fill="#f39c12"/>
<rect x="638.20" y="190.00" width="7.20" height="16.00" fill="#f781bf"/>
<rect x="638.20" y="216.00" width="1.20" height="16.00" fill="#bc9dcc"/>
<rect x="638.20" y="242.00" width="2.80" height="16.00" fill="#a65628"/>
<rect x="638.20" y="268.00" width="2.00" height="16.00" fill="#56b4e9"/>
<text x="424.60" y="71.65" font-size="9.85" text-anchor="end" fill="#222" color="#222">B cells</text>
<text x="424.60" y="97.65" font-size="9.85" text-anchor="end" fill="#222" color="#222">Dendritic cells</text>
<text x="424.60" y="123.65" font-size="9.85" text-anchor="end" fill="#222" color="#222">Endothelial cells</text>
<text x="424.60" y="149.65" font-size="9.85" text-anchor="end" fill="#222" color="#222">Macrophage</text>
<text x="424.60" y="175.65" font-size="9.85" text-anchor="end" fill="#222" color="#222">Microglia</text>
<text x="424.60" y="201.65" font-size="9.85" text-anchor="end" fill="#222" color="#222">Monocytes</text>
<text x="424.60" y="227.65" font-size="9.85" text-anchor="end" fill="#222" color="#222">Neutrophils</text>
<text x="424.60" y="253.65" font-size="9.85" text-anchor="end" fill="#222" color="#222">NK cells</text>
<text x="424.60" y="279.65" font-size="9.85" text-anchor="end" fill="#222" color="#222">T cells</text>
<text x="346.20" y="178.20" font-size="10.8" text-anchor="middle" font-weight="bold" fill="#000" color="#000" transform="rotate(-90 346.20 178.20)">Source (Sender)</text>
<text x="440.51" y="296.30" font-size="10.0" text-anchor="end" fill="#222" color="#222" transform="rotate(-90 440.51 296.30)">B cells</text>
<text x="450.14" y="296.30" font-size="10.0" text-anchor="end" fill="#222" color="#222" transform="rotate(-90 450.14 296.30)">Dendritic cells</text>
<text x="459.77" y="296.30" font-size="10.0" text-anchor="end" fill="#222" color="#222" transform="rotate(-90 459.77 296.30)">Endothelial cells</text>
<text x="469.40" y="296.30" font-size="10.0" text-anchor="end" fill="#222" color="#222" transform="rotate(-90 469.40 296.30)">Macrophage</text>
<text x="479.03" y="296.30" font-size="10.0" text-anchor="end" fill="#222" color="#222" transform="rotate(-90 479.03 296.30)">Microglia</text>
<text x="488.66" y="296.30" font-size="10.0" text-anchor="end" fill="#222" color="#222" transform="rotate(-90 488.66 296.30)">Monocytes</text>
<text x="498.30" y="296.30" font-size="10.0" text-anchor="end" fill="#222" color="#222" transform="rotate(-90 498.30 296.30)">Neutrophils</text>
<text x="507.93" y="296.30" font-size="10.0" text-anchor="end" fill="#222" color="#222" transform="rotate(-90 507.93 296.30)">NK cells</text>
<text x="517.55" y="296.30" font-size="10.0" text-anchor="end" fill="#222" color="#222" transform="rotate(-90 517.55 296.30)">T cells</text>
<text x="558.23" y="296.30" font-size="10.0" text-anchor="end" fill="#222" color="#222" transform="rotate(-90 558.23 296.30)">B cells</text>
<text x="567.89" y="296.30" font-size="10.0" text-anchor="end" fill="#222" color="#222" transform="rotate(-90 567.89 296.30)">Dendritic cells</text>
<text x="577.55" y="296.30" font-size="10.0" text-anchor="end" fill="#222" color="#222" transform="rotate(-90 577.55 296.30)">Endothelial cells</text>
<text x="587.21" y="296.30" font-size="10.0" text-anchor="end" fill="#222" color="#222" transform="rotate(-90 587.21 296.30)">Macrophage</text>
<text x="596.87" y="296.30" font-size="10.0" text-anchor="end" fill="#222" color="#222" transform="rotate(-90 596.87 296.30)">Microglia</text>
<text x="606.53" y="296.30" font-size="10.0" text-anchor="end" fill="#222" color="#222" transform="rotate(-90 606.53 296.30)">Monocytes</text>
<text x="616.19" y="296.30" font-size="10.0" text-anchor="end" fill="#222" color="#222" transform="rotate(-90 616.19 296.30)">Neutrophils</text>
<text x="625.85" y="296.30" font-size="10.0" text-anchor="end" fill="#222" color="#222" transform="rotate(-90 625.85 296.30)">NK cells</text>
<text x="635.51" y="296.30" font-size="10.0" text-anchor="end" fill="#222" color="#222" transform="rotate(-90 635.51 296.30)">T cells</text>
<line x1="520.10" y1="289.20" x2="540.50" y2="289.20" stroke="#666" stroke-width="0.6"/>
<line x1="520.50" y1="289.20" x2="520.50" y2="291.00" stroke="#666" stroke-width="0.5"/>
<text x="521.8" y="292.3" font-size="4.2" fill="#444" text-anchor="end" transform="rotate(-90 521.8 292.3)">0</text>
<line x1="524.95" y1="289.20" x2="524.95" y2="291.00" stroke="#666" stroke-width="0.5"/>
<text x="526.2" y="292.3" font-size="4.2" fill="#444" text-anchor="end" transform="rotate(-90 526.2 292.3)">20</text>
<line x1="529.40" y1="289.20" x2="529.40" y2="291.00" stroke="#666" stroke-width="0.5"/>
<text x="530.7" y="292.3" font-size="4.2" fill="#444" text-anchor="end" transform="rotate(-90 530.7 292.3)">40</text>
<line x1="533.85" y1="289.20" x2="533.85" y2="291.00" stroke="#666" stroke-width="0.5"/>
<text x="535.1" y="292.3" font-size="4.2" fill="#444" text-anchor="end" transform="rotate(-90 535.1 292.3)">60</text>
<line x1="538.30" y1="289.20" x2="538.30" y2="291.00" stroke="#666" stroke-width="0.5"/>
<text x="539.6" y="292.3" font-size="4.2" fill="#444" text-anchor="end" transform="rotate(-90 539.6 292.3)">80</text>
<line x1="638.20" y1="289.20" x2="658.50" y2="289.20" stroke="#666" stroke-width="0.6"/>
<line x1="638.20" y1="289.20" x2="638.20" y2="291.00" stroke="#666" stroke-width="0.5"/>
<text x="639.6" y="292.5" font-size="4.6" fill="#444" text-anchor="end" transform="rotate(-90 639.6 292.5)">0</text>
<line x1="648.40" y1="289.20" x2="648.40" y2="291.00" stroke="#666" stroke-width="0.5"/>
<text x="649.8" y="292.5" font-size="4.6" fill="#444" text-anchor="end" transform="rotate(-90 649.8 292.5)">5e−04</text>
<line x1="658.50" y1="289.20" x2="658.50" y2="291.00" stroke="#666" stroke-width="0.5"/>
<text x="659.9" y="292.5" font-size="4.6" fill="#444" text-anchor="end" transform="rotate(-90 659.9 292.5)">0.001</text>
<defs><linearGradient id="rv" x1="0" y1="0" x2="0" y2="1"><stop offset="0" stop-color="#c0182f"/><stop offset="0.2" stop-color="#c42a38"/><stop offset="0.5" stop-color="#f8f5f5"/><stop offset="0.8" stop-color="#7a9fcf"/><stop offset="1" stop-color="#2166ac"/></linearGradient></defs>
<rect x="669.90" y="152.20" width="4.20" height="40.00" fill="url(#rv)"/>
<text x="675.30" y="155.77" font-size="6.2" text-anchor="start" fill="#333" color="#333">20</text>
<text x="675.30" y="165.47" font-size="6.2" text-anchor="start" fill="#333" color="#333">10</text>
<text x="675.30" y="175.07" font-size="6.2" text-anchor="start" fill="#333" color="#333">0</text>
<text x="675.30" y="184.07" font-size="6.2" text-anchor="start" fill="#333" color="#333">−10</text>
<text x="675.30" y="193.17" font-size="6.2" text-anchor="start" fill="#333" color="#333">−20</text>
<text x="666.50" y="172.20" font-size="6.0" text-anchor="middle" fill="#333" color="#333" transform="rotate(-90 666.50 172.20)">Relative values</text>
<text x="4.00" y="377.80" font-size="24" text-anchor="start" font-weight="bold" fill="#000" color="#000">d</text>
<circle cx="138.85" cy="457.50" r="1.60" fill="#f564e3"/>
<circle cx="107.33" cy="487.01" r="1.60" fill="#f8766d"/>
<circle cx="121.55" cy="408.03" r="1.60" fill="#00bfc4"/>
<circle cx="117.28" cy="425.04" r="1.60" fill="#00bfc4"/>
<circle cx="105.06" cy="393.79" r="1.60" fill="#00bfc4"/>
<circle cx="111.17" cy="393.83" r="1.60" fill="#00bfc4"/>
<circle cx="105.49" cy="473.37" r="1.60" fill="#f8766d"/>
<circle cx="99.52" cy="475.91" r="1.60" fill="#f8766d"/>
<circle cx="115.34" cy="420.69" r="1.60" fill="#00bfc4"/>
<circle cx="107.09" cy="494.76" r="1.60" fill="#f8766d"/>
<circle cx="90.99" cy="508.28" r="1.60" fill="#00ba38"/>
<circle cx="90.99" cy="515.28" r="1.60" fill="#00ba38"/>
<circle cx="112.23" cy="388.78" r="1.60" fill="#00bfc4"/>
<circle cx="113.77" cy="480.79" r="1.60" fill="#f8766d"/>
<circle cx="101.23" cy="486.56" r="1.60" fill="#f8766d"/>
<circle cx="64.81" cy="422.12" r="1.60" fill="#619cff"/>
<circle cx="87.52" cy="481.24" r="1.60" fill="#f8766d"/>
<circle cx="92.32" cy="477.64" r="1.60" fill="#f8766d"/>
<circle cx="106.07" cy="436.99" r="1.60" fill="#00bfc4"/>
<circle cx="118.63" cy="404.72" r="1.60" fill="#00bfc4"/>
<circle cx="108.55" cy="478.75" r="1.60" fill="#f8766d"/>
<circle cx="100.35" cy="421.66" r="1.60" fill="#00bfc4"/>
<circle cx="111.55" cy="413.79" r="1.60" fill="#00bfc4"/>
<circle cx="132.70" cy="463.83" r="1.60" fill="#f564e3"/>
<circle cx="98.85" cy="459.82" r="1.60" fill="#00bfc4"/>
<circle cx="91.41" cy="400.89" r="1.60" fill="#00bfc4"/>
<circle cx="107.96" cy="432.11" r="1.60" fill="#00bfc4"/>
<circle cx="99.90" cy="407.14" r="1.60" fill="#00bfc4"/>
<circle cx="60.61" cy="402.14" r="1.60" fill="#619cff"/>
<circle cx="116.64" cy="439.52" r="1.60" fill="#00bfc4"/>
<circle cx="91.34" cy="422.03" r="1.60" fill="#00bfc4"/>
<circle cx="68.41" cy="469.92" r="1.60" fill="#619cff"/>
<circle cx="106.78" cy="385.95" r="1.60" fill="#00bfc4"/>
<circle cx="148.75" cy="386.27" r="1.60" fill="#b79f00"/>
<circle cx="98.02" cy="485.39" r="1.60" fill="#f8766d"/>
<circle cx="90.55" cy="404.58" r="1.60" fill="#00bfc4"/>
<circle cx="103.22" cy="409.18" r="1.60" fill="#00bfc4"/>
<circle cx="96.29" cy="447.34" r="1.60" fill="#00bfc4"/>
<circle cx="103.59" cy="403.43" r="1.60" fill="#00bfc4"/>
<circle cx="66.46" cy="402.20" r="1.60" fill="#619cff"/>
<circle cx="100.60" cy="467.03" r="1.60" fill="#f8766d"/>
<circle cx="114.91" cy="406.91" r="1.60" fill="#00bfc4"/>
<circle cx="117.92" cy="414.19" r="1.60" fill="#00bfc4"/>
<circle cx="133.58" cy="457.97" r="1.60" fill="#f564e3"/>
<circle cx="61.02" cy="399.79" r="1.60" fill="#619cff"/>
<circle cx="135.87" cy="466.79" r="1.60" fill="#f564e3"/>
<circle cx="102.28" cy="419.94" r="1.60" fill="#00bfc4"/>
<circle cx="88.71" cy="513.49" r="1.60" fill="#00ba38"/>
<circle cx="112.36" cy="469.58" r="1.60" fill="#f8766d"/>
<circle cx="93.94" cy="395.39" r="1.60" fill="#00bfc4"/>
<circle cx="90.59" cy="505.98" r="1.60" fill="#00ba38"/>
<circle cx="90.98" cy="503.19" r="1.60" fill="#00ba38"/>
<circle cx="98.36" cy="509.82" r="1.60" fill="#00ba38"/>
<circle cx="114.63" cy="458.29" r="1.60" fill="#00bfc4"/>
<circle cx="111.70" cy="463.04" r="1.60" fill="#f8766d"/>
<circle cx="135.35" cy="464.13" r="1.60" fill="#f564e3"/>
<circle cx="95.67" cy="511.21" r="1.60" fill="#00ba38"/>
<circle cx="121.08" cy="468.89" r="1.60" fill="#f8766d"/>
<circle cx="102.67" cy="406.18" r="1.60" fill="#00bfc4"/>
<circle cx="104.69" cy="484.40" r="1.60" fill="#f8766d"/>
<circle cx="112.59" cy="445.31" r="1.60" fill="#00bfc4"/>
<circle cx="108.48" cy="440.93" r="1.60" fill="#00bfc4"/>
<circle cx="90.15" cy="434.76" r="1.60" fill="#00bfc4"/>
<circle cx="92.56" cy="418.36" r="1.60" fill="#00bfc4"/>
<circle cx="120.64" cy="474.54" r="1.60" fill="#f8766d"/>
<circle cx="133.33" cy="468.69" r="1.60" fill="#f564e3"/>
<circle cx="102.62" cy="399.32" r="1.60" fill="#00bfc4"/>
<circle cx="106.12" cy="463.27" r="1.60" fill="#00bfc4"/>
<circle cx="93.52" cy="502.48" r="1.60" fill="#00ba38"/>
<circle cx="95.34" cy="431.07" r="1.60" fill="#00bfc4"/>
<circle cx="148.97" cy="394.32" r="1.60" fill="#b79f00"/>
<circle cx="100.50" cy="462.81" r="1.60" fill="#00bfc4"/>
<circle cx="135.91" cy="458.07" r="1.60" fill="#f564e3"/>
<circle cx="90.66" cy="409.17" r="1.60" fill="#00bfc4"/>
<circle cx="105.69" cy="413.93" r="1.60" fill="#00bfc4"/>
<circle cx="108.38" cy="400.95" r="1.60" fill="#00bfc4"/>
<circle cx="104.53" cy="492.38" r="1.60" fill="#f8766d"/>
<circle cx="134.32" cy="461.54" r="1.60" fill="#f564e3"/>
<circle cx="72.89" cy="441.42" r="1.60" fill="#619cff"/>
<circle cx="93.72" cy="441.93" r="1.60" fill="#00bfc4"/>
<circle cx="139.68" cy="466.87" r="1.60" fill="#f564e3"/>
<circle cx="58.04" cy="398.50" r="1.60" fill="#619cff"/>
<circle cx="92.82" cy="398.45" r="1.60" fill="#00bfc4"/>
<circle cx="130.81" cy="466.08" r="1.60" fill="#f564e3"/>
<circle cx="108.33" cy="448.75" r="1.60" fill="#00bfc4"/>
<circle cx="113.29" cy="434.90" r="1.60" fill="#00bfc4"/>
<circle cx="76.34" cy="436.82" r="1.60" fill="#619cff"/>
<circle cx="98.80" cy="521.65" r="1.60" fill="#00ba38"/>
<circle cx="68.20" cy="464.59" r="1.60" fill="#619cff"/>
<circle cx="98.75" cy="430.25" r="1.60" fill="#00bfc4"/>
<circle cx="94.94" cy="399.48" r="1.60" fill="#00bfc4"/>
<circle cx="133.58" cy="466.27" r="1.60" fill="#f564e3"/>
<circle cx="113.99" cy="472.37" r="1.60" fill="#f8766d"/>
<circle cx="65.50" cy="412.28" r="1.60" fill="#619cff"/>
<circle cx="101.80" cy="411.77" r="1.60" fill="#00bfc4"/>
<circle cx="110.66" cy="447.81" r="1.60" fill="#00bfc4"/>
<circle cx="66.05" cy="408.42" r="1.60" fill="#619cff"/>
<circle cx="106.70" cy="403.45" r="1.60" fill="#00bfc4"/>
<circle cx="108.78" cy="412.49" r="1.60" fill="#00bfc4"/>
<circle cx="104.46" cy="517.86" r="1.60" fill="#00ba38"/>
<circle cx="109.01" cy="420.17" r="1.60" fill="#00bfc4"/>
<circle cx="98.15" cy="504.32" r="1.60" fill="#00ba38"/>
<circle cx="63.45" cy="399.38" r="1.60" fill="#619cff"/>
<circle cx="113.40" cy="426.31" r="1.60" fill="#00bfc4"/>
<circle cx="95.87" cy="420.05" r="1.60" fill="#00bfc4"/>
<circle cx="116.12" cy="451.00" r="1.60" fill="#00bfc4"/>
<circle cx="109.59" cy="422.84" r="1.60" fill="#00bfc4"/>
<circle cx="88.88" cy="414.11" r="1.60" fill="#00bfc4"/>
<circle cx="116.07" cy="410.66" r="1.60" fill="#00bfc4"/>
<circle cx="106.30" cy="508.84" r="1.60" fill="#00ba38"/>
<circle cx="146.42" cy="394.26" r="1.60" fill="#b79f00"/>
<circle cx="89.37" cy="500.03" r="1.60" fill="#00ba38"/>
<circle cx="142.60" cy="459.78" r="1.60" fill="#f564e3"/>
<circle cx="137.51" cy="465.17" r="1.60" fill="#f564e3"/>
<circle cx="111.02" cy="425.64" r="1.60" fill="#00bfc4"/>
<circle cx="115.58" cy="401.75" r="1.60" fill="#00bfc4"/>
<circle cx="86.62" cy="477.94" r="1.60" fill="#f8766d"/>
<circle cx="89.79" cy="477.33" r="1.60" fill="#f8766d"/>
<circle cx="94.34" cy="515.18" r="1.60" fill="#00ba38"/>
<circle cx="120.97" cy="422.25" r="1.60" fill="#00bfc4"/>
<circle cx="100.70" cy="511.04" r="1.60" fill="#00ba38"/>
<circle cx="114.86" cy="415.59" r="1.60" fill="#00bfc4"/>
<circle cx="115.96" cy="500.39" r="1.60" fill="#00ba38"/>
<circle cx="95.15" cy="520.41" r="1.60" fill="#00ba38"/>
<circle cx="91.81" cy="414.69" r="1.60" fill="#00bfc4"/>
<circle cx="130.52" cy="457.92" r="1.60" fill="#f564e3"/>
<circle cx="120.52" cy="416.42" r="1.60" fill="#00bfc4"/>
<circle cx="92.73" cy="512.02" r="1.60" fill="#00ba38"/>
<circle cx="113.47" cy="477.11" r="1.60" fill="#f8766d"/>
<circle cx="89.38" cy="511.19" r="1.60" fill="#00ba38"/>
<circle cx="111.38" cy="431.61" r="1.60" fill="#00bfc4"/>
<circle cx="100.44" cy="523.70" r="1.60" fill="#00ba38"/>
<circle cx="92.73" cy="429.90" r="1.60" fill="#00bfc4"/>
<circle cx="141.18" cy="456.23" r="1.60" fill="#f564e3"/>
<circle cx="108.31" cy="503.92" r="1.60" fill="#00ba38"/>
<circle cx="94.02" cy="484.93" r="1.60" fill="#f8766d"/>
<circle cx="98.33" cy="403.49" r="1.60" fill="#00bfc4"/>
<circle cx="108.55" cy="409.01" r="1.60" fill="#00bfc4"/>
<circle cx="111.31" cy="437.79" r="1.60" fill="#00bfc4"/>
<circle cx="114.49" cy="398.27" r="1.60" fill="#00bfc4"/>
<circle cx="62.27" cy="404.04" r="1.60" fill="#619cff"/>
<circle cx="138.56" cy="460.90" r="1.60" fill="#f564e3"/>
<circle cx="109.95" cy="391.73" r="1.60" fill="#00bfc4"/>
<circle cx="118.33" cy="444.81" r="1.60" fill="#00bfc4"/>
<circle cx="98.66" cy="488.20" r="1.60" fill="#f8766d"/>
<circle cx="105.64" cy="502.54" r="1.60" fill="#00ba38"/>
<circle cx="101.25" cy="517.93" r="1.60" fill="#00ba38"/>
<circle cx="68.14" cy="473.12" r="1.60" fill="#619cff"/>
<circle cx="144.06" cy="389.64" r="1.60" fill="#b79f00"/>
<circle cx="127.02" cy="451.62" r="1.60" fill="#f564e3"/>
<circle cx="100.44" cy="505.00" r="1.60" fill="#00ba38"/>
<circle cx="105.12" cy="460.39" r="1.60" fill="#00bfc4"/>
<circle cx="115.44" cy="391.43" r="1.60" fill="#00bfc4"/>
<circle cx="125.27" cy="453.69" r="1.60" fill="#f564e3"/>
<circle cx="100.80" cy="508.62" r="1.60" fill="#00ba38"/>
<circle cx="144.88" cy="462.20" r="1.60" fill="#f564e3"/>
<circle cx="117.28" cy="465.21" r="1.60" fill="#f8766d"/>
<circle cx="97.11" cy="514.85" r="1.60" fill="#00ba38"/>
<circle cx="102.95" cy="505.50" r="1.60" fill="#00ba38"/>
<circle cx="104.90" cy="448.45" r="1.60" fill="#00bfc4"/>
<circle cx="123.77" cy="475.19" r="1.60" fill="#f8766d"/>
<circle cx="101.93" cy="493.85" r="1.60" fill="#f8766d"/>
<circle cx="66.71" cy="467.43" r="1.60" fill="#619cff"/>
<circle cx="102.63" cy="521.95" r="1.60" fill="#00ba38"/>
<circle cx="94.39" cy="411.72" r="1.60" fill="#00bfc4"/>
<circle cx="93.41" cy="523.61" r="1.60" fill="#00ba38"/>
<circle cx="112.38" cy="504.87" r="1.60" fill="#00ba38"/>
<circle cx="92.66" cy="519.51" r="1.60" fill="#00ba38"/>
<circle cx="110.31" cy="494.34" r="1.60" fill="#f8766d"/>
<circle cx="148.73" cy="383.75" r="1.60" fill="#b79f00"/>
<circle cx="128.61" cy="472.13" r="1.60" fill="#f8766d"/>
<circle cx="74.32" cy="460.57" r="1.60" fill="#619cff"/>
<circle cx="65.47" cy="405.76" r="1.60" fill="#619cff"/>
<circle cx="100.33" cy="484.36" r="1.60" fill="#f8766d"/>
<circle cx="110.96" cy="472.64" r="1.60" fill="#f8766d"/>
<circle cx="109.51" cy="481.89" r="1.60" fill="#f8766d"/>
<circle cx="112.86" cy="421.19" r="1.60" fill="#00bfc4"/>
<circle cx="105.92" cy="430.16" r="1.60" fill="#00bfc4"/>
<circle cx="117.72" cy="472.90" r="1.60" fill="#f8766d"/>
<circle cx="63.22" cy="410.16" r="1.60" fill="#619cff"/>
<circle cx="93.56" cy="472.69" r="1.60" fill="#f8766d"/>
<circle cx="72.16" cy="476.32" r="1.60" fill="#619cff"/>
<circle cx="109.05" cy="403.50" r="1.60" fill="#00bfc4"/>
<circle cx="107.92" cy="417.77" r="1.60" fill="#00bfc4"/>
<circle cx="114.94" cy="505.45" r="1.60" fill="#00ba38"/>
<circle cx="89.92" cy="431.96" r="1.60" fill="#00bfc4"/>
<circle cx="142.14" cy="465.47" r="1.60" fill="#f564e3"/>
<circle cx="119.02" cy="418.47" r="1.60" fill="#00bfc4"/>
<circle cx="60.62" cy="410.15" r="1.60" fill="#619cff"/>
<circle cx="105.40" cy="514.54" r="1.60" fill="#00ba38"/>
<circle cx="65.07" cy="419.55" r="1.60" fill="#619cff"/>
<circle cx="110.57" cy="417.67" r="1.60" fill="#00bfc4"/>
<circle cx="110.73" cy="407.49" r="1.60" fill="#00bfc4"/>
<circle cx="87.43" cy="411.93" r="1.60" fill="#00bfc4"/>
<circle cx="147.82" cy="391.33" r="1.60" fill="#b79f00"/>
<circle cx="78.49" cy="441.50" r="1.60" fill="#619cff"/>
<circle cx="62.97" cy="413.03" r="1.60" fill="#619cff"/>
<circle cx="108.76" cy="438.30" r="1.60" fill="#00bfc4"/>
<circle cx="109.09" cy="475.00" r="1.60" fill="#f8766d"/>
<circle cx="118.09" cy="399.02" r="1.60" fill="#00bfc4"/>
<circle cx="74.48" cy="467.11" r="1.60" fill="#619cff"/>
<circle cx="112.44" cy="404.23" r="1.60" fill="#00bfc4"/>
<circle cx="130.13" cy="455.32" r="1.60" fill="#f564e3"/>
<circle cx="94.50" cy="436.42" r="1.60" fill="#00bfc4"/>
<circle cx="116.71" cy="462.97" r="1.60" fill="#f8766d"/>
<circle cx="95.34" cy="476.52" r="1.60" fill="#f8766d"/>
<circle cx="115.50" cy="423.54" r="1.60" fill="#00bfc4"/>
<circle cx="96.96" cy="523.13" r="1.60" fill="#00ba38"/>
<circle cx="90.82" cy="411.76" r="1.60" fill="#00bfc4"/>
<circle cx="108.74" cy="406.11" r="1.60" fill="#00bfc4"/>
<circle cx="89.14" cy="417.10" r="1.60" fill="#00bfc4"/>
<circle cx="108.37" cy="444.37" r="1.60" fill="#00bfc4"/>
<circle cx="103.12" cy="501.99" r="1.60" fill="#00ba38"/>
<circle cx="121.04" cy="412.37" r="1.60" fill="#00bfc4"/>
<circle cx="103.06" cy="416.99" r="1.60" fill="#00bfc4"/>
<circle cx="96.84" cy="434.47" r="1.60" fill="#00bfc4"/>
<circle cx="112.00" cy="409.77" r="1.60" fill="#00bfc4"/>
<circle cx="93.56" cy="445.23" r="1.60" fill="#00bfc4"/>
<circle cx="68.77" cy="434.85" r="1.60" fill="#619cff"/>
<circle cx="102.50" cy="483.59" r="1.60" fill="#f8766d"/>
<circle cx="107.92" cy="395.59" r="1.60" fill="#00bfc4"/>
<circle cx="94.15" cy="505.43" r="1.60" fill="#00ba38"/>
<circle cx="97.50" cy="472.21" r="1.60" fill="#f8766d"/>
<circle cx="91.63" cy="439.42" r="1.60" fill="#00bfc4"/>
<circle cx="88.49" cy="421.68" r="1.60" fill="#00bfc4"/>
<circle cx="103.52" cy="488.94" r="1.60" fill="#f8766d"/>
<circle cx="95.71" cy="409.22" r="1.60" fill="#00bfc4"/>
<circle cx="105.06" cy="419.71" r="1.60" fill="#00bfc4"/>
<circle cx="105.26" cy="469.91" r="1.60" fill="#f8766d"/>
<circle cx="150.54" cy="392.17" r="1.60" fill="#b79f00"/>
<circle cx="118.64" cy="476.78" r="1.60" fill="#f8766d"/>
<circle cx="107.51" cy="491.28" r="1.60" fill="#f8766d"/>
<circle cx="97.26" cy="443.49" r="1.60" fill="#00bfc4"/>
<circle cx="148.50" cy="388.95" r="1.60" fill="#b79f00"/>
<circle cx="113.60" cy="449.33" r="1.60" fill="#00bfc4"/>
<circle cx="101.97" cy="459.82" r="1.60" fill="#00bfc4"/>
<circle cx="100.70" cy="478.99" r="1.60" fill="#f8766d"/>
<circle cx="109.97" cy="507.07" r="1.60" fill="#00ba38"/>
<circle cx="99.02" cy="417.31" r="1.60" fill="#00bfc4"/>
<circle cx="102.93" cy="475.70" r="1.60" fill="#f8766d"/>
<circle cx="109.74" cy="429.39" r="1.60" fill="#00bfc4"/>
<circle cx="98.17" cy="482.30" r="1.60" fill="#f8766d"/>
<circle cx="96.16" cy="493.51" r="1.60" fill="#f8766d"/>
<circle cx="103.25" cy="391.34" r="1.60" fill="#00bfc4"/>
<circle cx="65.09" cy="414.59" r="1.60" fill="#619cff"/>
<circle cx="150.64" cy="387.71" r="1.60" fill="#b79f00"/>
<circle cx="74.04" cy="474.48" r="1.60" fill="#619cff"/>
<circle cx="80.80" cy="449.74" r="1.60" fill="#619cff"/>
<circle cx="124.41" cy="469.30" r="1.60" fill="#f8766d"/>
<circle cx="131.03" cy="470.17" r="1.60" fill="#f564e3"/>
<circle cx="104.25" cy="454.03" r="1.60" fill="#00bfc4"/>
<circle cx="112.46" cy="461.43" r="1.60" fill="#00bfc4"/>
<circle cx="140.62" cy="462.37" r="1.60" fill="#f564e3"/>
<circle cx="111.96" cy="500.54" r="1.60" fill="#00ba38"/>
<circle cx="98.63" cy="517.06" r="1.60" fill="#00ba38"/>
<circle cx="109.78" cy="434.48" r="1.60" fill="#00bfc4"/>
<circle cx="101.25" cy="470.63" r="1.60" fill="#f8766d"/>
<circle cx="108.75" cy="398.18" r="1.60" fill="#00bfc4"/>
<circle cx="76.37" cy="455.69" r="1.60" fill="#619cff"/>
<circle cx="98.93" cy="469.77" r="1.60" fill="#f8766d"/>
<circle cx="94.22" cy="480.71" r="1.60" fill="#f8766d"/>
<circle cx="99.31" cy="490.90" r="1.60" fill="#f8766d"/>
<circle cx="114.78" cy="440.87" r="1.60" fill="#00bfc4"/>
<circle cx="98.94" cy="494.40" r="1.60" fill="#f8766d"/>
<circle cx="122.91" cy="465.32" r="1.60" fill="#f8766d"/>
<circle cx="65.86" cy="417.28" r="1.60" fill="#619cff"/>
<circle cx="107.70" cy="466.02" r="1.60" fill="#f8766d"/>
<circle cx="91.38" cy="474.85" r="1.60" fill="#f8766d"/>
<circle cx="97.16" cy="398.68" r="1.60" fill="#00bfc4"/>
<circle cx="101.66" cy="415.02" r="1.60" fill="#00bfc4"/>
<circle cx="113.72" cy="498.30" r="1.60" fill="#00ba38"/>
<circle cx="99.63" cy="433.13" r="1.60" fill="#00bfc4"/>
<circle cx="113.50" cy="400.64" r="1.60" fill="#00bfc4"/>
<circle cx="132.99" cy="454.11" r="1.60" fill="#f564e3"/>
<circle cx="151.63" cy="394.50" r="1.60" fill="#b79f00"/>
<circle cx="109.53" cy="501.45" r="1.60" fill="#00ba38"/>
<circle cx="113.83" cy="417.80" r="1.60" fill="#00bfc4"/>
<circle cx="94.42" cy="508.46" r="1.60" fill="#00ba38"/>
<circle cx="112.19" cy="474.83" r="1.60" fill="#f8766d"/>
<circle cx="120.83" cy="463.25" r="1.60" fill="#f8766d"/>
<circle cx="115.38" cy="467.57" r="1.60" fill="#f8766d"/>
<circle cx="101.04" cy="390.46" r="1.60" fill="#00bfc4"/>
<circle cx="105.42" cy="397.87" r="1.60" fill="#00bfc4"/>
<circle cx="106.41" cy="454.85" r="1.60" fill="#00bfc4"/>
<circle cx="102.99" cy="467.00" r="1.60" fill="#f8766d"/>
<circle cx="98.63" cy="512.81" r="1.60" fill="#00ba38"/>
<circle cx="99.54" cy="441.53" r="1.60" fill="#00bfc4"/>
<circle cx="105.31" cy="433.60" r="1.60" fill="#00bfc4"/>
<circle cx="99.81" cy="502.29" r="1.60" fill="#00ba38"/>
<circle cx="97.94" cy="506.83" r="1.60" fill="#00ba38"/>
<circle cx="89.76" cy="480.15" r="1.60" fill="#f8766d"/>
<circle cx="118.68" cy="438.08" r="1.60" fill="#00bfc4"/>
<circle cx="104.70" cy="512.04" r="1.60" fill="#00ba38"/>
<circle cx="145.18" cy="391.98" r="1.60" fill="#b79f00"/>
<circle cx="113.28" cy="508.31" r="1.60" fill="#00ba38"/>
<circle cx="100.83" cy="453.30" r="1.60" fill="#00bfc4"/>
<circle cx="93.74" cy="404.90" r="1.60" fill="#00bfc4"/>
<circle cx="101.23" cy="395.01" r="1.60" fill="#00bfc4"/>
<circle cx="106.26" cy="505.80" r="1.60" fill="#00ba38"/>
<circle cx="93.97" cy="433.42" r="1.60" fill="#00bfc4"/>
<circle cx="57.68" cy="403.87" r="1.60" fill="#619cff"/>
<circle cx="89.79" cy="517.45" r="1.60" fill="#00ba38"/>
<circle cx="102.01" cy="388.25" r="1.60" fill="#00bfc4"/>
<circle cx="115.18" cy="404.14" r="1.60" fill="#00bfc4"/>
<circle cx="131.50" cy="460.76" r="1.60" fill="#f564e3"/>
<circle cx="110.71" cy="466.50" r="1.60" fill="#f8766d"/>
<circle cx="109.53" cy="462.21" r="1.60" fill="#00bfc4"/>
<circle cx="104.99" cy="405.70" r="1.60" fill="#00bfc4"/>
<circle cx="64.61" cy="403.58" r="1.60" fill="#619cff"/>
<circle cx="145.39" cy="384.55" r="1.60" fill="#b79f00"/>
<circle cx="111.27" cy="492.16" r="1.60" fill="#f8766d"/>
<circle cx="97.66" cy="395.01" r="1.60" fill="#00bfc4"/>
<circle cx="112.60" cy="489.37" r="1.60" fill="#f8766d"/>
<circle cx="96.41" cy="458.73" r="1.60" fill="#00bfc4"/>
<circle cx="104.46" cy="478.33" r="1.60" fill="#f8766d"/>
<circle cx="97.64" cy="406.40" r="1.60" fill="#00bfc4"/>
<circle cx="62.69" cy="407.33" r="1.60" fill="#619cff"/>
<circle cx="109.31" cy="509.56" r="1.60" fill="#00ba38"/>
<circle cx="107.08" cy="511.14" r="1.60" fill="#00ba38"/>
<circle cx="103.97" cy="509.49" r="1.60" fill="#00ba38"/>
<circle cx="119.16" cy="426.65" r="1.60" fill="#00bfc4"/>
<circle cx="116.32" cy="502.98" r="1.60" fill="#00ba38"/>
<circle cx="106.97" cy="481.39" r="1.60" fill="#f8766d"/>
<circle cx="91.14" cy="521.66" r="1.60" fill="#00ba38"/>
<circle cx="113.36" cy="466.18" r="1.60" fill="#f8766d"/>
<circle cx="111.81" cy="398.29" r="1.60" fill="#00bfc4"/>
<circle cx="122.22" cy="419.32" r="1.60" fill="#00bfc4"/>
<circle cx="95.11" cy="439.83" r="1.60" fill="#00bfc4"/>
<circle cx="115.90" cy="448.33" r="1.60" fill="#00bfc4"/>
<circle cx="97.43" cy="437.63" r="1.60" fill="#00bfc4"/>
<circle cx="98.12" cy="392.08" r="1.60" fill="#00bfc4"/>
<circle cx="119.88" cy="466.19" r="1.60" fill="#f8766d"/>
<circle cx="78.73" cy="446.16" r="1.60" fill="#619cff"/>
<circle cx="117.58" cy="434.81" r="1.60" fill="#00bfc4"/>
<circle cx="107.66" cy="460.61" r="1.60" fill="#00bfc4"/>
<circle cx="98.04" cy="422.59" r="1.60" fill="#00bfc4"/>
<circle cx="88.76" cy="475.11" r="1.60" fill="#f8766d"/>
<circle cx="95.90" cy="501.71" r="1.60" fill="#00ba38"/>
<circle cx="145.30" cy="387.04" r="1.60" fill="#b79f00"/>
<circle cx="100.80" cy="515.15" r="1.60" fill="#00ba38"/>
<circle cx="135.79" cy="454.30" r="1.60" fill="#f564e3"/>
<circle cx="102.75" cy="513.72" r="1.60" fill="#00ba38"/>
<circle cx="92.71" cy="517.00" r="1.60" fill="#00ba38"/>
<circle cx="125.93" cy="466.87" r="1.60" fill="#f8766d"/>
<circle cx="116.39" cy="475.07" r="1.60" fill="#f8766d"/>
<circle cx="112.62" cy="482.94" r="1.60" fill="#f8766d"/>
<circle cx="100.26" cy="436.06" r="1.60" fill="#00bfc4"/>
<circle cx="111.66" cy="510.09" r="1.60" fill="#00ba38"/>
<circle cx="108.11" cy="469.64" r="1.60" fill="#f8766d"/>
<circle cx="123.18" cy="471.82" r="1.60" fill="#f8766d"/>
<circle cx="106.47" cy="388.64" r="1.60" fill="#00bfc4"/>
<circle cx="118.09" cy="449.48" r="1.60" fill="#00bfc4"/>
<circle cx="114.95" cy="395.64" r="1.60" fill="#00bfc4"/>
<circle cx="58.87" cy="406.34" r="1.60" fill="#619cff"/>
<circle cx="97.41" cy="413.21" r="1.60" fill="#00bfc4"/>
<circle cx="119.52" cy="410.50" r="1.60" fill="#00bfc4"/>
<circle cx="152.06" cy="390.23" r="1.60" fill="#b79f00"/>
<circle cx="186.38" cy="401.20" r="1.60" fill="#619cff"/>
<circle cx="239.62" cy="479.49" r="1.60" fill="#f8766d"/>
<circle cx="191.42" cy="468.14" r="1.60" fill="#619cff"/>
<circle cx="227.67" cy="426.17" r="1.60" fill="#00bfc4"/>
<circle cx="221.96" cy="495.31" r="1.60" fill="#f8766d"/>
<circle cx="260.10" cy="451.35" r="1.60" fill="#f564e3"/>
<circle cx="217.10" cy="506.34" r="1.60" fill="#00ba38"/>
<circle cx="224.45" cy="504.98" r="1.60" fill="#00ba38"/>
<circle cx="233.43" cy="502.52" r="1.60" fill="#00ba38"/>
<circle cx="236.01" cy="409.33" r="1.60" fill="#00bfc4"/>
<circle cx="263.87" cy="465.61" r="1.60" fill="#f564e3"/>
<circle cx="216.34" cy="420.00" r="1.60" fill="#00bfc4"/>
<circle cx="192.76" cy="456.13" r="1.60" fill="#619cff"/>
<circle cx="218.46" cy="426.46" r="1.60" fill="#00bfc4"/>
<circle cx="224.62" cy="486.61" r="1.60" fill="#f8766d"/>
<circle cx="224.15" cy="489.78" r="1.60" fill="#f8766d"/>
<circle cx="196.87" cy="474.37" r="1.60" fill="#619cff"/>
<circle cx="230.62" cy="457.91" r="1.60" fill="#00bfc4"/>
<circle cx="203.35" cy="438.64" r="1.60" fill="#619cff"/>
<circle cx="188.96" cy="424.76" r="1.60" fill="#619cff"/>
<circle cx="225.73" cy="448.87" r="1.60" fill="#00bfc4"/>
<circle cx="198.98" cy="472.49" r="1.60" fill="#619cff"/>
<circle cx="224.17" cy="400.33" r="1.60" fill="#00bfc4"/>
<circle cx="237.50" cy="425.68" r="1.60" fill="#00bfc4"/>
<circle cx="218.53" cy="472.21" r="1.60" fill="#f8766d"/>
<circle cx="266.17" cy="455.60" r="1.60" fill="#f564e3"/>
<circle cx="237.12" cy="451.45" r="1.60" fill="#00bfc4"/>
<circle cx="225.30" cy="470.85" r="1.60" fill="#f8766d"/>
<circle cx="191.34" cy="438.88" r="1.60" fill="#619cff"/>
<circle cx="227.25" cy="468.84" r="1.60" fill="#f8766d"/>
<circle cx="198.37" cy="456.34" r="1.60" fill="#619cff"/>
<circle cx="222.34" cy="470.91" r="1.60" fill="#f8766d"/>
<circle cx="232.73" cy="456.10" r="1.60" fill="#00bfc4"/>
<circle cx="263.69" cy="454.47" r="1.60" fill="#f564e3"/>
<circle cx="202.02" cy="449.33" r="1.60" fill="#619cff"/>
<circle cx="204.24" cy="450.65" r="1.60" fill="#619cff"/>
<circle cx="225.88" cy="514.84" r="1.60" fill="#00ba38"/>
<circle cx="226.81" cy="490.01" r="1.60" fill="#f8766d"/>
<circle cx="236.32" cy="469.15" r="1.60" fill="#f8766d"/>
<circle cx="227.33" cy="517.46" r="1.60" fill="#00ba38"/>
<circle cx="218.18" cy="452.22" r="1.60" fill="#00bfc4"/>
<circle cx="220.24" cy="492.78" r="1.60" fill="#f8766d"/>
<circle cx="233.74" cy="477.48" r="1.60" fill="#f8766d"/>
<circle cx="199.07" cy="445.08" r="1.60" fill="#619cff"/>
<circle cx="228.30" cy="468.00" r="1.60" fill="#00bfc4"/>
<circle cx="241.79" cy="418.81" r="1.60" fill="#00bfc4"/>
<circle cx="192.25" cy="427.33" r="1.60" fill="#619cff"/>
<circle cx="243.00" cy="471.00" r="1.60" fill="#f8766d"/>
<circle cx="227.57" cy="455.75" r="1.60" fill="#00bfc4"/>
<circle cx="218.40" cy="456.84" r="1.60" fill="#00bfc4"/>
<circle cx="233.91" cy="490.75" r="1.60" fill="#f8766d"/>
<circle cx="232.41" cy="462.85" r="1.60" fill="#00bfc4"/>
<circle cx="259.43" cy="454.60" r="1.60" fill="#f564e3"/>
<circle cx="229.62" cy="398.00" r="1.60" fill="#00bfc4"/>
<circle cx="210.36" cy="478.43" r="1.60" fill="#f8766d"/>
<circle cx="186.67" cy="415.12" r="1.60" fill="#619cff"/>
<circle cx="234.24" cy="508.37" r="1.60" fill="#00ba38"/>
<circle cx="196.50" cy="444.56" r="1.60" fill="#619cff"/>
<circle cx="228.89" cy="418.99" r="1.60" fill="#00bfc4"/>
<circle cx="231.10" cy="478.72" r="1.60" fill="#f8766d"/>
<circle cx="233.55" cy="488.48" r="1.60" fill="#f8766d"/>
<circle cx="188.28" cy="404.26" r="1.60" fill="#619cff"/>
<circle cx="235.23" cy="422.84" r="1.60" fill="#00bfc4"/>
<circle cx="245.72" cy="470.67" r="1.60" fill="#f8766d"/>
<circle cx="219.87" cy="399.63" r="1.60" fill="#00bfc4"/>
<circle cx="257.30" cy="452.49" r="1.60" fill="#f564e3"/>
<circle cx="222.42" cy="510.78" r="1.60" fill="#00ba38"/>
<circle cx="219.21" cy="460.33" r="1.60" fill="#00bfc4"/>
<circle cx="221.03" cy="412.97" r="1.60" fill="#00bfc4"/>
<circle cx="227.98" cy="388.35" r="1.60" fill="#00bfc4"/>
<circle cx="224.85" cy="440.63" r="1.60" fill="#00bfc4"/>
<circle cx="241.14" cy="414.82" r="1.60" fill="#00bfc4"/>
<circle cx="215.12" cy="509.54" r="1.60" fill="#00ba38"/>
<circle cx="238.36" cy="410.50" r="1.60" fill="#00bfc4"/>
<circle cx="224.54" cy="457.82" r="1.60" fill="#00bfc4"/>
<circle cx="228.32" cy="514.65" r="1.60" fill="#00ba38"/>
<circle cx="223.19" cy="430.45" r="1.60" fill="#00bfc4"/>
<circle cx="185.99" cy="405.21" r="1.60" fill="#619cff"/>
<circle cx="258.29" cy="457.67" r="1.60" fill="#f564e3"/>
<circle cx="215.93" cy="492.24" r="1.60" fill="#f8766d"/>
<circle cx="224.52" cy="494.35" r="1.60" fill="#f8766d"/>
<circle cx="182.86" cy="402.00" r="1.60" fill="#619cff"/>
<circle cx="240.39" cy="476.42" r="1.60" fill="#f8766d"/>
<circle cx="218.60" cy="431.70" r="1.60" fill="#00bfc4"/>
<circle cx="233.24" cy="387.21" r="1.60" fill="#00bfc4"/>
<circle cx="243.92" cy="411.94" r="1.60" fill="#00bfc4"/>
<circle cx="196.41" cy="448.68" r="1.60" fill="#619cff"/>
<circle cx="220.20" cy="421.42" r="1.60" fill="#00bfc4"/>
<circle cx="188.08" cy="406.89" r="1.60" fill="#619cff"/>
<circle cx="194.43" cy="438.25" r="1.60" fill="#619cff"/>
<circle cx="230.01" cy="505.50" r="1.60" fill="#00ba38"/>
<circle cx="241.36" cy="484.34" r="1.60" fill="#f8766d"/>
<circle cx="227.61" cy="400.41" r="1.60" fill="#00bfc4"/>
<circle cx="214.80" cy="485.71" r="1.60" fill="#f8766d"/>
<circle cx="272.00" cy="388.25" r="1.60" fill="#b79f00"/>
<circle cx="228.80" cy="392.06" r="1.60" fill="#00bfc4"/>
<circle cx="244.50" cy="456.78" r="1.60" fill="#00bfc4"/>
<circle cx="234.56" cy="418.61" r="1.60" fill="#00bfc4"/>
<circle cx="182.39" cy="407.52" r="1.60" fill="#619cff"/>
<circle cx="239.50" cy="401.43" r="1.60" fill="#00bfc4"/>
<circle cx="214.51" cy="428.71" r="1.60" fill="#00bfc4"/>
<circle cx="193.43" cy="452.40" r="1.60" fill="#619cff"/>
<circle cx="236.25" cy="487.47" r="1.60" fill="#f8766d"/>
<circle cx="229.31" cy="432.92" r="1.60" fill="#00bfc4"/>
<circle cx="183.06" cy="404.51" r="1.60" fill="#619cff"/>
<circle cx="217.98" cy="493.98" r="1.60" fill="#f8766d"/>
<circle cx="235.47" cy="465.57" r="1.60" fill="#00bfc4"/>
<circle cx="271.22" cy="384.20" r="1.60" fill="#b79f00"/>
<circle cx="218.07" cy="486.64" r="1.60" fill="#f8766d"/>
<circle cx="215.04" cy="505.25" r="1.60" fill="#00ba38"/>
<circle cx="226.61" cy="465.36" r="1.60" fill="#00bfc4"/>
<circle cx="238.98" cy="396.71" r="1.60" fill="#00bfc4"/>
<circle cx="224.84" cy="517.00" r="1.60" fill="#00ba38"/>
<circle cx="230.12" cy="390.11" r="1.60" fill="#00bfc4"/>
<circle cx="273.15" cy="390.81" r="1.60" fill="#b79f00"/>
<circle cx="226.11" cy="479.83" r="1.60" fill="#f8766d"/>
<circle cx="231.76" cy="492.13" r="1.60" fill="#f8766d"/>
<circle cx="255.24" cy="453.94" r="1.60" fill="#f564e3"/>
<circle cx="228.72" cy="384.08" r="1.60" fill="#00bfc4"/>
<circle cx="187.66" cy="427.55" r="1.60" fill="#619cff"/>
<circle cx="223.63" cy="404.44" r="1.60" fill="#00bfc4"/>
<circle cx="243.79" cy="460.24" r="1.60" fill="#00bfc4"/>
<circle cx="221.91" cy="518.36" r="1.60" fill="#00ba38"/>
<circle cx="223.95" cy="398.02" r="1.60" fill="#00bfc4"/>
<circle cx="198.25" cy="476.35" r="1.60" fill="#619cff"/>
<circle cx="238.43" cy="455.45" r="1.60" fill="#00bfc4"/>
<circle cx="235.48" cy="415.84" r="1.60" fill="#00bfc4"/>
<circle cx="213.27" cy="405.53" r="1.60" fill="#00bfc4"/>
<circle cx="194.24" cy="479.50" r="1.60" fill="#619cff"/>
<circle cx="256.25" cy="467.97" r="1.60" fill="#f564e3"/>
<circle cx="258.31" cy="469.85" r="1.60" fill="#f564e3"/>
<circle cx="224.01" cy="445.00" r="1.60" fill="#00bfc4"/>
<circle cx="206.68" cy="439.42" r="1.60" fill="#619cff"/>
<circle cx="231.15" cy="415.21" r="1.60" fill="#00bfc4"/>
<circle cx="215.64" cy="471.75" r="1.60" fill="#f8766d"/>
<circle cx="221.25" cy="462.73" r="1.60" fill="#00bfc4"/>
<circle cx="219.40" cy="484.29" r="1.60" fill="#f8766d"/>
<circle cx="214.42" cy="424.28" r="1.60" fill="#00bfc4"/>
<circle cx="219.41" cy="523.19" r="1.60" fill="#00ba38"/>
<circle cx="232.52" cy="485.55" r="1.60" fill="#f8766d"/>
<circle cx="225.85" cy="407.29" r="1.60" fill="#00bfc4"/>
<circle cx="225.88" cy="506.89" r="1.60" fill="#00ba38"/>
<circle cx="235.22" cy="483.15" r="1.60" fill="#f8766d"/>
<circle cx="211.80" cy="490.20" r="1.60" fill="#f8766d"/>
<circle cx="230.61" cy="503.02" r="1.60" fill="#00ba38"/>
<circle cx="197.76" cy="441.51" r="1.60" fill="#619cff"/>
<circle cx="216.77" cy="423.21" r="1.60" fill="#00bfc4"/>
<circle cx="236.02" cy="396.53" r="1.60" fill="#00bfc4"/>
<circle cx="221.88" cy="454.99" r="1.60" fill="#00bfc4"/>
<circle cx="231.85" cy="409.76" r="1.60" fill="#00bfc4"/>
<circle cx="219.87" cy="505.10" r="1.60" fill="#00ba38"/>
<circle cx="216.19" cy="483.63" r="1.60" fill="#f8766d"/>
<circle cx="230.81" cy="393.83" r="1.60" fill="#00bfc4"/>
<circle cx="221.67" cy="424.58" r="1.60" fill="#00bfc4"/>
<circle cx="203.61" cy="442.48" r="1.60" fill="#619cff"/>
<circle cx="254.34" cy="466.55" r="1.60" fill="#f564e3"/>
<circle cx="213.24" cy="474.89" r="1.60" fill="#f8766d"/>
<circle cx="231.54" cy="423.07" r="1.60" fill="#00bfc4"/>
<circle cx="216.01" cy="417.54" r="1.60" fill="#00bfc4"/>
<circle cx="234.90" cy="453.99" r="1.60" fill="#00bfc4"/>
<circle cx="212.47" cy="483.95" r="1.60" fill="#f8766d"/>
<circle cx="233.44" cy="448.94" r="1.60" fill="#00bfc4"/>
<circle cx="239.66" cy="461.24" r="1.60" fill="#00bfc4"/>
<circle cx="229.54" cy="411.40" r="1.60" fill="#00bfc4"/>
<circle cx="232.97" cy="470.04" r="1.60" fill="#f8766d"/>
<circle cx="220.29" cy="449.57" r="1.60" fill="#00bfc4"/>
<circle cx="223.17" cy="407.66" r="1.60" fill="#00bfc4"/>
<circle cx="225.07" cy="510.09" r="1.60" fill="#00ba38"/>
<circle cx="217.09" cy="479.32" r="1.60" fill="#f8766d"/>
<circle cx="230.62" cy="507.75" r="1.60" fill="#00ba38"/>
<circle cx="211.96" cy="506.00" r="1.60" fill="#00ba38"/>
<circle cx="239.41" cy="419.31" r="1.60" fill="#00bfc4"/>
<circle cx="199.27" cy="467.28" r="1.60" fill="#619cff"/>
<circle cx="221.03" cy="482.42" r="1.60" fill="#f8766d"/>
<circle cx="240.37" cy="471.98" r="1.60" fill="#f8766d"/>
<circle cx="266.98" cy="462.04" r="1.60" fill="#f564e3"/>
<circle cx="219.95" cy="409.25" r="1.60" fill="#00bfc4"/>
<circle cx="235.79" cy="393.29" r="1.60" fill="#00bfc4"/>
<circle cx="245.34" cy="472.98" r="1.60" fill="#f8766d"/>
<circle cx="235.62" cy="428.64" r="1.60" fill="#00bfc4"/>
<circle cx="222.16" cy="460.59" r="1.60" fill="#00bfc4"/>
<circle cx="275.45" cy="390.49" r="1.60" fill="#b79f00"/>
<circle cx="181.82" cy="399.03" r="1.60" fill="#619cff"/>
<circle cx="236.01" cy="503.57" r="1.60" fill="#00ba38"/>
<circle cx="216.11" cy="460.48" r="1.60" fill="#00bfc4"/>
<circle cx="222.28" cy="524.47" r="1.60" fill="#00ba38"/>
<circle cx="212.83" cy="481.57" r="1.60" fill="#f8766d"/>
<circle cx="225.65" cy="411.73" r="1.60" fill="#00bfc4"/>
<circle cx="268.23" cy="384.23" r="1.60" fill="#b79f00"/>
<circle cx="256.07" cy="463.61" r="1.60" fill="#f564e3"/>
<circle cx="244.79" cy="453.78" r="1.60" fill="#00bfc4"/>
<circle cx="224.10" cy="474.64" r="1.60" fill="#f8766d"/>
<circle cx="227.99" cy="415.49" r="1.60" fill="#00bfc4"/>
<circle cx="238.28" cy="416.76" r="1.60" fill="#00bfc4"/>
<circle cx="245.13" cy="478.33" r="1.60" fill="#f8766d"/>
<circle cx="267.40" cy="458.62" r="1.60" fill="#f564e3"/>
<circle cx="224.62" cy="387.77" r="1.60" fill="#00bfc4"/>
<circle cx="257.35" cy="465.91" r="1.60" fill="#f564e3"/>
<circle cx="245.73" cy="414.02" r="1.60" fill="#00bfc4"/>
<circle cx="226.20" cy="422.63" r="1.60" fill="#00bfc4"/>
<circle cx="193.39" cy="443.02" r="1.60" fill="#619cff"/>
<circle cx="225.76" cy="437.24" r="1.60" fill="#00bfc4"/>
<circle cx="207.28" cy="443.62" r="1.60" fill="#619cff"/>
<circle cx="230.74" cy="427.04" r="1.60" fill="#00bfc4"/>
<circle cx="218.78" cy="419.37" r="1.60" fill="#00bfc4"/>
<circle cx="236.69" cy="506.98" r="1.60" fill="#00ba38"/>
<circle cx="189.68" cy="466.62" r="1.60" fill="#619cff"/>
<circle cx="216.89" cy="521.98" r="1.60" fill="#00ba38"/>
<circle cx="230.90" cy="487.65" r="1.60" fill="#f8766d"/>
<circle cx="221.99" cy="395.64" r="1.60" fill="#00bfc4"/>
<circle cx="261.49" cy="453.39" r="1.60" fill="#f564e3"/>
<circle cx="221.47" cy="475.67" r="1.60" fill="#f8766d"/>
<circle cx="241.10" cy="459.07" r="1.60" fill="#00bfc4"/>
<circle cx="221.12" cy="473.34" r="1.60" fill="#f8766d"/>
<circle cx="195.66" cy="451.54" r="1.60" fill="#619cff"/>
<circle cx="189.43" cy="421.13" r="1.60" fill="#619cff"/>
<circle cx="251.92" cy="452.20" r="1.60" fill="#f564e3"/>
<circle cx="226.28" cy="453.79" r="1.60" fill="#00bfc4"/>
<circle cx="273.06" cy="386.08" r="1.60" fill="#b79f00"/>
<circle cx="238.48" cy="485.08" r="1.60" fill="#f8766d"/>
<circle cx="204.85" cy="445.02" r="1.60" fill="#619cff"/>
<circle cx="264.66" cy="457.59" r="1.60" fill="#f564e3"/>
<circle cx="227.04" cy="477.39" r="1.60" fill="#f8766d"/>
<circle cx="200.80" cy="440.93" r="1.60" fill="#619cff"/>
<circle cx="232.41" cy="395.53" r="1.60" fill="#00bfc4"/>
<circle cx="197.66" cy="463.65" r="1.60" fill="#619cff"/>
<circle cx="235.11" cy="471.73" r="1.60" fill="#f8766d"/>
<circle cx="269.22" cy="392.84" r="1.60" fill="#b79f00"/>
<circle cx="222.36" cy="427.84" r="1.60" fill="#00bfc4"/>
<circle cx="202.80" cy="453.79" r="1.60" fill="#619cff"/>
<circle cx="236.12" cy="474.18" r="1.60" fill="#f8766d"/>
<circle cx="218.33" cy="512.70" r="1.60" fill="#00ba38"/>
<circle cx="216.98" cy="473.96" r="1.60" fill="#f8766d"/>
<circle cx="212.97" cy="492.48" r="1.60" fill="#f8766d"/>
<circle cx="233.96" cy="399.34" r="1.60" fill="#00bfc4"/>
<circle cx="191.16" cy="429.84" r="1.60" fill="#619cff"/>
<circle cx="211.91" cy="415.23" r="1.60" fill="#00bfc4"/>
<circle cx="255.08" cy="470.00" r="1.60" fill="#f564e3"/>
<circle cx="230.85" cy="470.94" r="1.60" fill="#f8766d"/>
<circle cx="186.07" cy="422.09" r="1.60" fill="#619cff"/>
<circle cx="261.45" cy="463.10" r="1.60" fill="#f564e3"/>
<circle cx="192.70" cy="433.14" r="1.60" fill="#619cff"/>
<circle cx="235.81" cy="480.21" r="1.60" fill="#f8766d"/>
<circle cx="228.22" cy="487.76" r="1.60" fill="#f8766d"/>
<circle cx="201.67" cy="444.82" r="1.60" fill="#619cff"/>
<circle cx="188.68" cy="430.42" r="1.60" fill="#619cff"/>
<circle cx="220.58" cy="468.22" r="1.60" fill="#00bfc4"/>
<circle cx="224.38" cy="482.54" r="1.60" fill="#f8766d"/>
<circle cx="222.65" cy="420.45" r="1.60" fill="#00bfc4"/>
<circle cx="275.29" cy="393.06" r="1.60" fill="#b79f00"/>
<circle cx="200.91" cy="457.50" r="1.60" fill="#619cff"/>
<circle cx="194.80" cy="460.98" r="1.60" fill="#619cff"/>
<circle cx="213.73" cy="512.85" r="1.60" fill="#00ba38"/>
<circle cx="192.47" cy="464.24" r="1.60" fill="#619cff"/>
<circle cx="192.40" cy="470.42" r="1.60" fill="#619cff"/>
<circle cx="212.87" cy="487.18" r="1.60" fill="#f8766d"/>
<circle cx="238.93" cy="467.45" r="1.60" fill="#f8766d"/>
<circle cx="233.91" cy="408.32" r="1.60" fill="#00bfc4"/>
<circle cx="269.95" cy="389.64" r="1.60" fill="#b79f00"/>
<circle cx="226.32" cy="432.41" r="1.60" fill="#00bfc4"/>
<circle cx="223.36" cy="442.68" r="1.60" fill="#00bfc4"/>
<circle cx="237.65" cy="481.95" r="1.60" fill="#f8766d"/>
<circle cx="214.54" cy="466.36" r="1.60" fill="#00bfc4"/>
<circle cx="215.36" cy="481.42" r="1.60" fill="#f8766d"/>
<circle cx="194.60" cy="465.69" r="1.60" fill="#619cff"/>
<circle cx="217.56" cy="406.90" r="1.60" fill="#00bfc4"/>
<circle cx="217.82" cy="412.64" r="1.60" fill="#00bfc4"/>
<circle cx="258.46" cy="463.10" r="1.60" fill="#f564e3"/>
<circle cx="264.41" cy="461.94" r="1.60" fill="#f564e3"/>
<circle cx="230.51" cy="468.42" r="1.60" fill="#f8766d"/>
<circle cx="226.86" cy="429.94" r="1.60" fill="#00bfc4"/>
<circle cx="211.25" cy="473.35" r="1.60" fill="#f8766d"/>
<circle cx="230.86" cy="483.82" r="1.60" fill="#f8766d"/>
<circle cx="185.18" cy="407.47" r="1.60" fill="#619cff"/>
<circle cx="269.42" cy="460.69" r="1.60" fill="#f564e3"/>
<circle cx="221.98" cy="522.02" r="1.60" fill="#00ba38"/>
<circle cx="220.74" cy="465.74" r="1.60" fill="#00bfc4"/>
<circle cx="219.16" cy="444.82" r="1.60" fill="#00bfc4"/>
<circle cx="238.01" cy="477.47" r="1.60" fill="#f8766d"/>
<circle cx="191.19" cy="460.43" r="1.60" fill="#619cff"/>
<circle cx="226.57" cy="484.46" r="1.60" fill="#f8766d"/>
<circle cx="215.82" cy="516.97" r="1.60" fill="#00ba38"/>
<circle cx="216.62" cy="488.77" r="1.60" fill="#f8766d"/>
<circle cx="218.37" cy="509.15" r="1.60" fill="#00ba38"/>
<circle cx="218.75" cy="475.87" r="1.60" fill="#f8766d"/>
<circle cx="228.40" cy="509.58" r="1.60" fill="#00ba38"/>
<circle cx="222.07" cy="506.11" r="1.60" fill="#00ba38"/>
<circle cx="231.53" cy="399.86" r="1.60" fill="#00bfc4"/>
<circle cx="198.74" cy="447.72" r="1.60" fill="#619cff"/>
<circle cx="234.37" cy="401.95" r="1.60" fill="#00bfc4"/>
<circle cx="225.62" cy="392.87" r="1.60" fill="#00bfc4"/>
<circle cx="209.54" cy="483.74" r="1.60" fill="#f8766d"/>
<circle cx="212.92" cy="477.41" r="1.60" fill="#f8766d"/>
<circle cx="231.11" cy="430.55" r="1.60" fill="#00bfc4"/>
<circle cx="189.20" cy="463.80" r="1.60" fill="#619cff"/>
<circle cx="260.90" cy="468.80" r="1.60" fill="#f564e3"/>
<circle cx="185.58" cy="409.78" r="1.60" fill="#619cff"/>
<circle cx="218.00" cy="481.99" r="1.60" fill="#f8766d"/>
<circle cx="218.25" cy="516.83" r="1.60" fill="#00ba38"/>
<circle cx="271.67" cy="393.01" r="1.60" fill="#b79f00"/>
<circle cx="238.80" cy="413.40" r="1.60" fill="#00bfc4"/>
<circle cx="186.70" cy="464.33" r="1.60" fill="#619cff"/>
<circle cx="233.45" cy="480.70" r="1.60" fill="#f8766d"/>
<circle cx="230.34" cy="452.11" r="1.60" fill="#00bfc4"/>
<circle cx="230.88" cy="481.12" r="1.60" fill="#f8766d"/>
<circle cx="274.76" cy="387.74" r="1.60" fill="#b79f00"/>
<circle cx="195.94" cy="455.40" r="1.60" fill="#619cff"/>
<circle cx="234.47" cy="467.53" r="1.60" fill="#f8766d"/>
<circle cx="218.44" cy="404.10" r="1.60" fill="#00bfc4"/>
<circle cx="243.76" cy="416.01" r="1.60" fill="#00bfc4"/>
<circle cx="236.32" cy="406.45" r="1.60" fill="#00bfc4"/>
<circle cx="262.06" cy="457.45" r="1.60" fill="#f564e3"/>
<circle cx="239.18" cy="465.27" r="1.60" fill="#00bfc4"/>
<circle cx="192.73" cy="436.51" r="1.60" fill="#619cff"/>
<circle cx="194.67" cy="476.87" r="1.60" fill="#619cff"/>
<circle cx="222.06" cy="491.36" r="1.60" fill="#f8766d"/>
<circle cx="222.42" cy="434.41" r="1.60" fill="#00bfc4"/>
<circle cx="215.31" cy="476.76" r="1.60" fill="#f8766d"/>
<circle cx="209.79" cy="480.85" r="1.60" fill="#f8766d"/>
<circle cx="240.16" cy="451.85" r="1.60" fill="#00bfc4"/>
<circle cx="210.50" cy="486.28" r="1.60" fill="#f8766d"/>
<circle cx="224.04" cy="390.64" r="1.60" fill="#00bfc4"/>
<circle cx="221.03" cy="479.34" r="1.60" fill="#f8766d"/>
<circle cx="237.89" cy="472.16" r="1.60" fill="#f8766d"/>
<circle cx="214.75" cy="407.44" r="1.60" fill="#00bfc4"/>
<circle cx="222.54" cy="484.95" r="1.60" fill="#f8766d"/>
<circle cx="243.59" cy="474.92" r="1.60" fill="#f8766d"/>
<circle cx="185.08" cy="398.63" r="1.60" fill="#619cff"/>
<circle cx="228.82" cy="492.15" r="1.60" fill="#f8766d"/>
<circle cx="189.46" cy="433.64" r="1.60" fill="#619cff"/>
<circle cx="247.49" cy="460.06" r="1.60" fill="#00bfc4"/>
<circle cx="233.20" cy="474.66" r="1.60" fill="#f8766d"/>
<circle cx="183.36" cy="395.77" r="1.60" fill="#619cff"/>
<circle cx="219.31" cy="496.23" r="1.60" fill="#f8766d"/>
<circle cx="223.44" cy="478.76" r="1.60" fill="#f8766d"/>
<circle cx="229.45" cy="445.83" r="1.60" fill="#00bfc4"/>
<circle cx="228.05" cy="481.20" r="1.60" fill="#f8766d"/>
<circle cx="215.15" cy="403.59" r="1.60" fill="#00bfc4"/>
<circle cx="220.16" cy="435.66" r="1.60" fill="#00bfc4"/>
<circle cx="197.52" cy="459.31" r="1.60" fill="#619cff"/>
<circle cx="205.55" cy="436.67" r="1.60" fill="#619cff"/>
<circle cx="231.97" cy="407.02" r="1.60" fill="#00bfc4"/>
<circle cx="240.56" cy="423.61" r="1.60" fill="#00bfc4"/>
<circle cx="254.97" cy="456.26" r="1.60" fill="#f564e3"/>
<circle cx="187.13" cy="418.41" r="1.60" fill="#619cff"/>
<circle cx="242.65" cy="479.10" r="1.60" fill="#f8766d"/>
<circle cx="267.60" cy="389.06" r="1.60" fill="#b79f00"/>
<circle cx="259.14" cy="460.11" r="1.60" fill="#f564e3"/>
<circle cx="214.11" cy="410.79" r="1.60" fill="#00bfc4"/>
<circle cx="230.34" cy="465.73" r="1.60" fill="#00bfc4"/>
<circle cx="220.73" cy="508.08" r="1.60" fill="#00ba38"/>
<circle cx="211.55" cy="459.34" r="1.60" fill="#00bfc4"/>
<circle cx="219.95" cy="490.40" r="1.60" fill="#f8766d"/>
<circle cx="230.60" cy="510.85" r="1.60" fill="#00ba38"/>
<circle cx="227.20" cy="394.66" r="1.60" fill="#00bfc4"/>
<circle cx="227.50" cy="494.70" r="1.60" fill="#f8766d"/>
<circle cx="228.94" cy="472.67" r="1.60" fill="#f8766d"/>
<circle cx="231.14" cy="443.23" r="1.60" fill="#00bfc4"/>
<circle cx="228.65" cy="407.99" r="1.60" fill="#00bfc4"/>
<circle cx="225.47" cy="417.67" r="1.60" fill="#00bfc4"/>
<circle cx="234.42" cy="505.89" r="1.60" fill="#00ba38"/>
<circle cx="212.55" cy="464.73" r="1.60" fill="#00bfc4"/>
<circle cx="243.65" cy="463.58" r="1.60" fill="#00bfc4"/>
<circle cx="224.68" cy="414.06" r="1.60" fill="#00bfc4"/>
<circle cx="233.27" cy="446.06" r="1.60" fill="#00bfc4"/>
<circle cx="214.55" cy="414.93" r="1.60" fill="#00bfc4"/>
<circle cx="229.21" cy="422.62" r="1.60" fill="#00bfc4"/>
<circle cx="228.24" cy="449.88" r="1.60" fill="#00bfc4"/>
<circle cx="196.60" cy="467.66" r="1.60" fill="#619cff"/>
<circle cx="226.98" cy="474.16" r="1.60" fill="#f8766d"/>
<circle cx="221.30" cy="514.97" r="1.60" fill="#00ba38"/>
<circle cx="196.65" cy="471.00" r="1.60" fill="#619cff"/>
<circle cx="200.07" cy="461.24" r="1.60" fill="#619cff"/>
<circle cx="225.93" cy="462.15" r="1.60" fill="#00bfc4"/>
<circle cx="226.13" cy="519.57" r="1.60" fill="#00ba38"/>
<circle cx="257.23" cy="455.39" r="1.60" fill="#f564e3"/>
<circle cx="222.44" cy="487.66" r="1.60" fill="#f8766d"/>
<circle cx="230.58" cy="475.68" r="1.60" fill="#f8766d"/>
<circle cx="193.75" cy="445.53" r="1.60" fill="#619cff"/>
<circle cx="232.97" cy="392.93" r="1.60" fill="#00bfc4"/>
<circle cx="241.92" cy="406.34" r="1.60" fill="#00bfc4"/>
<circle cx="215.95" cy="519.53" r="1.60" fill="#00ba38"/>
<circle cx="219.22" cy="416.80" r="1.60" fill="#00bfc4"/>
<circle cx="263.27" cy="459.52" r="1.60" fill="#f564e3"/>
<circle cx="269.91" cy="386.19" r="1.60" fill="#b79f00"/>
<circle cx="265.92" cy="464.37" r="1.60" fill="#f564e3"/>
<circle cx="242.54" cy="468.27" r="1.60" fill="#f8766d"/>
<circle cx="260.69" cy="466.13" r="1.60" fill="#f564e3"/>
<circle cx="243.06" cy="482.09" r="1.60" fill="#f8766d"/>
<circle cx="222.20" cy="415.98" r="1.60" fill="#00bfc4"/>
<circle cx="198.37" cy="450.78" r="1.60" fill="#619cff"/>
<circle cx="43.50" cy="455.00" r="1.60" fill="#00bfc4"/>
<circle cx="53.20" cy="449.20" r="1.60" fill="#00bfc4"/>
<circle cx="61.10" cy="459.40" r="1.60" fill="#f564e3"/>
<circle cx="126.10" cy="395.70" r="1.60" fill="#00bfc4"/>
<circle cx="117.30" cy="397.00" r="1.60" fill="#f8766d"/>
<circle cx="85.70" cy="431.20" r="1.60" fill="#00bfc4"/>
<circle cx="145.50" cy="396.00" r="1.60" fill="#f8766d"/>
<circle cx="90.00" cy="493.00" r="1.60" fill="#f8766d"/>
<circle cx="84.00" cy="496.00" r="1.60" fill="#00ba38"/>
<circle cx="167.90" cy="455.00" r="1.60" fill="#00bfc4"/>
<circle cx="178.50" cy="466.40" r="1.60" fill="#f8766d"/>
<circle cx="187.20" cy="447.00" r="1.60" fill="#619cff"/>
<circle cx="251.40" cy="392.60" r="1.60" fill="#00bfc4"/>
<circle cx="247.00" cy="392.00" r="1.60" fill="#00bfc4"/>
<circle cx="254.00" cy="403.10" r="1.60" fill="#f564e3"/>
<circle cx="256.00" cy="402.00" r="1.60" fill="#f564e3"/>
<circle cx="241.00" cy="394.00" r="1.60" fill="#00bfc4"/>
<circle cx="261.00" cy="397.00" r="1.60" fill="#f8766d"/>
<circle cx="256.00" cy="399.00" r="1.60" fill="#b79f00"/>
<circle cx="271.50" cy="395.50" r="1.60" fill="#00bfc4"/>
<circle cx="237.50" cy="393.60" r="1.60" fill="#f8766d"/>
<circle cx="205.00" cy="496.00" r="1.60" fill="#619cff"/>
<circle cx="197.00" cy="482.50" r="1.60" fill="#f8766d"/>
<line x1="39.20" y1="376.80" x2="39.20" y2="532.50" stroke="#111" stroke-width="1"/>
<line x1="38.70" y1="532.50" x2="157.60" y2="532.50" stroke="#111" stroke-width="1"/>
<line x1="162.50" y1="532.50" x2="280.40" y2="532.50" stroke="#111" stroke-width="1"/>
<line x1="36.70" y1="403.40" x2="39.20" y2="403.40" stroke="#111" stroke-width="0.8"/>
<text x="33.80" y="406.83" font-size="9.8" text-anchor="end" fill="#444" color="#444">4</text>
<line x1="36.70" y1="448.80" x2="39.20" y2="448.80" stroke="#111" stroke-width="0.8"/>
<text x="33.80" y="452.23" font-size="9.8" text-anchor="end" fill="#444" color="#444">0</text>
<line x1="36.70" y1="494.20" x2="39.20" y2="494.20" stroke="#111" stroke-width="0.8"/>
<text x="33.80" y="497.63" font-size="9.8" text-anchor="end" fill="#444" color="#444">−4</text>
<line x1="67.50" y1="532.50" x2="67.50" y2="535.00" stroke="#111" stroke-width="0.8"/>
<text x="67.50" y="544.73" font-size="9.8" text-anchor="middle" fill="#444" color="#444">−4</text>
<line x1="99.30" y1="532.50" x2="99.30" y2="535.00" stroke="#111" stroke-width="0.8"/>
<text x="99.30" y="544.73" font-size="9.8" text-anchor="middle" fill="#444" color="#444">0</text>
<line x1="131.50" y1="532.50" x2="131.50" y2="535.00" stroke="#111" stroke-width="0.8"/>
<text x="131.50" y="544.73" font-size="9.8" text-anchor="middle" fill="#444" color="#444">4</text>
<line x1="191.20" y1="532.50" x2="191.20" y2="535.00" stroke="#111" stroke-width="0.8"/>
<text x="191.20" y="544.73" font-size="9.8" text-anchor="middle" fill="#444" color="#444">−4</text>
<line x1="223.00" y1="532.50" x2="223.00" y2="535.00" stroke="#111" stroke-width="0.8"/>
<text x="223.00" y="544.73" font-size="9.8" text-anchor="middle" fill="#444" color="#444">0</text>
<line x1="255.20" y1="532.50" x2="255.20" y2="535.00" stroke="#111" stroke-width="0.8"/>
<text x="255.20" y="544.73" font-size="9.8" text-anchor="middle" fill="#444" color="#444">4</text>
<text x="160.00" y="557.85" font-size="11" text-anchor="middle" fill="#111" color="#111">umap_1</text>
<text x="16.60" y="454.20" font-size="11.3" text-anchor="middle" fill="#111" color="#111" transform="rotate(-90 16.60 454.20)">umap_2</text>
<text x="98.00" y="372.30" font-size="9.5" text-anchor="middle" font-weight="bold" fill="#111" color="#111">P</text>
<text x="221.30" y="372.40" font-size="9.5" text-anchor="middle" font-weight="bold" fill="#111" color="#111">P+Fer−1</text>
<circle cx="298.20" cy="422.80" r="3.30" fill="#f8766d"/>
<text x="310.60" y="426.25" font-size="9.85" text-anchor="start" fill="#222" color="#222">Exausted T cells</text>
<circle cx="298.20" cy="435.54" r="3.30" fill="#b79f00"/>
<text x="310.60" y="438.99" font-size="9.85" text-anchor="start" fill="#222" color="#222">Gamma Delta T cells</text>
<circle cx="298.20" cy="448.28" r="3.30" fill="#00ba38"/>
<text x="310.60" y="451.73" font-size="9.85" text-anchor="start" fill="#222" color="#222">Gzmk+ CD8 T cells</text>
<circle cx="298.20" cy="461.02" r="3.30" fill="#00bfc4"/>
<text x="310.60" y="464.47" font-size="9.85" text-anchor="start" fill="#222" color="#222">Naïve T</text>
<circle cx="298.20" cy="473.76" r="3.30" fill="#619cff"/>
<text x="310.60" y="477.21" font-size="9.85" text-anchor="start" fill="#222" color="#222">NK cells</text>
<circle cx="298.20" cy="486.50" r="3.30" fill="#f564e3"/>
<text x="310.60" y="489.95" font-size="9.85" text-anchor="start" fill="#222" color="#222">Treg</text>
<text x="416.00" y="381.00" font-size="24" text-anchor="start" font-weight="bold" fill="#000" color="#000">e</text>
<rect x="499.20" y="448.80" width="20.50" height="35.50" fill="#1496b0"/>
<rect x="499.20" y="434.00" width="20.50" height="14.80" fill="#fa8080"/>
<rect x="499.20" y="429.70" width="20.50" height="4.30" fill="#b050d8"/>
<rect x="499.20" y="415.00" width="20.50" height="14.70" fill="#00c000"/>
<rect x="499.20" y="409.90" width="20.50" height="5.10" fill="#c2c000"/>
<rect x="499.20" y="398.90" width="20.50" height="11.00" fill="#91c1f9"/>
<rect x="529.60" y="443.10" width="20.50" height="41.20" fill="#1496b0"/>
<rect x="529.60" y="424.00" width="20.50" height="19.10" fill="#fa8080"/>
<rect x="529.60" y="414.10" width="20.50" height="9.90" fill="#b050d8"/>
<rect x="529.60" y="404.60" width="20.50" height="9.50" fill="#00c000"/>
<rect x="529.60" y="401.40" width="20.50" height="3.20" fill="#c2c000"/>
<rect x="529.60" y="381.80" width="20.50" height="19.60" fill="#91c1f9"/>
<line x1="489.70" y1="368.20" x2="489.70" y2="485.10" stroke="#111" stroke-width="1.3"/>
<line x1="489.00" y1="484.50" x2="560.50" y2="484.50" stroke="#111" stroke-width="1.3"/>
<line x1="486.50" y1="381.42" x2="489.70" y2="381.42" stroke="#111" stroke-width="1.2"/>
<text x="485.20" y="385.03" font-size="10.3" text-anchor="end" font-weight="bold" fill="#000" color="#000">800</text>
<line x1="486.50" y1="407.14" x2="489.70" y2="407.14" stroke="#111" stroke-width="1.2"/>
<text x="485.20" y="410.75" font-size="10.3" text-anchor="end" font-weight="bold" fill="#000" color="#000">600</text>
<line x1="486.50" y1="432.86" x2="489.70" y2="432.86" stroke="#111" stroke-width="1.2"/>
<text x="485.20" y="436.47" font-size="10.3" text-anchor="end" font-weight="bold" fill="#000" color="#000">400</text>
<line x1="486.50" y1="458.58" x2="489.70" y2="458.58" stroke="#111" stroke-width="1.2"/>
<text x="485.20" y="462.19" font-size="10.3" text-anchor="end" font-weight="bold" fill="#000" color="#000">200</text>
<line x1="486.50" y1="484.30" x2="489.70" y2="484.30" stroke="#111" stroke-width="1.2"/>
<text x="485.20" y="487.91" font-size="10.3" text-anchor="end" font-weight="bold" fill="#000" color="#000">0</text>
<line x1="509.40" y1="484.50" x2="509.40" y2="487.80" stroke="#111" stroke-width="1.2"/>
<line x1="539.80" y1="484.50" x2="539.80" y2="487.80" stroke="#111" stroke-width="1.2"/>
<text x="509.40" y="500.31" font-size="10.3" text-anchor="middle" font-weight="bold" fill="#000" color="#000">P</text>
<text x="539.50" y="500.31" font-size="10.3" text-anchor="middle" font-weight="bold" fill="#000" color="#000">P+Fer-1</text>
<text x="462.40" y="424.60" font-size="11.0" text-anchor="middle" font-weight="bold" fill="#000" color="#000" transform="rotate(-90 462.40 424.60)">Cell Count</text>
<rect x="428.00" y="504.90" width="9.40" height="9.40" fill="#1496b0"/>
<text x="443.00" y="513.22" font-size="10.35" text-anchor="start" fill="#111" color="#111">Naive T</text>
<rect x="428.00" y="521.75" width="9.40" height="9.40" fill="#fa8080"/>
<text x="443.00" y="530.07" font-size="10.35" text-anchor="start" fill="#111" color="#111">Exausted T cells</text>
<rect x="428.00" y="538.60" width="9.40" height="9.40" fill="#b050d8"/>
<text x="443.00" y="546.92" font-size="10.35" text-anchor="start" fill="#111" color="#111">Treg</text>
<rect x="528.40" y="504.90" width="9.40" height="9.40" fill="#00c000"/>
<text x="543.70" y="513.22" font-size="10.35" text-anchor="start" fill="#111" color="#111">Gzmk+ CD8 T cells</text>
<rect x="528.40" y="521.75" width="9.40" height="9.40" fill="#c2c000"/>
<text x="543.70" y="530.07" font-size="10.35" text-anchor="start" fill="#111" color="#111">Gamma Delta T cells</text>
<rect x="528.40" y="538.60" width="9.40" height="9.40" fill="#91c1f9"/>
<text x="543.70" y="546.92" font-size="10.35" text-anchor="start" fill="#111" color="#111">NK cells</text>
<text x="7.30" y="575.00" font-size="24" text-anchor="start" font-weight="bold" fill="#000" color="#000">f</text>
<line x1="8.00" y1="565.50" x2="400.00" y2="565.50" stroke="#f4f4f4" stroke-width="0.6"/>
<circle cx="98.50" cy="595.00" r="0.55" fill="#c9bde6"/>
<circle cx="112.36" cy="595.00" r="1.10" fill="#7a5cea"/>
<circle cx="126.22" cy="595.00" r="0.55" fill="#c9bde6"/>
<circle cx="140.08" cy="595.00" r="0.55" fill="#c9bde6"/>
<circle cx="153.94" cy="595.00" r="0.55" fill="#c9bde6"/>
<circle cx="167.80" cy="595.00" r="0.55" fill="#c9bde6"/>
<circle cx="181.66" cy="595.00" r="0.55" fill="#c9bde6"/>
<circle cx="195.52" cy="595.00" r="0.55" fill="#c9bde6"/>
<circle cx="209.38" cy="595.00" r="1.30" fill="#1c0cf2"/>
<circle cx="223.24" cy="595.00" r="2.30" fill="#7a5cea"/>
<circle cx="237.10" cy="595.00" r="1.30" fill="#7a5cea"/>
<circle cx="250.96" cy="595.00" r="1.20" fill="#b6a0e4"/>
<circle cx="264.82" cy="595.00" r="2.30" fill="#7a5cea"/>
<circle cx="278.68" cy="595.00" r="0.55" fill="#c9bde6"/>
<circle cx="292.54" cy="595.00" r="0.55" fill="#c9bde6"/>
<circle cx="306.40" cy="595.00" r="0.55" fill="#c9bde6"/>
<circle cx="320.26" cy="595.00" r="1.30" fill="#1c0cf2"/>
<circle cx="334.12" cy="595.00" r="1.30" fill="#1c0cf2"/>
<circle cx="347.98" cy="595.00" r="1.30" fill="#1c0cf2"/>
<circle cx="98.50" cy="643.00" r="0.55" fill="#c9bde6"/>
<circle cx="112.36" cy="643.00" r="0.55" fill="#c9bde6"/>
<circle cx="126.22" cy="643.00" r="1.00" fill="#7a5cea"/>
<circle cx="140.08" cy="643.00" r="0.55" fill="#c9bde6"/>
<circle cx="153.94" cy="643.00" r="0.55" fill="#c9bde6"/>
<circle cx="167.80" cy="643.00" r="0.55" fill="#c9bde6"/>
<circle cx="181.66" cy="643.00" r="0.55" fill="#c9bde6"/>
<circle cx="195.52" cy="643.00" r="0.55" fill="#c9bde6"/>
<circle cx="209.38" cy="643.00" r="0.55" fill="#c9bde6"/>
<circle cx="223.24" cy="643.00" r="0.55" fill="#c9bde6"/>
<circle cx="237.10" cy="643.00" r="2.30" fill="#7a5cea"/>
<circle cx="250.96" cy="643.00" r="2.20" fill="#b6a0e4"/>
<circle cx="264.82" cy="643.00" r="2.00" fill="#cfcbd8"/>
<circle cx="278.68" cy="643.00" r="4.00" fill="#1c0cf2"/>
<circle cx="292.54" cy="643.00" r="3.00" fill="#1c0cf2"/>
<circle cx="306.40" cy="643.00" r="2.10" fill="#1c0cf2"/>
<circle cx="320.26" cy="643.00" r="0.55" fill="#c9bde6"/>
<circle cx="334.12" cy="643.00" r="0.55" fill="#c9bde6"/>
<circle cx="347.98" cy="643.00" r="0.55" fill="#c9bde6"/>
<circle cx="98.50" cy="690.60" r="0.55" fill="#c9bde6"/>
<circle cx="112.36" cy="690.60" r="0.90" fill="#b6a0e4"/>
<circle cx="126.22" cy="690.60" r="0.90" fill="#b6a0e4"/>
<circle cx="140.08" cy="690.60" r="0.55" fill="#c9bde6"/>
<circle cx="153.94" cy="690.60" r="0.90" fill="#b6a0e4"/>
<circle cx="167.80" cy="690.60" r="0.55" fill="#c9bde6"/>
<circle cx="181.66" cy="690.60" r="0.90" fill="#b6a0e4"/>
<circle cx="195.52" cy="690.60" r="0.55" fill="#c9bde6"/>
<circle cx="209.38" cy="690.60" r="0.55" fill="#c9bde6"/>
<circle cx="223.24" cy="690.60" r="0.90" fill="#b6a0e4"/>
<circle cx="237.10" cy="690.60" r="3.00" fill="#3d2cf0"/>
<circle cx="250.96" cy="690.60" r="3.30" fill="#3d2cf0"/>
<circle cx="264.82" cy="690.60" r="4.30" fill="#6a4ae9"/>
<circle cx="278.68" cy="690.60" r="0.55" fill="#c9bde6"/>
<circle cx="292.54" cy="690.60" r="0.55" fill="#c9bde6"/>
<circle cx="306.40" cy="690.60" r="0.55" fill="#c9bde6"/>
<circle cx="320.26" cy="690.60" r="0.55" fill="#c9bde6"/>
<circle cx="334.12" cy="690.60" r="0.55" fill="#c9bde6"/>
<circle cx="347.98" cy="690.60" r="0.55" fill="#c9bde6"/>
<circle cx="98.50" cy="738.30" r="0.55" fill="#c9bde6"/>
<circle cx="112.36" cy="738.30" r="1.20" fill="#7a5cea"/>
<circle cx="126.22" cy="738.30" r="1.00" fill="#b6a0e4"/>
<circle cx="140.08" cy="738.30" r="0.55" fill="#c9bde6"/>
<circle cx="153.94" cy="738.30" r="0.55" fill="#c9bde6"/>
<circle cx="167.80" cy="738.30" r="0.55" fill="#c9bde6"/>
<circle cx="181.66" cy="738.30" r="4.10" fill="#1c0cf2"/>
<circle cx="195.52" cy="738.30" r="3.30" fill="#1c0cf2"/>
<circle cx="209.38" cy="738.30" r="2.20" fill="#7a5cea"/>
<circle cx="223.24" cy="738.30" r="3.30" fill="#6a4ae9"/>
<circle cx="237.10" cy="738.30" r="1.00" fill="#b6a0e4"/>
<circle cx="250.96" cy="738.30" r="2.30" fill="#7a5cea"/>
<circle cx="264.82" cy="738.30" r="3.10" fill="#b6a0e4"/>
<circle cx="278.68" cy="738.30" r="0.55" fill="#c9bde6"/>
<circle cx="292.54" cy="738.30" r="0.55" fill="#c9bde6"/>
<circle cx="306.40" cy="738.30" r="0.55" fill="#c9bde6"/>
<circle cx="320.26" cy="738.30" r="0.55" fill="#c9bde6"/>
<circle cx="334.12" cy="738.30" r="0.55" fill="#c9bde6"/>
<circle cx="347.98" cy="738.30" r="0.55" fill="#c9bde6"/>
<circle cx="98.50" cy="786.30" r="1.00" fill="#7a5cea"/>
<circle cx="112.36" cy="786.30" r="0.55" fill="#c9bde6"/>
<circle cx="126.22" cy="786.30" r="0.55" fill="#c9bde6"/>
<circle cx="140.08" cy="786.30" r="3.60" fill="#1c0cf2"/>
<circle cx="153.94" cy="786.30" r="3.80" fill="#1c0cf2"/>
<circle cx="167.80" cy="786.30" r="2.80" fill="#1c0cf2"/>
<circle cx="181.66" cy="786.30" r="0.55" fill="#c9bde6"/>
<circle cx="195.52" cy="786.30" r="0.55" fill="#c9bde6"/>
<circle cx="209.38" cy="786.30" r="0.55" fill="#c9bde6"/>
<circle cx="223.24" cy="786.30" r="0.55" fill="#c9bde6"/>
<circle cx="237.10" cy="786.30" r="0.55" fill="#c9bde6"/>
<circle cx="250.96" cy="786.30" r="0.80" fill="#b6a0e4"/>
<circle cx="264.82" cy="786.30" r="3.10" fill="#b6a0e4"/>
<circle cx="278.68" cy="786.30" r="0.55" fill="#c9bde6"/>
<circle cx="292.54" cy="786.30" r="0.55" fill="#c9bde6"/>
<circle cx="306.40" cy="786.30" r="0.55" fill="#c9bde6"/>
<circle cx="320.26" cy="786.30" r="0.55" fill="#c9bde6"/>
<circle cx="334.12" cy="786.30" r="0.55" fill="#c9bde6"/>
<circle cx="347.98" cy="786.30" r="0.55" fill="#c9bde6"/>
<circle cx="98.50" cy="834.30" r="1.70" fill="#1c0cf2"/>
<circle cx="112.36" cy="834.30" r="2.00" fill="#1c0cf2"/>
<circle cx="126.22" cy="834.30" r="2.00" fill="#1c0cf2"/>
<circle cx="140.08" cy="834.30" r="0.55" fill="#c9bde6"/>
<circle cx="153.94" cy="834.30" r="0.55" fill="#c9bde6"/>
<circle cx="167.80" cy="834.30" r="0.55" fill="#c9bde6"/>
<circle cx="181.66" cy="834.30" r="0.90" fill="#b6a0e4"/>
<circle cx="195.52" cy="834.30" r="0.90" fill="#b6a0e4"/>
<circle cx="209.38" cy="834.30" r="0.55" fill="#c9bde6"/>
<circle cx="223.24" cy="834.30" r="0.90" fill="#b6a0e4"/>
<circle cx="237.10" cy="834.30" r="1.00" fill="#b6a0e4"/>
<circle cx="250.96" cy="834.30" r="2.30" fill="#7a5cea"/>
<circle cx="264.82" cy="834.30" r="3.40" fill="#b6a0e4"/>
<circle cx="278.68" cy="834.30" r="0.55" fill="#c9bde6"/>
<circle cx="292.54" cy="834.30" r="1.00" fill="#7a5cea"/>
<circle cx="306.40" cy="834.30" r="0.55" fill="#c9bde6"/>
<circle cx="320.26" cy="834.30" r="0.55" fill="#c9bde6"/>
<circle cx="334.12" cy="834.30" r="0.55" fill="#c9bde6"/>
<circle cx="347.98" cy="834.30" r="0.55" fill="#c9bde6"/>
<line x1="90.30" y1="566.60" x2="90.30" y2="863.20" stroke="#222" stroke-width="1"/>
<line x1="89.80" y1="862.70" x2="356.20" y2="862.70" stroke="#222" stroke-width="1"/>
<line x1="88.30" y1="595.00" x2="90.30" y2="595.00" stroke="#222" stroke-width="0.7"/>
<text x="86.30" y="597.59" font-size="7.4" text-anchor="end" fill="#111" color="#111">NK cells</text>
<line x1="88.30" y1="643.00" x2="90.30" y2="643.00" stroke="#222" stroke-width="0.7"/>
<text x="86.30" y="645.59" font-size="7.4" text-anchor="end" fill="#111" color="#111">Treg</text>
<line x1="88.30" y1="690.60" x2="90.30" y2="690.60" stroke="#222" stroke-width="0.7"/>
<text x="86.30" y="693.19" font-size="7.4" text-anchor="end" fill="#111" color="#111">Naïve T</text>
<line x1="88.30" y1="738.30" x2="90.30" y2="738.30" stroke="#222" stroke-width="0.7"/>
<text x="86.30" y="740.89" font-size="7.4" text-anchor="end" fill="#111" color="#111">Effector CD8+ T cells</text>
<line x1="88.30" y1="786.30" x2="90.30" y2="786.30" stroke="#222" stroke-width="0.7"/>
<text x="86.30" y="788.89" font-size="7.4" text-anchor="end" fill="#111" color="#111">Gamma Delta T cells</text>
<line x1="88.30" y1="834.30" x2="90.30" y2="834.30" stroke="#222" stroke-width="0.7"/>
<text x="86.30" y="836.89" font-size="7.4" text-anchor="end" fill="#111" color="#111">Exausted T cells</text>
<line x1="98.50" y1="862.70" x2="98.50" y2="864.70" stroke="#222" stroke-width="0.7"/>
<text x="100.70" y="868.60" font-size="7.3" text-anchor="end" fill="#111" color="#111" transform="rotate(-45 100.70 868.60)">Tnfsf11</text>
<line x1="112.36" y1="862.70" x2="112.36" y2="864.70" stroke="#222" stroke-width="0.7"/>
<text x="114.56" y="868.60" font-size="7.3" text-anchor="end" fill="#111" color="#111" transform="rotate(-45 114.56 868.60)">Ifng</text>
<line x1="126.22" y1="862.70" x2="126.22" y2="864.70" stroke="#222" stroke-width="0.7"/>
<text x="128.42" y="868.60" font-size="7.3" text-anchor="end" fill="#111" color="#111" transform="rotate(-45 128.42 868.60)">Btla</text>
<line x1="140.08" y1="862.70" x2="140.08" y2="864.70" stroke="#222" stroke-width="0.7"/>
<text x="142.28" y="868.60" font-size="7.3" text-anchor="end" fill="#111" color="#111" transform="rotate(-45 142.28 868.60)">Il23r</text>
<line x1="153.94" y1="862.70" x2="153.94" y2="864.70" stroke="#222" stroke-width="0.7"/>
<text x="156.14" y="868.60" font-size="7.3" text-anchor="end" fill="#111" color="#111" transform="rotate(-45 156.14 868.60)">Tcrg-C1</text>
<line x1="167.80" y1="862.70" x2="167.80" y2="864.70" stroke="#222" stroke-width="0.7"/>
<text x="170.00" y="868.60" font-size="7.3" text-anchor="end" fill="#111" color="#111" transform="rotate(-45 170.00 868.60)">Cd163l1</text>
<line x1="181.66" y1="862.70" x2="181.66" y2="864.70" stroke="#222" stroke-width="0.7"/>
<text x="183.86" y="868.60" font-size="7.3" text-anchor="end" fill="#111" color="#111" transform="rotate(-45 183.86 868.60)">Cd8a</text>
<line x1="195.52" y1="862.70" x2="195.52" y2="864.70" stroke="#222" stroke-width="0.7"/>
<text x="197.72" y="868.60" font-size="7.3" text-anchor="end" fill="#111" color="#111" transform="rotate(-45 197.72 868.60)">Gzmk</text>
<line x1="209.38" y1="862.70" x2="209.38" y2="864.70" stroke="#222" stroke-width="0.7"/>
<text x="211.58" y="868.60" font-size="7.3" text-anchor="end" fill="#111" color="#111" transform="rotate(-45 211.58 868.60)">Prf1</text>
<line x1="223.24" y1="862.70" x2="223.24" y2="864.70" stroke="#222" stroke-width="0.7"/>
<text x="225.44" y="868.60" font-size="7.3" text-anchor="end" fill="#111" color="#111" transform="rotate(-45 225.44 868.60)">Gzma</text>
<line x1="237.10" y1="862.70" x2="237.10" y2="864.70" stroke="#222" stroke-width="0.7"/>
<text x="239.30" y="868.60" font-size="7.3" text-anchor="end" fill="#111" color="#111" transform="rotate(-45 239.30 868.60)">Sell</text>
<line x1="250.96" y1="862.70" x2="250.96" y2="864.70" stroke="#222" stroke-width="0.7"/>
<text x="253.16" y="868.60" font-size="7.3" text-anchor="end" fill="#111" color="#111" transform="rotate(-45 253.16 868.60)">Lef1</text>
<line x1="264.82" y1="862.70" x2="264.82" y2="864.70" stroke="#222" stroke-width="0.7"/>
<text x="267.02" y="868.60" font-size="7.3" text-anchor="end" fill="#111" color="#111" transform="rotate(-45 267.02 868.60)">Bach2</text>
<line x1="278.68" y1="862.70" x2="278.68" y2="864.70" stroke="#222" stroke-width="0.7"/>
<text x="280.88" y="868.60" font-size="7.3" text-anchor="end" fill="#111" color="#111" transform="rotate(-45 280.88 868.60)">Foxp3</text>
<line x1="292.54" y1="862.70" x2="292.54" y2="864.70" stroke="#222" stroke-width="0.7"/>
<text x="294.74" y="868.60" font-size="7.3" text-anchor="end" fill="#111" color="#111" transform="rotate(-45 294.74 868.60)">Izumo1r</text>
<line x1="306.40" y1="862.70" x2="306.40" y2="864.70" stroke="#222" stroke-width="0.7"/>
<text x="308.60" y="868.60" font-size="7.3" text-anchor="end" fill="#111" color="#111" transform="rotate(-45 308.60 868.60)">Lrrc32</text>
<line x1="320.26" y1="862.70" x2="320.26" y2="864.70" stroke="#222" stroke-width="0.7"/>
<text x="322.46" y="868.60" font-size="7.3" text-anchor="end" fill="#111" color="#111" transform="rotate(-45 322.46 868.60)">Klra4</text>
<line x1="334.12" y1="862.70" x2="334.12" y2="864.70" stroke="#222" stroke-width="0.7"/>
<text x="336.32" y="868.60" font-size="7.3" text-anchor="end" fill="#111" color="#111" transform="rotate(-45 336.32 868.60)">Klrb1b</text>
<line x1="347.98" y1="862.70" x2="347.98" y2="864.70" stroke="#222" stroke-width="0.7"/>
<text x="350.18" y="868.60" font-size="7.3" text-anchor="end" fill="#111" color="#111" transform="rotate(-45 350.18 868.60)">Klra8</text>
<text x="223.00" y="905.11" font-size="8.3" text-anchor="middle" fill="#111" color="#111">Features</text>
<text x="13.40" y="714.00" font-size="8.3" text-anchor="middle" fill="#111" color="#111" transform="rotate(-90 13.40 714.00)">Identity</text>
<text x="365.60" y="655.50" font-size="8.3" text-anchor="start" fill="#111" color="#111">Percent Expressed</text>
<circle cx="369.70" cy="667.30" r="0.60" fill="#bbb"/>
<text x="378.70" y="669.85" font-size="7.3" text-anchor="start" fill="#111" color="#111">0</text>
<circle cx="369.70" cy="677.90" r="1.60" fill="#111"/>
<text x="378.70" y="680.45" font-size="7.3" text-anchor="start" fill="#111" color="#111">25</text>
<circle cx="369.70" cy="688.60" r="2.60" fill="#111"/>
<text x="378.70" y="691.15" font-size="7.3" text-anchor="start" fill="#111" color="#111">50</text>
<circle cx="369.70" cy="699.20" r="3.50" fill="#111"/>
<text x="378.70" y="701.75" font-size="7.3" text-anchor="start" fill="#111" color="#111">75</text>
<text x="365.60" y="721.70" font-size="8.3" text-anchor="start" fill="#111" color="#111">Average Expression</text>
<defs><linearGradient id="ae" x1="0" y1="0" x2="0" y2="1"><stop offset="0" stop-color="#1a0af5"/><stop offset="0.5" stop-color="#8f78ea"/><stop offset="1" stop-color="#d6d4dc"/></linearGradient></defs>
<rect x="365.60" y="727.40" width="9.40" height="54.40" fill="url(#ae)"/>
<line x1="365.60" y1="729.40" x2="367.50" y2="729.40" stroke="#fff" stroke-width="0.6"/>
<line x1="373.10" y1="729.40" x2="375.00" y2="729.40" stroke="#fff" stroke-width="0.6"/>
<text x="378.70" y="731.95" font-size="7.3" text-anchor="start" fill="#111" color="#111">2</text>
<line x1="365.60" y1="744.60" x2="367.50" y2="744.60" stroke="#fff" stroke-width="0.6"/>
<line x1="373.10" y1="744.60" x2="375.00" y2="744.60" stroke="#fff" stroke-width="0.6"/>
<text x="378.70" y="747.15" font-size="7.3" text-anchor="start" fill="#111" color="#111">1</text>
<line x1="365.60" y1="760.50" x2="367.50" y2="760.50" stroke="#fff" stroke-width="0.6"/>
<line x1="373.10" y1="760.50" x2="375.00" y2="760.50" stroke="#fff" stroke-width="0.6"/>
<text x="378.70" y="763.05" font-size="7.3" text-anchor="start" fill="#111" color="#111">0</text>
<line x1="365.60" y1="776.50" x2="367.50" y2="776.50" stroke="#fff" stroke-width="0.6"/>
<line x1="373.10" y1="776.50" x2="375.00" y2="776.50" stroke="#fff" stroke-width="0.6"/>
<text x="378.70" y="779.05" font-size="7.3" text-anchor="start" fill="#111" color="#111">−1</text>
<text x="494.80" y="568.60" font-size="24" text-anchor="start" font-weight="bold" fill="#000" color="#000">g</text>
<text x="571.90" y="570.64" font-size="12.4" text-anchor="middle" font-weight="bold" fill="#000" color="#000">Brain</text>
<text x="501.00" y="737.10" font-size="24" text-anchor="start" font-weight="bold" fill="#000" color="#000">h</text>
<rect x="556.3" y="678.2" width="14.4" height="23.5" fill="#d9d9d9" stroke="#3a3a3a" stroke-width="1.0"/>
<rect x="578.8" y="629.6" width="14.9" height="72.1" fill="#5c5c5c" stroke="#3a3a3a" stroke-width="1.0"/>
<rect x="601.2" y="685.3" width="15.6" height="16.4" fill="#8c8c8c" stroke="#3a3a3a" stroke-width="1.0"/>
<line x1="563.50" y1="667.28" x2="563.50" y2="689.49" stroke="#111" stroke-width="0.9"/>
<line x1="560.30" y1="667.28" x2="566.70" y2="667.28" stroke="#111" stroke-width="0.9"/>
<line x1="560.30" y1="689.49" x2="566.70" y2="689.49" stroke="#111" stroke-width="0.9"/>
<line x1="586.20" y1="609.70" x2="586.20" y2="649.47" stroke="#111" stroke-width="0.9"/>
<line x1="583.00" y1="609.70" x2="589.40" y2="609.70" stroke="#111" stroke-width="0.9"/>
<line x1="583.00" y1="649.47" x2="589.40" y2="649.47" stroke="#111" stroke-width="0.9"/>
<line x1="608.90" y1="678.59" x2="608.90" y2="689.79" stroke="#111" stroke-width="0.9"/>
<line x1="605.70" y1="678.59" x2="612.10" y2="678.59" stroke="#111" stroke-width="0.9"/>
<line x1="605.70" y1="689.79" x2="612.10" y2="689.79" stroke="#111" stroke-width="0.9"/>
<circle cx="563.40" cy="662.58" r="1.90" fill="#000"/>
<circle cx="563.40" cy="670.79" r="1.90" fill="#000"/>
<circle cx="563.40" cy="682.82" r="1.90" fill="#000"/>
<circle cx="560.10" cy="688.60" r="1.90" fill="#000"/>
<circle cx="566.50" cy="687.59" r="1.90" fill="#000"/>
<polygon points="586.2,623.8 588.2,627.4 584.2,627.4" fill="#000"/>
<polygon points="586.2,648.6 588.2,652.2 584.2,652.2" fill="#000"/>
<polygon points="586.2,609.4 588.2,613.0 584.2,613.0" fill="#000"/>
<circle cx="608.9" cy="674.7" r="1.55" fill="#fff" fill-opacity="0.3" stroke="#000" stroke-width="1.0"/>
<circle cx="608.9" cy="683.0" r="1.55" fill="#fff" fill-opacity="0.3" stroke="#000" stroke-width="1.0"/>
<circle cx="605.8" cy="687.6" r="1.55" fill="#fff" fill-opacity="0.3" stroke="#000" stroke-width="1.0"/>
<circle cx="612.1" cy="689.3" r="1.55" fill="#fff" fill-opacity="0.3" stroke="#000" stroke-width="1.0"/>
<circle cx="605.8" cy="691.8" r="1.55" fill="#fff" fill-opacity="0.3" stroke="#000" stroke-width="1.0"/>
<line x1="548.80" y1="582.10" x2="548.80" y2="702.30" stroke="#111" stroke-width="1.3"/>
<line x1="548.20" y1="701.70" x2="625.20" y2="701.70" stroke="#111" stroke-width="1.3"/>
<line x1="543.30" y1="582.60" x2="548.80" y2="582.60" stroke="#111" stroke-width="1.2"/>
<text x="541.40" y="586.73" font-size="11.8" text-anchor="end" font-weight="bold" fill="#000" color="#000">2000</text>
<line x1="543.30" y1="612.38" x2="548.80" y2="612.38" stroke="#111" stroke-width="1.2"/>
<text x="541.40" y="616.50" font-size="11.8" text-anchor="end" font-weight="bold" fill="#000" color="#000">1500</text>
<line x1="543.30" y1="642.15" x2="548.80" y2="642.15" stroke="#111" stroke-width="1.2"/>
<text x="541.40" y="646.28" font-size="11.8" text-anchor="end" font-weight="bold" fill="#000" color="#000">1000</text>
<line x1="543.30" y1="671.93" x2="548.80" y2="671.93" stroke="#111" stroke-width="1.2"/>
<text x="541.40" y="676.06" font-size="11.8" text-anchor="end" font-weight="bold" fill="#000" color="#000">500</text>
<line x1="543.30" y1="701.70" x2="548.80" y2="701.70" stroke="#111" stroke-width="1.2"/>
<text x="541.40" y="705.83" font-size="11.8" text-anchor="end" font-weight="bold" fill="#000" color="#000">0</text>
<line x1="563.50" y1="701.70" x2="563.50" y2="707.00" stroke="#111" stroke-width="1.2"/>
<line x1="586.25" y1="701.70" x2="586.25" y2="707.00" stroke="#111" stroke-width="1.2"/>
<line x1="609.00" y1="701.70" x2="609.00" y2="707.00" stroke="#111" stroke-width="1.2"/>
<text x="575.20" y="603.45" font-size="9.0" text-anchor="middle" font-weight="bold" fill="#000" color="#000" letter-spacing="0.45">p = 0.0007</text>
<line x1="563.20" y1="607.10" x2="586.90" y2="607.10" stroke="#111" stroke-width="1.1"/>
<text x="597.60" y="587.35" font-size="9.0" text-anchor="middle" font-weight="bold" fill="#000" color="#000" letter-spacing="0.45">p = 0.0002</text>
<line x1="586.30" y1="591.30" x2="609.30" y2="591.30" stroke="#111" stroke-width="1.1"/>
<text x="508.9" y="639.5" font-size="11" font-weight="bold" text-anchor="middle" transform="rotate(-90 508.9 639.5)">H2-K<tspan font-size="7" dy="-4">b</tspan><tspan dy="4">OVA<tspan font-size="7" dy="-4">+</tspan><tspan dy="4">/CD8<tspan font-size="7" dy="-4">+</tspan><tspan dy="4"> Count</tspan></tspan></tspan></text>
<text x="567.50" y="714.70" font-size="11.0" text-anchor="end" font-weight="bold" fill="#000" color="#000" transform="rotate(-45 567.50 714.70)">C</text>
<text x="590.20" y="714.70" font-size="11.0" text-anchor="end" font-weight="bold" fill="#000" color="#000" transform="rotate(-45 590.20 714.70)">P</text>
<text x="613.50" y="714.70" font-size="11.0" text-anchor="end" font-weight="bold" fill="#000" color="#000" transform="rotate(-45 613.50 714.70)">P/Fer-1</text>
<rect x="554.4" y="864.0" width="14.6" height="6.6" fill="#d9d9d9" stroke="#3a3a3a" stroke-width="1.0"/>
<rect x="577.3" y="813.3" width="14.2" height="57.3" fill="#5c5c5c" stroke="#3a3a3a" stroke-width="1.0"/>
<rect x="599.4" y="827.5" width="14.4" height="43.1" fill="#8c8c8c" stroke="#3a3a3a" stroke-width="1.0"/>
<line x1="561.70" y1="861.02" x2="561.70" y2="867.01" stroke="#111" stroke-width="0.9"/>
<line x1="558.50" y1="861.02" x2="564.90" y2="861.02" stroke="#111" stroke-width="0.9"/>
<line x1="558.50" y1="867.01" x2="564.90" y2="867.01" stroke="#111" stroke-width="0.9"/>
<line x1="584.40" y1="783.39" x2="584.40" y2="842.69" stroke="#111" stroke-width="0.9"/>
<line x1="581.20" y1="783.39" x2="587.60" y2="783.39" stroke="#111" stroke-width="0.9"/>
<line x1="581.20" y1="842.69" x2="587.60" y2="842.69" stroke="#111" stroke-width="0.9"/>
<line x1="606.60" y1="800.40" x2="606.60" y2="854.43" stroke="#111" stroke-width="0.9"/>
<line x1="603.40" y1="800.40" x2="609.80" y2="800.40" stroke="#111" stroke-width="0.9"/>
<line x1="603.40" y1="854.43" x2="609.80" y2="854.43" stroke="#111" stroke-width="0.9"/>
<circle cx="558.70" cy="860.42" r="1.90" fill="#000"/>
<circle cx="564.80" cy="861.26" r="1.90" fill="#000"/>
<circle cx="561.50" cy="864.73" r="1.90" fill="#000"/>
<circle cx="555.80" cy="867.25" r="1.90" fill="#000"/>
<circle cx="567.50" cy="866.05" r="1.90" fill="#000"/>
<polygon points="584.3,777.5 586.3,781.1 582.3,781.1" fill="#000"/>
<polygon points="580.6,828.6 582.6,832.2 578.6,832.2" fill="#000"/>
<polygon points="587.8,828.6 589.8,832.2 585.8,832.2" fill="#000"/>
<circle cx="606.5" cy="786.0" r="1.55" fill="#fff" fill-opacity="0.3" stroke="#000" stroke-width="1.0"/>
<circle cx="606.5" cy="816.0" r="1.55" fill="#fff" fill-opacity="0.3" stroke="#000" stroke-width="1.0"/>
<circle cx="606.5" cy="839.6" r="1.55" fill="#fff" fill-opacity="0.3" stroke="#000" stroke-width="1.0"/>
<circle cx="606.5" cy="843.0" r="1.55" fill="#fff" fill-opacity="0.3" stroke="#000" stroke-width="1.0"/>
<circle cx="606.5" cy="851.7" r="1.55" fill="#fff" fill-opacity="0.3" stroke="#000" stroke-width="1.0"/>
<line x1="546.40" y1="750.30" x2="546.40" y2="871.20" stroke="#111" stroke-width="1.3"/>
<line x1="545.80" y1="870.60" x2="621.60" y2="870.60" stroke="#111" stroke-width="1.3"/>
<line x1="540.90" y1="750.80" x2="546.40" y2="750.80" stroke="#111" stroke-width="1.2"/>
<text x="539.00" y="754.93" font-size="11.8" text-anchor="end" font-weight="bold" fill="#000" color="#000">100</text>
<line x1="540.90" y1="774.76" x2="546.40" y2="774.76" stroke="#111" stroke-width="1.2"/>
<text x="539.00" y="778.89" font-size="11.8" text-anchor="end" font-weight="bold" fill="#000" color="#000">80</text>
<line x1="540.90" y1="798.72" x2="546.40" y2="798.72" stroke="#111" stroke-width="1.2"/>
<text x="539.00" y="802.85" font-size="11.8" text-anchor="end" font-weight="bold" fill="#000" color="#000">60</text>
<line x1="540.90" y1="822.68" x2="546.40" y2="822.68" stroke="#111" stroke-width="1.2"/>
<text x="539.00" y="826.81" font-size="11.8" text-anchor="end" font-weight="bold" fill="#000" color="#000">40</text>
<line x1="540.90" y1="846.64" x2="546.40" y2="846.64" stroke="#111" stroke-width="1.2"/>
<text x="539.00" y="850.77" font-size="11.8" text-anchor="end" font-weight="bold" fill="#000" color="#000">20</text>
<line x1="540.90" y1="870.60" x2="546.40" y2="870.60" stroke="#111" stroke-width="1.2"/>
<text x="539.00" y="874.73" font-size="11.8" text-anchor="end" font-weight="bold" fill="#000" color="#000">0</text>
<line x1="561.70" y1="870.60" x2="561.70" y2="875.90" stroke="#111" stroke-width="1.2"/>
<line x1="584.40" y1="870.60" x2="584.40" y2="875.90" stroke="#111" stroke-width="1.2"/>
<line x1="606.60" y1="870.60" x2="606.60" y2="875.90" stroke="#111" stroke-width="1.2"/>
<text x="573.40" y="770.35" font-size="9.0" text-anchor="middle" font-weight="bold" fill="#000" color="#000" letter-spacing="0.45">p = 0.0224</text>
<line x1="561.70" y1="774.50" x2="584.20" y2="774.50" stroke="#111" stroke-width="1.1"/>
<text x="595.80" y="755.55" font-size="9.0" text-anchor="middle" font-weight="bold" fill="#000" color="#000" letter-spacing="0.45">p = 0.6489</text>
<line x1="584.20" y1="759.50" x2="607.20" y2="759.50" stroke="#111" stroke-width="1.1"/>
<text x="511.9" y="809.0" font-size="11" font-weight="bold" text-anchor="middle" transform="rotate(-90 511.9 809.0)">H2-K<tspan font-size="7" dy="-4">b</tspan><tspan dy="4">gB<tspan font-size="7" dy="-4">+</tspan><tspan dy="4">/CD8<tspan font-size="7" dy="-4">+</tspan><tspan dy="4"> Count</tspan></tspan></tspan></text>
<text x="565.50" y="883.60" font-size="11.0" text-anchor="end" font-weight="bold" fill="#000" color="#000" transform="rotate(-45 565.50 883.60)">C</text>
<text x="588.20" y="883.60" font-size="11.0" text-anchor="end" font-weight="bold" fill="#000" color="#000" transform="rotate(-45 588.20 883.60)">P</text>
<text x="611.00" y="883.60" font-size="11.0" text-anchor="end" font-weight="bold" fill="#000" color="#000" transform="rotate(-45 611.00 883.60)">P/Fer-1</text>
</svg></body></html>
